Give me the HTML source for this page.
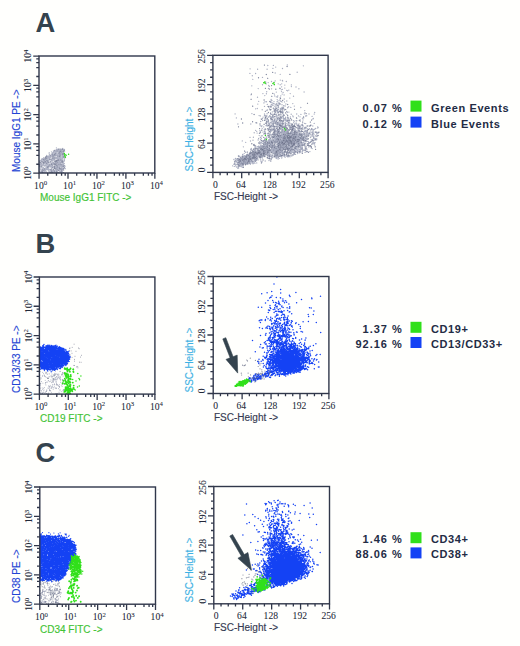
<!DOCTYPE html>
<html><head><meta charset="utf-8"><style>
html,body{margin:0;padding:0;background:#fffffd;}
body{width:520px;height:646px;overflow:hidden;}
svg{display:block;}
.tk{font-family:"Liberation Serif",serif;font-size:9.6px;fill:#222838;stroke:#222838;stroke-width:0.06px;}
.sup{font-size:6.8px;}
.ax{font-family:"Liberation Sans",sans-serif;font-size:10px;stroke-width:0.15px;}
.big{font-family:"Liberation Sans",sans-serif;font-weight:bold;font-size:28.5px;fill:#34434e;}
.lg{font-family:"Liberation Sans",sans-serif;font-weight:bold;font-size:11px;fill:#232c45;letter-spacing:0.6px;}
.pc{letter-spacing:1.0px;}
</style></head><body>
<svg width="520" height="646" viewBox="0 0 520 646">
<g transform="scale(0.1)">
<path d="M645 1494h0m-14-2h0m-3-8h0m-1 13h0m0 0h0m-4-8h0m-2 9h0m0-2h0m-6 1h0m-1-1h0m-3 3h0m-1-7h0m-8 3h0m-1-6h0m0 2h0m-2 3h0m-3-1h0m-4-1h0m-5 2h0m-2 0h0m0 5h0m-4-10h0m0 4h0m-10 1h0m-7-16h0m-2 16h0m-70 33h0m22-9h0m9 11h0m3-1h0m7-18h0m0 18h0m1-6h0m2 3h0m1-1h0m0-12h0m0 12h0m3-3h0m3-7h0m0-10h0m5 25h0m2-16h0m0-7h0m2 12h0m5-10h0m1 6h0m1-10h0m1 8h0m1-4h0m0 14h0m2-7h0m0-8h0m1 1h0m4-4h0m1 16h0m2-18h0m0 8h0m0 2h0m3-5h0m5 5h0m0-12h0m2 21h0m0-3h0m3 4h0m1 3h0m3-1h0m1-18h0m1 9h0m0-15h0m3 0h0m1 23h0m0-20h0m3 8h0m3 6h0m1 0h0m3-12h0m2 1h0m0 7h0m0 16h0m0-15h0m0-1h0m3-13h0m1 0h0m2 20h0m2-11h0m0 4h0m0 3h0m1 3h0m1 7h0m5-11h0m4 1h0m1 13h0m3-29h0m0 25h0m1-13h0m0-8h0m0 0h0m1 16h0m0-15h0m1 8h0m0-12h0m1 27h0m0-16h0m0 17h0m1 0h0m2-29h0m1 21h0m0-21h0m0 29h0m6-25h0m3 8h0m0 45h0m-4-14h0m-2 5h0m-4-18h0m-2 8h0m-3 8h0m0-15h0m-1 28h0m-1-16h0m0 15h0m-2-4h0m0-16h0m0 5h0m0-5h0m-1 16h0m0-14h0m-2 12h0m-4-12h0m-4 4h0m-1-11h0m-3-2h0m0 10h0m-1 2h0m-1 11h0m-5-15h0m-3-8h0m-1 9h0m0 11h0m-1-21h0m0 19h0m-1-8h0m-1-5h0m0 9h0m0-11h0m-1 4h0m-1-4h0m0 22h0m-1-5h0m-2-19h0m-1 25h0m0-10h0m-2-11h0m-2 22h0m0-2h0m0-23h0m-1-3h0m-1 0h0m0 17h0m0-14h0m-3-3h0m-2 0h0m-1 4h0m-1 13h0m0-17h0m-2 9h0m-1 12h0m-4 5h0m-2-2h0m-2-6h0m-3-12h0m-1 16h0m-1-8h0m-1 8h0m0 3h0m0-2h0m0-2h0m0-10h0m-1 12h0m0-5h0m0-6h0m0-10h0m-1 8h0m-1 8h0m-1 3h0m-1-21h0m0 5h0m-3 10h0m-1-15h0m-2 21h0m-2 6h0m-1-8h0m-1-9h0m-1 16h0m-1-11h0m-1 11h0m0-1h0m0-15h0m0 2h0m-4 7h0m0 2h0m-3 8h0m0-4h0m-2-14h0m-1 2h0m-3 10h0m-1-6h0m0-4h0m-1 11h0m-2-11h0m-2-10h0m-1 21h0m0-14h0m-1 18h0m-2-5h0m-1-2h0m-2 7h0m-1-6h0m-2-11h0m-3 5h0m0-5h0m0 1h0m-8 15h0m-3 2h0m-6-12h0m-1 12h0m-3-21h0m-9 21h0m-15-5h0m-46 35h0m7-4h0m2 3h0m7-6h0m0-6h0m12 13h0m2-11h0m0 2h0m4 1h0m0-11h0m3 12h0m1-6h0m1-10h0m3 18h0m1-21h0m1 21h0m0-23h0m2 2h0m0 0h0m1 8h0m5-6h0m0 19h0m0 1h0m2 2h0m0-14h0m1 1h0m3-14h0m0 3h0m0 2h0m1 11h0m1 0h0m1-5h0m4 11h0m2-7h0m0-7h0m1 8h0m0-3h0m1 1h0m1 14h0m1-6h0m1-14h0m1 11h0m0-15h0m3 11h0m2-13h0m0 23h0m3-18h0m2 7h0m1-13h0m1 14h0m0-7h0m3-7h0m8 19h0m1-17h0m2 23h0m3-8h0m3-18h0m2 5h0m2 15h0m0 4h0m2-17h0m0 17h0m1-4h0m1-2h0m3 10h0m3-15h0m1 9h0m0-16h0m0 23h0m4-16h0m3 6h0m1 8h0m0 2h0m5-17h0m3 8h0m0 0h0m1-12h0m1 2h0m1 9h0m2-4h0m2-2h0m2 13h0m4-10h0m2 5h0m1-19h0m1 7h0m1-8h0m1 12h0m0 1h0m1 11h0m2-1h0m0 3h0m0-27h0m1 11h0m3 16h0m0-21h0m3 4h0m1-7h0m1 23h0m3-9h0m0-14h0m3 23h0m0-10h0m0-12h0m1 16h0m2-18h0m0 3h0m1 0h0m1-5h0m0 19h0m1-14h0m3-5h0m1 0h0m0 21h0m0-5h0m1-10h0m0 9h0m3 10h0m3 2h0m2-16h0m6-6h0m1 5h0m0-8h0m1 4h0m1 21h0m1-14h0m0-13h0m1 18h0m0 2h0m0 4h0m1-16h0m2-3h0m3 5h0m5 8h0m1-15h0m4 11h0m0 1h0m8 7h0m8-14h0m-11 32h0m-1 4h0m-1-12h0m-1 24h0m-1-21h0m-5 16h0m-3-1h0m0 9h0m-6-4h0m-1-6h0m-3-12h0m0-4h0m-1 23h0m0-26h0m-4 13h0m0-6h0m0 13h0m-4-2h0m-1-8h0m0-7h0m-2-3h0m0 22h0m-2-16h0m-1 13h0m-2 1h0m-2-11h0m-1 7h0m-3 3h0m-1-6h0m-2 4h0m-1 2h0m0 9h0m-2-24h0m-2 6h0m-3-1h0m-1 1h0m-1 15h0m-1 2h0m-1-15h0m-1-8h0m-3 17h0m-1 4h0m-3-13h0m-5 2h0m-3 8h0m-1-5h0m0-16h0m-4 21h0m-2-5h0m0-1h0m0 13h0m-2-1h0m-1-14h0m0 3h0m0 5h0m-2 2h0m-1 0h0m-3 1h0m-4-7h0m-2 9h0m0-24h0m-2-2h0m0 5h0m-1 4h0m-4-8h0m-2 1h0m0-1h0m-3 5h0m-4 7h0m-1-9h0m0 8h0m-1-6h0m-5 3h0m-2-2h0m-2 10h0m0-6h0m-6 3h0m-1-8h0m-3 0h0m-1-1h0m-1 22h0m-1-7h0m-2 6h0m-2-3h0m-2-23h0m-4 3h0m-7 10h0m0-5h0m-6 12h0m0 4h0m-1 3h0m0-19h0m0 1h0m-1 5h0m-1-6h0m-5 14h0m-2 5h0m-1-16h0m-1 14h0m0-7h0m-5-6h0m-3-4h0m-2 18h0m-1-24h0m-4 8h0m-1 15h0m-1 0h0m-2-3h0m-2-16h0m-2 6h0m-1 8h0m-2 1h0m-2 3h0m-1-24h0m-3 11h0m-4 10h0m-1-4h0m-1-12h0m-2 7h0m-1-13h0m0 9h0m-5 1h0m-1 19h0m-3-3h0m-1-19h0m-1 1h0m-1 5h0m-1 15h0m-2-15h0m-1-13h0m-1 7h0m-1 12h0m0-11h0m-8 9h0m-9 2h0m0 8h0m0-1h0m0-1h0m0 3h0m0 18h0m0-6h0m0 13h0m0-2h0m0 5h0m0 0h0m0-24h0m0-2h0m0 21h0m0 6h0m1-13h0m0 10h0m4-15h0m2-4h0m1-5h0m2 23h0m2-20h0m2 10h0m3 2h0m3 6h0m5 6h0m8-25h0m2 14h0m0 9h0m1-13h0m0-2h0m0-3h0m1-2h0m1 10h0m4 14h0m0-29h0m0 0h0m2 19h0m0-8h0m3 0h0m2 4h0m0-6h0m4-4h0m1-5h0m3 19h0m4-11h0m0 12h0m4-1h0m1-3h0m1-8h0m1-5h0m1 11h0m1 0h0m0-10h0m0 0h0m1 1h0m1 21h0m1-21h0m4-2h0m0 18h0m1-10h0m1 8h0m0 2h0m1 2h0m5-18h0m3 7h0m1-8h0m0 23h0m0-19h0m0-2h0m1 3h0m3-6h0m3-3h0m4 29h0m0-8h0m5-14h0m1 16h0m7-3h0m1 4h0m2-24h0m1 17h0m1 9h0m3-3h0m5-13h0m1 7h0m2 8h0m0-25h0m1 2h0m1 10h0m0 1h0m1-2h0m1 18h0m0-8h0m4 6h0m0-15h0m1-3h0m0-3h0m2 16h0m0-12h0m1-10h0m1 23h0m1-8h0m1-2h0m7 13h0m0 1h0m1-8h0m2-19h0m1 29h0m1-22h0m1-5h0m3 25h0m1-2h0m0-24h0m1 5h0m1 5h0m0 0h0m0 9h0m1 0h0m5-20h0m1 24h0m2-7h0m0 3h0m1-6h0m1-1h0m0 1h0m0 11h0m2-20h0m1-3h0m0 22h0m1 0h0m1-10h0m0 14h0m2-20h0m2 6h0m1 11h0m0-7h0m0-2h0m0-12h0m2 17h0m0-6h0m2-12h0m2 13h0m1 11h0m0-21h0m1 21h0m1-1h0m0-19h0m1 1h0m5 12h0m0 4h0m2-12h0m1-7h0m0-4h0m1 20h0m0-12h0m4 10h0m1 1h0m0-11h0m0 9h0m2-13h0m2 22h0m0-5h0m1 4h0m3-23h0m1 24h0m0 0h0m7-13h0m0 14h0m3-20h0m2 16h0m0-23h0m2 6h0m0-6h0m3 3h0m4 6h0m0 14h0m10-7h0m6 30h0m-1-9h0m-4-2h0m-2 15h0m-1 4h0m-2-19h0m-4 5h0m-1-2h0m-2 3h0m-2 5h0m-2-8h0m-4-5h0m0-2h0m-1 15h0m-2 12h0m0-22h0m-1 13h0m0-2h0m-1-1h0m0-17h0m0 7h0m-4-4h0m-1 17h0m-1-11h0m-2-4h0m-1 10h0m0-2h0m-7-12h0m-2 9h0m-1-4h0m-1 2h0m-2-4h0m-1 11h0m-1 6h0m0-8h0m-2-4h0m-1 18h0m-2-7h0m-2-9h0m-6-9h0m-2 26h0m0-10h0m-8-16h0m0 18h0m0-11h0m-2 11h0m-2-11h0m0-5h0m-1 1h0m0 0h0m-3 22h0m-1-1h0m-2 2h0m-1-22h0m-2 3h0m0 9h0m-2-10h0m0 10h0m-1-1h0m-3 0h0m0 3h0m-3 1h0m-1-20h0m-3 10h0m-1 16h0m-1-14h0m-2 4h0m-6 2h0m-2-1h0m-3 7h0m0 3h0m-3-9h0m-1-17h0m-4 24h0m-1-12h0m-4 9h0m-2-7h0m0-10h0m-7 4h0m-2 11h0m-1-17h0m-3 11h0m-4-12h0m-1 5h0m-1-2h0m-4 12h0m-1-12h0m-2 3h0m-4 14h0m0-10h0m-1-7h0m-1 19h0m0-6h0m-1-11h0m-1 16h0m0-15h0m-4 16h0m0-21h0m-1 4h0m-2 10h0m-5 6h0m-1-5h0m-3-6h0m-4-13h0m0 2h0m-2 9h0m-1 15h0m-1 2h0m-2-19h0m-2-5h0m-7 4h0m-1-2h0m-4 5h0m-5-4h0m-2 20h0m-13-2h0m-1-17h0m0 4h0m-1-5h0m0 15h0m0-19h0m-1-3h0m-7 13h0m-1 1h0m-2 12h0m0-16h0m-2-1h0m-11 4h0m0 1h0m0 9h0m0-18h0m0 21h0m0-7h0m0 8h0m0-2h0m0-14h0m0-10h0m0-1h0m0 4h0m0 15h0m0-4h0m0-10h0m0 11h0m0 2h0m0 0h0m0-14h0m0-3h0m0 13h0m0 8h0m0-12h0m0 0h0m0 20h0m0 7h0m0 4h0m0-11h0m0 11h0m0 1h0m0-4h0m0-1h0m0 14h0m0-1h0m0-4h0m0-8h0m0-7h0m1 28h0m2-9h0m7-8h0m2 0h0m6 13h0m6-8h0m0 0h0m1-10h0m3 15h0m2-9h0m4 6h0m2-19h0m5 7h0m1 22h0m0-5h0m3-6h0m2 6h0m1-21h0m0 7h0m4 4h0m3 7h0m1-11h0m3-4h0m1 13h0m4 10h0m2-21h0m0-2h0m2-5h0m1 8h0m1 5h0m1-6h0m8-6h0m0-1h0m1 16h0m2-7h0m1-7h0m0 6h0m3 3h0m1-11h0m1 18h0m4 10h0m2-19h0m4 5h0m8-3h0m4 6h0m4 7h0m2 0h0m0 0h0m2-12h0m2 13h0m0-15h0m1 15h0m0-19h0m1 3h0m2 1h0m2 14h0m3 4h0m4-9h0m3-3h0m3 5h0m1-6h0m4 11h0m0-6h0m1 3h0m0-21h0m2 25h0m1-25h0m4 2h0m0-2h0m5 7h0m1 10h0m6-18h0m1 23h0m4-15h0m1 1h0m0 5h0m0 11h0m1-12h0m1-9h0m1 2h0m2 10h0m0 5h0m1-20h0m3 6h0m4 11h0m0-7h0m2-9h0m3 20h0m2-22h0m1 19h0m0-3h0m1 1h0m4 7h0m1-1h0m3-9h0m0 12h0m0-23h0m2 8h0m0 2h0m2-4h0m1 0h0m3-1h0m1-1h0m3-9h0m1 8h0m0 11h0m0-11h0m2 12h0m0 0h0m0-8h0m3-4h0m0-3h0m1 0h0m0 4h0m5 7h0m1 10h0m1-22h0m4 0h0m3 10h0m7-7h0m1 13h0m4-17h0m5-1h0m7 5h0m-18 38h0m-5 0h0m-1 0h0m-3 0h0m0 0h0m0 0h0m-2-8h0m-3 8h0m-4 0h0m0 0h0m-1 0h0m0 0h0m0-3h0m-1 2h0m0-12h0m-1 4h0m-1 9h0m-1 0h0m0 0h0m-1 0h0m-2 0h0m0-2h0m-1-6h0m0 8h0m-1-5h0m-1 0h0m-1 5h0m-1 0h0m0-14h0m-1 14h0m-3-7h0m0 7h0m-1 0h0m-1 0h0m0 0h0m0-12h0m-1-3h0m-2 15h0m-1 0h0m0-14h0m-1 14h0m-2 0h0m-5 0h0m-1 0h0m0 0h0m0 0h0m-1 0h0m0 0h0m-2 0h0m0 0h0m-4 0h0m-1-8h0m-2 8h0m0 0h0m-2-10h0m-1 10h0m-1 0h0m-2 0h0m0 0h0m-1-11h0m-1-3h0m-1 6h0m-1 4h0m-1 4h0m-1 0h0m-2 0h0m-2 0h0m-2 0h0m0-10h0m-1 10h0m-3 0h0m-4-11h0m-1 5h0m-3 6h0m0 0h0m-1 0h0m0-9h0m0 9h0m-1 0h0m0 0h0m-1-4h0m-3 4h0m-1 0h0m-5-7h0m0 7h0m0-10h0m-2 10h0m0-5h0m-1 5h0m-2 0h0m0 0h0m-1-6h0m0 3h0m0 3h0m-1-4h0m-1 4h0m-2-3h0m0 3h0m0-10h0m-2 10h0m0-1h0m-3 1h0m-1-10h0m0-1h0m-1-3h0m-2 14h0m-2 0h0m0-13h0m0 1h0m-1 12h0m-3 0h0m-3 0h0m0 0h0m0-14h0m-1 14h0m-2 0h0m-1 0h0m-1 0h0m-1 0h0m-3-13h0m-3 13h0m-1 0h0m0 0h0m-1 0h0m-1 0h0m-1-14h0m0 8h0m-16 6h0m-4 0h0m-3-3h0m-1 3h0m-3 0h0m0 0h0m0 0h0m-1-8h0m-5 8h0m0 0h0m-4 0h0m-3 0h0m-1 0h0m0 0h0m0-13h0m-3 13h0m-1 0h0m-2-7h0m-1 2h0m0-5h0m-3 9h0m-6 1h0m-1 0h0m0-5h0m-1 5h0m0 0h0m-4 0h0m-1-9h0m0-2h0m0 11h0m0 0h0m-4 0h0m0 0h0m-1 0h0m0 0h0m-3 0h0m-1 0h0m0 0h0m-2 0h0m0-8h0m-2-6h0m0 6h0m-3 2h0m-2 6h0m0 0h0m-5 0h0m0 0h0m-2 0h0m-1 0h0m-1-12h0m-2 2h0m0 6h0m0 4h0m0 0h0m0-10h0m0 10h0m0 0h0m0 0h0m0 0h0m0 0h0m0-3h0" stroke="#a0a5ba" stroke-width="12.5" stroke-linecap="round" fill="none" opacity="0.85"/>
<path d="M627 1497h0m-4-8h0m-36 5h0m-44 10h0m28 6h0m23 13h0m6-6h0m6-4h0m3-13h0m3 20h0m20-7h0m1-1h0m10-8h0m3 53h0m-4-14h0m-8-5h0m-7 0h0m0 5h0m-26-3h0m0 11h0m-11-15h0m-33-1h0m-6 16h0m-3-2h0m-4-7h0m-7 17h0m-10-16h0m-23 14h0m-53 23h0m4 1h0m0-11h0m8 14h0m4-21h0m1 8h0m55 7h0m3-18h0m4 24h0m10-11h0m9 16h0m30-29h0m15 4h0m5-4h0m37 3h0m4 12h0m16-7h0m-30 41h0m-4 7h0m-4-6h0m-14-11h0m-16 1h0m-3 2h0m-8 0h0m-5 2h0m-8 8h0m-2-5h0m0-1h0m-2 12h0m-4-4h0m-9 3h0m-37-20h0m-2 21h0m-11-24h0m-23 24h0m-1-16h0m-6 1h0m-12 13h0m-4-19h0m-3 14h0m-14-15h0m-12 20h0m-4 2h0m-22 28h0m0-26h0m1 24h0m6-19h0m7 8h0m22-1h0m0-2h0m1-5h0m16 0h0m16 9h0m20-10h0m11 25h0m17-12h0m1 9h0m26-13h0m7 13h0m1-7h0m9 6h0m2-14h0m1 9h0m13-18h0m16 24h0m19-4h0m4-19h0m1 24h0m14-20h0m15 48h0m-2-19h0m-7 6h0m-2 5h0m-38 10h0m-20-7h0m-4-11h0m-1-4h0m-23 22h0m-1-14h0m-2 4h0m-15-15h0m-4 24h0m-37-13h0m-8 12h0m-3-7h0m-55-15h0m-8 10h0m-3-3h0m-13-5h0m0 6h0m0 7h0m0-8h0m28 42h0m6-3h0m8 5h0m6-14h0m62 8h0m10-7h0m20 5h0m5 8h0m3-21h0m4 0h0m5 7h0m7-8h0m11 16h0m13 6h0m12-19h0m4 6h0m8-11h0m1 8h0m11 8h0m1 10h0m15-19h0m1 13h0m-2 25h0m-20-13h0m-3 13h0m-28 0h0m-9 0h0m-6 0h0m-3-8h0m-22-1h0m-17 6h0m-2 3h0m-9-14h0m-2 14h0m-2-13h0m-4 13h0m-8 0h0m-70 0h0m-4 0h0m-1-9h0m-5 9h0m-6-8h0m-18-2h0m0 10h0m0 0h0" stroke="#686e86" stroke-width="10.0" stroke-linecap="round" fill="none" opacity="0.60"/>
<path d="M686 1542h0m-24 10h0m-12-6h0m-6-12h0m2 26h0m8 12h0" stroke="#30e01a" stroke-width="15.0" stroke-linecap="round" fill="none"/>
<path d="M3034 658h0m-161-9h0m-139 5h0m-56 1h0m-34-4h0m-143 37h0m228-4h0m28-13h0m68 14h0m46-20h0m-200 27h0m-95 0h0m-77 42h0m57 1h0m107 10h0m64-21h0m25 6h0m50 13h0m97 1h0m73-22h0m-347 52h0m-40 3h0m-62-20h0m5 36h0m149-10h0m75 25h0m51-7h0m21 3h0m2 5h0m37 6h0m-46 23h0m-35 0h0m-40-16h0m-27-7h0m-33 11h0m-19 12h0m-6-17h0m-139 37h0m107-11h0m62 7h0m6 10h0m23-8h0m25-13h0m1 5h0m60-1h0m14 21h0m32-17h0m66 15h0m0-17h0m75 38h0m-29-17h0m-112 11h0m-24 12h0m-11 5h0m-13-13h0m-1-4h0m-41 11h0m-42-4h0m-23 3h0m-8-7h0m-31 0h0m-72 2h0m85 31h0m96 4h0m52-5h0m16 9h0m37-21h0m8 4h0m12-7h0m153 19h0m-139 16h0m-61 13h0m-19-8h0m-14 17h0m-30 0h0m-31 1h0m-3-18h0m-16-7h0m-64 3h0m-16 19h0m-19-20h0m-115 5h0m-4 7h0m65 24h0m143-9h0m45 5h0m12 2h0m26 11h0m2-8h0m2 12h0m93-4h0m37-19h0m-67 48h0m-23 9h0m-3-29h0m-15 14h0m-7 15h0m-9-5h0m-8-5h0m-5-9h0m-17 8h0m-9-12h0m-1 21h0m-31-1h0m-21-12h0m-8-9h0m-3 17h0m-10 3h0m-33 2h0m-15 0h0m-9-17h0m-54 13h0m-76-20h0m67 48h0m61-12h0m34 15h0m32-20h0m8 19h0m6-18h0m4 24h0m7-14h0m8 0h0m12 6h0m11 7h0m5-11h0m11 12h0m6-17h0m6-4h0m4 17h0m4-12h0m8 8h0m15 6h0m39-7h0m18 5h0m51-9h0m147-3h0m-67 42h0m-65-14h0m-35 13h0m-21-6h0m-3 0h0m-8 9h0m-24-17h0m-14-2h0m-2 21h0m-4 0h0m-10-7h0m-36 0h0m-1-19h0m-2 11h0m-3 14h0m-2 1h0m0-23h0m-16 5h0m-1 16h0m-7 1h0m-5-16h0m-19-7h0m-19 7h0m-1 9h0m-6-4h0m-2-5h0m-14 5h0m0 5h0m-7-8h0m-36 0h0m-118-2h0m29 26h0m17-3h0m49 12h0m46 7h0m1 1h0m5-6h0m21-10h0m6 8h0m4 1h0m6-3h0m22-13h0m8 17h0m4 5h0m4-17h0m1 15h0m4-18h0m2 14h0m2-13h0m2 6h0m3-4h0m1-2h0m5 22h0m2-4h0m4-10h0m2 4h0m3 12h0m4-15h0m20 2h0m0-7h0m0-5h0m10-2h0m2 8h0m0-2h0m5 8h0m1 13h0m6-24h0m13 6h0m1 8h0m15-4h0m88-2h0m102 13h0m100 19h0m-86 11h0m-11-10h0m-6 12h0m-155-17h0m-15 1h0m-8-8h0m-9 15h0m-25-9h0m-3 11h0m-2-2h0m-6-1h0m-2-8h0m-2 6h0m-6-8h0m-3-2h0m-2 9h0m-1-15h0m-1 12h0m-1-8h0m-6-2h0m-10 7h0m-4 8h0m-6 0h0m-3-10h0m0-5h0m-17 9h0m-2-10h0m-3 11h0m-8 12h0m-2-18h0m-19 3h0m-18 13h0m-21-7h0m-13 12h0m-18-24h0m-134 23h0m-168 3h0m190 6h0m50 11h0m13 3h0m41-4h0m0-15h0m3 19h0m5-5h0m3 12h0m4 1h0m8-8h0m22 5h0m6-7h0m7 5h0m2 2h0m3-21h0m4 0h0m7 26h0m2-28h0m0 1h0m4 21h0m1-4h0m4 10h0m3-20h0m6 17h0m7-21h0m1 22h0m5-24h0m8 8h0m0-11h0m0 27h0m3 1h0m3-20h0m0 4h0m2 0h0m4 7h0m15-10h0m2 2h0m2-7h0m11 18h0m2-20h0m2 0h0m13 7h0m3 17h0m9-6h0m2 6h0m3-15h0m1-4h0m7 7h0m25-11h0m8 11h0m0 14h0m35-26h0m15 16h0m5 9h0m35-27h0m18 19h0m15 9h0m9-24h0m47 16h0m11-3h0m23-17h0m31 24h0m21-23h0m-9 43h0m-4 6h0m-92-11h0m-1-9h0m-6 29h0m-6-17h0m-56 1h0m-3-4h0m-49 20h0m-9-13h0m-3-16h0m-13 21h0m-6-11h0m-6 0h0m-5-3h0m-3 22h0m-15-28h0m0 14h0m-2-5h0m-4 18h0m-1-15h0m-6 3h0m-3 8h0m-3-7h0m-3-15h0m-4 5h0m-1 4h0m-16-8h0m0 11h0m-1-9h0m-1-1h0m-4 16h0m-3-8h0m-2-5h0m-6 9h0m0 3h0m-1 3h0m-3 3h0m-1-14h0m0 18h0m-1-18h0m-8-10h0m0 2h0m-2 5h0m0 12h0m-3-7h0m-2 0h0m-1 15h0m-4-13h0m-2-7h0m-7 21h0m-8-11h0m-9 2h0m-11-13h0m-6 22h0m-3-6h0m-2-19h0m-1 21h0m-2-25h0m-1 13h0m0-7h0m-1 22h0m-1-4h0m-3-2h0m0-18h0m-1 19h0m-4 5h0m-2-16h0m-18-10h0m-10 21h0m-5-6h0m-3-7h0m-4 11h0m-12-16h0m-1 7h0m-3 0h0m-19-11h0m-6 14h0m-9 8h0m-4-3h0m-198 0h0m-50-11h0m162 38h0m35 10h0m46-12h0m19-10h0m20-2h0m5-3h0m14 13h0m1 16h0m4-4h0m2-16h0m7 7h0m6-14h0m1 17h0m18 6h0m2-2h0m12-7h0m2 10h0m3-9h0m5-8h0m0-6h0m8 13h0m4-3h0m1 1h0m0-11h0m1 6h0m2-9h0m0 7h0m0 21h0m3-19h0m1 9h0m2-4h0m0 12h0m7-7h0m5-14h0m3 14h0m0-7h0m6-8h0m2 21h0m1 2h0m3 0h0m2 2h0m2-3h0m2-6h0m3 6h0m2-2h0m0 2h0m5 2h0m2-20h0m2-4h0m2 2h0m2-6h0m4 21h0m0-8h0m0 3h0m2-12h0m4 7h0m4-6h0m0 6h0m3 4h0m2 13h0m2 1h0m8-7h0m0-7h0m1-9h0m0-3h0m1 11h0m17-12h0m2 20h0m5-22h0m3 0h0m2 8h0m8 8h0m1-4h0m0-10h0m4 14h0m5-13h0m2 15h0m0-11h0m4-6h0m2 25h0m9-7h0m1-16h0m37 3h0m3 20h0m5-14h0m19-5h0m0 22h0m7-22h0m25-4h0m9 10h0m1-13h0m24 21h0m76 0h0m13-20h0m26 33h0m-33 18h0m-7 3h0m-22 4h0m-23-23h0m-12-3h0m-20 9h0m-2 10h0m0-8h0m-10 6h0m-23 5h0m0-17h0m-6 13h0m-5 2h0m-10-3h0m-1-11h0m-17 0h0m-5 20h0m-2-9h0m0-10h0m-4 16h0m-9 1h0m-7-14h0m-4 0h0m-2-7h0m-1 20h0m-2-13h0m-14 9h0m-1-17h0m-2 22h0m-4-2h0m-7-13h0m-1-12h0m-2 25h0m0 2h0m-10-7h0m-4-14h0m-10 21h0m-3-25h0m-1 17h0m0-14h0m-7 18h0m-1-15h0m-15 2h0m-1-5h0m-4 14h0m-2 3h0m0 7h0m0-2h0m-1-18h0m0 10h0m-9-16h0m-1 22h0m-2 3h0m-1-3h0m-1-7h0m-2-8h0m-1 16h0m-1 0h0m-6-24h0m0 23h0m-3-4h0m0-4h0m-1 7h0m-1-1h0m-1-21h0m-1 18h0m-5-3h0m-3-1h0m-1-10h0m-6 17h0m0-20h0m-1 10h0m-6-8h0m0 14h0m-6-9h0m-5 8h0m-2-17h0m-1 6h0m0-4h0m0 5h0m-4-8h0m-10 1h0m-7-1h0m-1 11h0m-3 14h0m0 3h0m-5-15h0m0 6h0m-2-2h0m-2-13h0m-9 17h0m-2 1h0m-1 5h0m0-27h0m-14 12h0m-2-9h0m-4 6h0m-1 13h0m-2 4h0m-4-20h0m0 18h0m-11-3h0m-1 6h0m-5-2h0m0 3h0m-2-19h0m-3 16h0m-4 1h0m-1-24h0m-17 11h0m-22 14h0m-17 0h0m-2-17h0m-32-10h0m-60 10h0m-81-10h0m-48 10h0m6 28h0m211 18h0m19-20h0m7 17h0m15-14h0m41-8h0m0 25h0m12-5h0m2 4h0m4-7h0m3-15h0m4 10h0m1-12h0m1 7h0m2 0h0m2-3h0m10 13h0m4-14h0m11-1h0m4 10h0m2-10h0m0 2h0m1 24h0m2-17h0m2 2h0m0-9h0m1 24h0m2-25h0m3 1h0m7 3h0m5 18h0m4-23h0m2 5h0m2 8h0m1 5h0m3 8h0m1-17h0m7-7h0m10 4h0m1 6h0m2 8h0m0-7h0m2 13h0m2 0h0m2-22h0m1-6h0m3-1h0m1 19h0m6-12h0m1 0h0m2 1h0m2-2h0m1 17h0m1 4h0m3-9h0m4-2h0m0-13h0m2 4h0m1-4h0m3 0h0m5 13h0m5-8h0m5 2h0m0-2h0m2 8h0m1-9h0m0 12h0m1 7h0m1-8h0m2-1h0m2-10h0m1 5h0m1 6h0m1 4h0m8-9h0m3 9h0m0 7h0m2-4h0m1 0h0m0 0h0m16-25h0m3 10h0m0-2h0m2 21h0m1-12h0m6-3h0m2 14h0m3-15h0m1 12h0m0 1h0m0-17h0m1 7h0m10 11h0m1-15h0m3-6h0m1-4h0m5 19h0m0-4h0m2 8h0m2-24h0m1 1h0m1 19h0m3-15h0m1-4h0m4-2h0m3 22h0m1-18h0m7 4h0m1 2h0m3 1h0m10 5h0m2 1h0m7-17h0m1 27h0m5-23h0m4 24h0m3-16h0m0 12h0m2 5h0m0-10h0m2 5h0m4-18h0m3-6h0m6 25h0m1-13h0m10 14h0m6-14h0m3 17h0m6-29h0m10 29h0m0-14h0m8 10h0m1-2h0m1-7h0m0 0h0m0-3h0m5 7h0m2-7h0m12-13h0m0 27h0m22 0h0m1 2h0m4-27h0m19 25h0m10-27h0m23 28h0m6-4h0m20-14h0m1 10h0m3-5h0m-40 19h0m-8 6h0m-2 12h0m-5 7h0m-5-21h0m0-4h0m-8 1h0m-9 6h0m-20-6h0m-6 6h0m-2 1h0m-2 5h0m0-1h0m-7 5h0m-2 2h0m-2-4h0m-2-6h0m-4 1h0m-1 15h0m-4-10h0m-2 1h0m-6 6h0m-2-5h0m-14-20h0m-4 23h0m-7 0h0m-3-4h0m-1 1h0m-1 3h0m-1-23h0m-9 24h0m-1 1h0m-3-26h0m-2 17h0m-3 12h0m-4-14h0m-2 1h0m-1 2h0m-3 11h0m-2-24h0m-8 14h0m-7 0h0m-7 9h0m-3-11h0m-2 7h0m-1-22h0m-2 17h0m-4 1h0m0-10h0m-3 19h0m-6-26h0m-5-2h0m-1 0h0m0 10h0m-1 6h0m-6-13h0m0 25h0m0-25h0m0-4h0m-1 21h0m-2 7h0m-2-14h0m-1 5h0m-1-11h0m-1 8h0m-1-10h0m-5 17h0m-7-20h0m-9 4h0m-4 9h0m0-5h0m-2-5h0m-2 4h0m-4 0h0m-1 17h0m0-20h0m-2 20h0m-3-24h0m0 7h0m-1 7h0m-1 8h0m-6 0h0m-1 2h0m-2-8h0m0-19h0m-2 9h0m-5 12h0m-1 1h0m-2-17h0m-2 3h0m-7 18h0m-2-24h0m0 15h0m-4-8h0m-3-1h0m-1 0h0m-1 21h0m-4-8h0m-1 2h0m-2 0h0m-1-5h0m-2 9h0m-3-21h0m0 2h0m-1 19h0m-3-13h0m-1 7h0m0 3h0m-2 1h0m-2 0h0m0-7h0m-5-16h0m-10 27h0m-3-8h0m-4-21h0m-1 21h0m-1-9h0m-2 7h0m-2 6h0m-3-22h0m-2 5h0m-4-5h0m0 6h0m-1 0h0m0 7h0m-1-2h0m-1 5h0m0-13h0m0-5h0m-4 27h0m-1-9h0m-4 10h0m0-10h0m-7 0h0m-4-12h0m-1 18h0m-3-8h0m-2 10h0m0-9h0m-1 0h0m-5-7h0m0 16h0m0-18h0m-9 0h0m0-9h0m-10 4h0m-1-2h0m-1 13h0m-4 2h0m-1 4h0m-1-9h0m-5-11h0m-2 14h0m-5-5h0m-2 17h0m-8-2h0m-3-20h0m-2 12h0m-1-2h0m-6-6h0m-24-7h0m-5-2h0m-2 25h0m-2-14h0m-5 16h0m-1-19h0m-24 3h0m-1 3h0m-18 3h0m-32 6h0m-11-10h0m-14 24h0m29 4h0m23 2h0m6-2h0m1-5h0m5-5h0m23 0h0m8 18h0m10-5h0m5 8h0m0-14h0m2 2h0m1 8h0m20-3h0m11-2h0m2-2h0m0 18h0m12-10h0m1-1h0m3 10h0m0-25h0m19 20h0m8-4h0m1-4h0m2-13h0m0 27h0m4-26h0m4 12h0m0-1h0m0 13h0m1-27h0m1 7h0m2 20h0m3-1h0m3-23h0m0 7h0m3 7h0m2 9h0m8-26h0m1 23h0m3-2h0m1-3h0m1-3h0m1 4h0m5 1h0m0-17h0m4 11h0m3-8h0m2 3h0m0-8h0m1 8h0m3 18h0m1-19h0m1 6h0m2 8h0m2-11h0m2 5h0m3-15h0m3 3h0m3 2h0m2 3h0m0 14h0m0-19h0m7 8h0m0-6h0m1 10h0m2 11h0m0-23h0m0 13h0m1-11h0m6 20h0m1-17h0m3 2h0m1 15h0m2 2h0m1-15h0m2-10h0m0 22h0m3-24h0m0 22h0m0 6h0m0-17h0m1-12h0m1 11h0m1 3h0m2 12h0m3-20h0m1 10h0m1-10h0m2 19h0m4-19h0m2-5h0m0 22h0m3-11h0m3-6h0m1-6h0m4 12h0m1 4h0m0-5h0m1 12h0m0-11h0m0-1h0m2-2h0m1 14h0m0 5h0m1-18h0m4 10h0m1-12h0m4 19h0m2 0h0m1-11h0m0 12h0m1-9h0m0 10h0m0-17h0m1 1h0m2-2h0m2 7h0m1-2h0m5 13h0m1-5h0m0-12h0m0 10h0m0-8h0m7-4h0m2 11h0m1-10h0m0 1h0m0-4h0m0 3h0m1 14h0m0-14h0m2-10h0m1 12h0m2 3h0m2-1h0m5 2h0m1 11h0m0-25h0m3 4h0m1 1h0m3 14h0m0-9h0m2-7h0m0 22h0m3-1h0m5-2h0m1 3h0m1-26h0m1 7h0m0 5h0m1 3h0m0 7h0m1-18h0m2 12h0m0 8h0m1-5h0m1-19h0m2 14h0m0-3h0m2 0h0m2-12h0m2 19h0m4-1h0m2 10h0m2-22h0m2 19h0m1-5h0m2 8h0m1-23h0m2 23h0m2-4h0m0-18h0m1 19h0m1-13h0m1 5h0m1-17h0m6 28h0m4-10h0m2-1h0m2-1h0m2 7h0m1-7h0m0 0h0m2 11h0m2-1h0m0-2h0m2-12h0m2 1h0m4 3h0m0-4h0m3-5h0m1 20h0m4-7h0m7 1h0m6-7h0m1 9h0m3 5h0m1-27h0m4 27h0m1-19h0m3 13h0m5-9h0m1 15h0m1-16h0m0 6h0m15 4h0m2-1h0m2-16h0m1 3h0m4-7h0m1 0h0m2-2h0m3 22h0m3-10h0m3 11h0m3-7h0m7-7h0m2 4h0m1 3h0m3-16h0m0 21h0m1 7h0m11-27h0m9 21h0m2-17h0m5 12h0m3-14h0m3 14h0m2-4h0m3 10h0m12-22h0m8 1h0m5 19h0m1-2h0m3-17h0m2 8h0m1 2h0m9-3h0m8-7h0m-8 33h0m-7 0h0m-4 10h0m-11-6h0m-21 1h0m0 12h0m-11-12h0m-6-8h0m-4 9h0m-11 14h0m-3-5h0m-15-14h0m-6 7h0m0-3h0m-3-7h0m-3 15h0m0 0h0m-8 0h0m-2-5h0m-4-5h0m-3 21h0m-4-16h0m-3 4h0m-2-10h0m-2-1h0m0 14h0m-7-2h0m-1 9h0m-3-4h0m-3-7h0m-3 8h0m-5 4h0m-3-25h0m0 19h0m0 7h0m-1-5h0m0-21h0m-3 12h0m-4 0h0m-1-10h0m-1 8h0m0 1h0m-1 4h0m0-10h0m-4-3h0m-1-4h0m-2 24h0m-2-22h0m0-3h0m-1 3h0m0-2h0m-2 24h0m-3-24h0m0 23h0m-2-6h0m-2 11h0m-1-6h0m0-6h0m-1 1h0m0-16h0m-4 25h0m0-11h0m-6-10h0m0 22h0m-2-11h0m-2-10h0m0 12h0m-2-6h0m-2 8h0m-3 3h0m-1-23h0m-4 18h0m0-13h0m0 12h0m-1 9h0m-2-19h0m-1 0h0m0 5h0m-1-3h0m-1 16h0m-4-8h0m0-1h0m-3-6h0m0 5h0m-1 6h0m0-17h0m0 19h0m-1-4h0m-1-7h0m-1 13h0m-2-17h0m0 0h0m-4 0h0m0-1h0m-1 15h0m0 4h0m-1-19h0m-2 8h0m-1 5h0m-1-14h0m0 15h0m-1-3h0m0 2h0m0-16h0m-1-1h0m-3-3h0m0 3h0m-4 16h0m-2-6h0m-3-10h0m-2 13h0m-1-11h0m-1 21h0m0 0h0m0-9h0m-4-14h0m0 13h0m0 7h0m-1-13h0m-1 11h0m-1-9h0m-3 10h0m-1 2h0m0-8h0m-3 0h0m-1-10h0m0 18h0m-1 0h0m-1-10h0m-1 13h0m0-23h0m-2 11h0m0 12h0m-1 0h0m-2-16h0m0 1h0m-1 10h0m0-21h0m-2 21h0m0-16h0m-2 21h0m-2-23h0m0 23h0m0-27h0m-1 7h0m-2-3h0m0 22h0m-1-5h0m-2-4h0m-1 8h0m0-1h0m-1-16h0m-1-1h0m-1-7h0m0 4h0m0 3h0m-3 12h0m0 8h0m-1-7h0m-2-4h0m0-15h0m-1 9h0m0 17h0m0-25h0m-1 5h0m-3 15h0m-1-23h0m-5 25h0m0-4h0m-1-2h0m0-8h0m-2-2h0m-1 8h0m-1-4h0m-1 8h0m-1-8h0m-1 4h0m0 4h0m-1-5h0m-2-15h0m0 28h0m-1-27h0m0 22h0m-2-24h0m-2 28h0m-1-15h0m-1 3h0m0-13h0m-2 10h0m-1-4h0m-1 19h0m-3-14h0m-1 13h0m0-12h0m0 14h0m-2-24h0m0 24h0m-2-7h0m-2-13h0m-1 17h0m0 2h0m-2 1h0m0-26h0m0 11h0m-5 7h0m-1 5h0m-3-19h0m-2 9h0m0 7h0m-1-6h0m-2 10h0m-3-18h0m0-5h0m-1 7h0m0-4h0m-1 13h0m-1 9h0m0-7h0m0-9h0m0 7h0m-3 4h0m0-9h0m-1-5h0m-1-3h0m0 14h0m-2 1h0m-3-1h0m-1-21h0m-1 3h0m-1 2h0m-5-4h0m-1 11h0m-2 12h0m-1-12h0m-3 1h0m0 15h0m-1-22h0m-1 22h0m0-24h0m-1 5h0m0 14h0m0-21h0m-2 23h0m-3-25h0m-1 13h0m-5 6h0m0-4h0m-8-14h0m-3 22h0m0-14h0m-2 16h0m-1-16h0m-1 17h0m0-6h0m-3-18h0m-1 16h0m-1-15h0m-1 5h0m0 1h0m-1 5h0m-1 14h0m0-28h0m0 17h0m-1-1h0m-6-3h0m0 10h0m0-1h0m-4 3h0m-1 2h0m-1-1h0m0-4h0m-7-2h0m-1-8h0m0 6h0m-1 11h0m-1-7h0m-3-22h0m-2 20h0m-5-20h0m-1 21h0m-12 0h0m0-20h0m-6 13h0m-2 2h0m-1 8h0m-2-19h0m-9-4h0m-3 7h0m-12 12h0m-25 4h0m-16-17h0m-9 2h0m-9 16h0m-12-19h0m-58 16h0m-34 2h0m-77 35h0m107-7h0m51-2h0m5-15h0m19 12h0m9-15h0m2 22h0m16-1h0m1 5h0m14-14h0m1 9h0m1-14h0m7 19h0m3-24h0m4 16h0m0-5h0m0-9h0m3 20h0m4-25h0m15 19h0m9-5h0m5-3h0m2-5h0m2 12h0m3-14h0m7 14h0m7 7h0m2-6h0m2 0h0m3-17h0m1-2h0m1 3h0m2 16h0m0-19h0m6 21h0m10-18h0m1 8h0m3 11h0m2-19h0m0 11h0m2-2h0m4 7h0m3-4h0m0-11h0m1 17h0m4 2h0m1-24h0m1 17h0m1 7h0m1 3h0m1-18h0m0-8h0m0 19h0m4-12h0m3-5h0m3 21h0m3-12h0m1 17h0m0-14h0m1-4h0m1 7h0m2 2h0m1-5h0m1-8h0m0 19h0m1-1h0m1-13h0m1-9h0m1 19h0m0 4h0m1-13h0m2 15h0m3-28h0m1 26h0m0-13h0m2 4h0m0 2h0m1-13h0m2 12h0m0 8h0m2-13h0m0 13h0m5-4h0m2-3h0m2 4h0m3 6h0m0-22h0m3 6h0m1-5h0m1 21h0m0-29h0m3 21h0m1-15h0m1-2h0m1-3h0m0 28h0m0-23h0m0-2h0m0 18h0m1-14h0m0-1h0m0-7h0m1 27h0m1-17h0m1 17h0m0 2h0m1-18h0m2 2h0m0 13h0m0-12h0m2-8h0m2 0h0m1 21h0m1-8h0m3 8h0m0 2h0m0-7h0m1-18h0m1 3h0m2 5h0m0 0h0m2-12h0m1 27h0m2 2h0m1-12h0m0-10h0m2 21h0m3-5h0m1-13h0m1 12h0m1-4h0m1-14h0m1 18h0m0-22h0m1 26h0m1-17h0m0-2h0m1 19h0m4-9h0m0-12h0m1 9h0m0 10h0m3 5h0m1-1h0m1-15h0m1-8h0m1 22h0m0-25h0m1 6h0m0 13h0m2-4h0m1 6h0m0-10h0m0-7h0m1 9h0m0-14h0m1 28h0m3-20h0m2 7h0m0 2h0m1 8h0m1-3h0m0-11h0m2 10h0m1-11h0m0 6h0m0 4h0m1-21h0m0 13h0m0-8h0m1-2h0m1 8h0m2 13h0m1-23h0m0 22h0m0-14h0m2 4h0m2 15h0m0-22h0m1 21h0m1-9h0m0 0h0m1-11h0m1-2h0m2-2h0m4 1h0m3 2h0m0 12h0m1-2h0m0-7h0m1 11h0m0 0h0m2 3h0m0 2h0m0-14h0m0-10h0m1 8h0m0 14h0m2-9h0m0-1h0m1 14h0m0-18h0m0-5h0m0 25h0m1-20h0m1 16h0m3-5h0m0-17h0m1 25h0m0-1h0m0-26h0m1 6h0m1-3h0m0 9h0m1-8h0m0 8h0m3-4h0m0 2h0m1-6h0m1 24h0m1-13h0m0 5h0m1-9h0m1 14h0m1-15h0m1-11h0m1 11h0m2 14h0m0 0h0m1-6h0m1-5h0m3 15h0m0-2h0m0-20h0m2 11h0m0 6h0m2-7h0m0 9h0m1-16h0m3 4h0m2 6h0m0-6h0m1-8h0m3 1h0m1-1h0m0 13h0m1-9h0m1 7h0m3-11h0m1 16h0m0-6h0m2 11h0m1-19h0m1 10h0m1-2h0m0-9h0m0 22h0m0-1h0m0-7h0m1 8h0m0-25h0m1 14h0m1-11h0m1 11h0m8 0h0m0-7h0m1 9h0m6-19h0m2 3h0m1 23h0m0-24h0m1 14h0m2 3h0m0-19h0m3 13h0m1-13h0m0 3h0m3 11h0m2 10h0m0-16h0m4 16h0m4-14h0m1 0h0m3-7h0m0 9h0m1 11h0m2-24h0m0 15h0m3-5h0m0 11h0m1-18h0m0 23h0m1-23h0m1 11h0m1 8h0m9-5h0m2 12h0m0-9h0m1-18h0m4 1h0m0 24h0m5 2h0m1-5h0m3-17h0m0 13h0m0-12h0m9 2h0m10-2h0m1 0h0m27 8h0m10 3h0m4-4h0m0 9h0m9-21h0m0 25h0m0-25h0m1-1h0m4 1h0m2 4h0m1 14h0m10-14h0m2 10h0m3-12h0m8 12h0m2-7h0m-17 36h0m-6 9h0m-5 0h0m-1 4h0m-1-12h0m-10 2h0m-4 4h0m-5-15h0m-1-7h0m-11 3h0m-4 9h0m-8 1h0m-2 8h0m-7-8h0m-2-8h0m-5 22h0m-1 0h0m-2 1h0m-4-25h0m-1 25h0m-12-22h0m-9 18h0m0 2h0m-10-24h0m-1 13h0m-9 10h0m-2-10h0m-3 3h0m-8 1h0m-1-20h0m-1 2h0m-2 2h0m0 19h0m0-9h0m-2 6h0m0-2h0m-2 2h0m0-11h0m-5 6h0m-1-12h0m-2 16h0m-2-19h0m-2 18h0m0-16h0m0 26h0m-8-3h0m0-13h0m-2-12h0m-2 12h0m-1-8h0m-1 19h0m-3 4h0m-2-18h0m-1 20h0m0-2h0m-1-8h0m0-13h0m-5 1h0m0 4h0m-1-10h0m-1 6h0m-2 5h0m-1 13h0m-5-3h0m-3-11h0m-1 9h0m-2 8h0m-1-4h0m-5-23h0m0 12h0m-2-3h0m0-1h0m0 18h0m-1-24h0m-2-2h0m0 20h0m-3-21h0m0 2h0m-1 14h0m0 12h0m0-23h0m-1 11h0m-1-4h0m-1 8h0m-1-10h0m-1-3h0m-1 17h0m0 0h0m-2-14h0m-2 14h0m0-9h0m-1-14h0m0 26h0m-1-26h0m0 5h0m-1 17h0m0 6h0m0-2h0m-3-22h0m-2 6h0m-1-3h0m-2 1h0m-1 18h0m-1-7h0m-1-1h0m0-6h0m-1 9h0m0-19h0m-1 0h0m-4 23h0m0-16h0m-1 0h0m-1 13h0m0-11h0m0-7h0m-3 24h0m0-18h0m0 18h0m-1-26h0m-1 23h0m0-26h0m-1 1h0m0 28h0m0-10h0m-1-1h0m0-13h0m-3 21h0m-1 1h0m-1-9h0m-1-6h0m0 16h0m0-27h0m0 15h0m-1 10h0m0-10h0m-1-3h0m-1-13h0m0 9h0m0-2h0m-3 0h0m-1 15h0m-3 5h0m0-4h0m-1-9h0m0 15h0m0-13h0m-2 2h0m-2-8h0m-1-7h0m0 11h0m-1-6h0m0 6h0m-2-6h0m0 19h0m-1-19h0m-2 2h0m-1-9h0m-1-1h0m0 27h0m-1-18h0m0-8h0m0 4h0m-2 11h0m0 10h0m0-16h0m-1 15h0m0-4h0m0-2h0m-1-19h0m-1 4h0m-1 2h0m0-3h0m-1 1h0m0 20h0m0-19h0m-1 8h0m-1 8h0m-1-9h0m-2 4h0m-1-12h0m0-2h0m-1 8h0m0 2h0m-3-10h0m-1 12h0m-2-9h0m-1 13h0m-1-8h0m0 12h0m-1-21h0m0 24h0m-1-8h0m-1-13h0m0 20h0m-1-5h0m0 2h0m0-18h0m0 14h0m0-10h0m-2-1h0m0 10h0m0-10h0m-1 4h0m0 8h0m-3-6h0m0-12h0m0 6h0m-2 3h0m0-1h0m0 19h0m-2-12h0m-1-10h0m0 22h0m-1-15h0m0 10h0m0-2h0m-1 2h0m0-17h0m0 6h0m0-2h0m-1 18h0m-1-27h0m-1 29h0m-1-13h0m0-1h0m-2 0h0m0-9h0m0-2h0m-1 9h0m0 0h0m0 6h0m-2 4h0m0-10h0m-1-1h0m-2-12h0m-1 10h0m-1 18h0m-1-8h0m-1 1h0m-2 3h0m0-22h0m-6 26h0m0-16h0m0 8h0m0-10h0m-2-3h0m-3 8h0m-1 8h0m-1-12h0m0 7h0m0 4h0m-1-1h0m0-8h0m-3-9h0m0-2h0m-1 15h0m-2 10h0m-3-1h0m0-3h0m-2-16h0m-2-5h0m0 0h0m-2 19h0m0 6h0m-1-13h0m-3-11h0m-1 6h0m-4-2h0m0 6h0m-1 14h0m-2-14h0m-2-1h0m0 3h0m-5-9h0m-1 3h0m-1 4h0m-2-5h0m-1-8h0m-1 18h0m-1-17h0m-4 18h0m-3-2h0m-1-7h0m0-9h0m-1 13h0m0 15h0m-6-18h0m-2-5h0m-6-1h0m-3-1h0m-3 11h0m-1 12h0m-1-16h0m-1 9h0m-1 7h0m-1-23h0m-1 3h0m-1 11h0m-1-17h0m0 14h0m-1-3h0m0-5h0m-5 11h0m-1-11h0m0 4h0m-1-6h0m0-1h0m-2 7h0m0 14h0m-1-21h0m0-2h0m0 1h0m-2 26h0m-2-28h0m-1 19h0m-5-15h0m-2 6h0m0 16h0m-1-6h0m-1-8h0m-1 3h0m-1 5h0m0-21h0m-2 25h0m-3 3h0m0-7h0m-1-5h0m-1-11h0m-1 15h0m-7-18h0m-2 16h0m0-12h0m-2 14h0m-2-9h0m-1 7h0m0-4h0m-1 12h0m-8-2h0m-1-20h0m0-1h0m-2 17h0m-1 5h0m0 4h0m-5-25h0m0 9h0m-3 11h0m-4 0h0m-5-5h0m0-7h0m-3 5h0m-1-17h0m-5 25h0m-1-22h0m-4 21h0m-6-22h0m-2 4h0m-2 14h0m-5-4h0m-4 0h0m-5 4h0m-5 6h0m-1-19h0m-7 18h0m-1-5h0m-1-1h0m-71 8h0m-13-27h0m-48 13h0m-23 45h0m103-19h0m1 1h0m3-5h0m7 9h0m2 12h0m3-7h0m2 2h0m1-3h0m15 11h0m9-2h0m1-3h0m4-2h0m8 7h0m5-1h0m5-8h0m5-10h0m1 17h0m9-14h0m2 14h0m1-7h0m1 6h0m0 1h0m3-8h0m4 9h0m2-9h0m1-2h0m2-2h0m1-13h0m1 14h0m0 10h0m2-22h0m5 2h0m2 15h0m3-2h0m3-16h0m3 25h0m5-13h0m1 12h0m3-21h0m1 14h0m3 9h0m0-7h0m2-22h0m0 12h0m1 10h0m2-9h0m0 13h0m1-7h0m1 3h0m0 7h0m0-10h0m2 2h0m1 6h0m0-20h0m7 1h0m6 9h0m1 3h0m0 8h0m2-4h0m3-7h0m0-2h0m1-3h0m0 7h0m1 2h0m3-19h0m2 20h0m3 6h0m1-13h0m0-13h0m2 22h0m2-5h0m1-3h0m2 3h0m2-16h0m1 19h0m0 4h0m3-11h0m1-7h0m1-4h0m0 4h0m1 14h0m2 0h0m1-16h0m0-1h0m1 14h0m1-13h0m2 17h0m2-6h0m0 6h0m1-4h0m1 4h0m3 0h0m2 6h0m0-8h0m1-7h0m2-4h0m1-10h0m1 7h0m3-5h0m1 0h0m0 20h0m2 1h0m1 1h0m0 5h0m1-17h0m5 14h0m4 3h0m4-5h0m2 4h0m1-23h0m1 2h0m1 5h0m1 5h0m2 1h0m0 7h0m1-4h0m1-10h0m2 15h0m1-25h0m1 24h0m0-2h0m0-19h0m0-3h0m1 17h0m0 0h0m1-5h0m2-7h0m0 15h0m1-5h0m0 0h0m0 2h0m1-4h0m0 12h0m0-12h0m0-1h0m4-11h0m0 16h0m0-7h0m3-1h0m2-2h0m3-1h0m1 14h0m1-2h0m1 8h0m0-20h0m1-7h0m0 4h0m2 17h0m2-14h0m0 22h0m0-11h0m4 8h0m1-3h0m0 5h0m0-28h0m1 20h0m3-1h0m5 2h0m1-11h0m4-6h0m0-3h0m0 20h0m1-21h0m0 28h0m0-14h0m3-4h0m0 4h0m2 11h0m1-5h0m0-18h0m0 4h0m1 17h0m3-20h0m0 6h0m2 19h0m3-11h0m1 11h0m0-15h0m2-13h0m2 1h0m5 10h0m0-2h0m1 19h0m0-20h0m2 13h0m2 4h0m0-15h0m2 13h0m0-18h0m1 23h0m0-27h0m1 5h0m0-4h0m0 19h0m1 0h0m2-6h0m0 14h0m0-20h0m0 16h0m2-14h0m1-3h0m1 5h0m0-9h0m3 14h0m1-17h0m1 26h0m2-2h0m0 4h0m7-23h0m3-3h0m1 11h0m0-2h0m1 12h0m0-18h0m1-6h0m1 3h0m1 17h0m0-19h0m2 25h0m1 0h0m3-12h0m0 5h0m0-2h0m0 6h0m2-6h0m2-8h0m1-8h0m1 7h0m1 13h0m6 3h0m2-23h0m0 0h0m1 21h0m0-6h0m3 7h0m1-12h0m3-9h0m2 17h0m2 6h0m0-7h0m1 5h0m1-20h0m0 4h0m1 20h0m1-8h0m0 2h0m1-5h0m1 7h0m3-15h0m1 9h0m2 2h0m2-4h0m3-8h0m0 2h0m0 0h0m1 13h0m1-6h0m1-14h0m0 4h0m4 2h0m1 2h0m1 5h0m2-15h0m5 20h0m1 8h0m5 0h0m2-27h0m1 24h0m8-10h0m1-12h0m2 22h0m1-5h0m1 5h0m4-2h0m1-5h0m1-9h0m1-1h0m1 15h0m4-23h0m0 0h0m1 20h0m3 9h0m0-27h0m1 13h0m2-11h0m7 14h0m6-3h0m1-11h0m0 18h0m2 6h0m1-19h0m5-4h0m3 1h0m1 8h0m3-11h0m3-1h0m0 10h0m1 0h0m1-2h0m3-6h0m2 4h0m4 4h0m6-10h0m4 4h0m1 13h0m12 6h0m11-24h0m2 13h0m9-14h0m1 16h0m7 4h0m0-3h0m11 3h0m5-2h0m2 8h0m4 3h0m6-27h0m28 9h0m5 17h0m4 26h0m-34-8h0m-8-15h0m-2 8h0m-24-8h0m-19 21h0m-8-5h0m0-11h0m-9 4h0m0 18h0m-13 1h0m-15-29h0m0 28h0m0-4h0m-1-9h0m0-8h0m-2 20h0m0-14h0m-2 13h0m0-13h0m-3-2h0m-1 13h0m-6-5h0m-2-3h0m0 7h0m-2-18h0m-5-4h0m-2 23h0m-3-3h0m-8-21h0m-2 19h0m-4 0h0m0-19h0m-5 18h0m-3-15h0m-3 15h0m-5-4h0m0 12h0m-2 1h0m-1-25h0m0 23h0m-1-19h0m-2-1h0m-3 10h0m-3-8h0m0-7h0m-2 18h0m-3-7h0m-2 1h0m-1 17h0m-2-11h0m0 8h0m-3-18h0m-4 19h0m-4-2h0m-3-3h0m0 6h0m-4-25h0m0 19h0m-1-18h0m0 3h0m-1-2h0m-1 1h0m-1 20h0m-3-5h0m0 1h0m-1-9h0m0-3h0m0-7h0m-1 15h0m-2 11h0m0-13h0m-2 9h0m0-10h0m-1 4h0m0-17h0m0 24h0m0 1h0m-3 1h0m0-17h0m-1 4h0m-1 0h0m-1-14h0m-3 16h0m0 6h0m-1-8h0m-1-5h0m-1-3h0m0 18h0m0-4h0m-1 4h0m-1-16h0m-1 5h0m0 14h0m0-12h0m-1-7h0m-3 4h0m-4 7h0m-1-14h0m0 8h0m0-13h0m0 26h0m-2-5h0m-2-15h0m-2 21h0m-1-17h0m-1 5h0m0 10h0m0-20h0m-1 8h0m-1 4h0m-1 7h0m0-3h0m-1-13h0m0 19h0m-2-9h0m-2-7h0m-1 7h0m-1-19h0m-2 1h0m0 11h0m-1 0h0m-2-11h0m-3 11h0m0 11h0m-2-22h0m-1 4h0m-2 21h0m-1-6h0m-2 8h0m0-7h0m-1 4h0m-2 1h0m-1-19h0m-1 6h0m-2-7h0m-2 18h0m-5-14h0m-1-3h0m0 22h0m-2-23h0m-1 21h0m0-4h0m0-6h0m0 4h0m-1-1h0m-2-15h0m-1 23h0m-1-18h0m-2-7h0m0 0h0m-4 15h0m0-5h0m0-2h0m-1 2h0m0 14h0m0-17h0m0 6h0m-1-14h0m-1 7h0m-5 7h0m0 4h0m-1-12h0m0 6h0m-1-5h0m0-4h0m0 19h0m-1-3h0m-1 2h0m-1-1h0m-1-16h0m-1 16h0m0-19h0m0 8h0m-1 18h0m-1-5h0m-3-17h0m-1 11h0m-1-6h0m0-12h0m0 1h0m-1 27h0m-1-28h0m-3 22h0m0-12h0m0 15h0m-1-14h0m0-9h0m-1 22h0m-1 2h0m0-4h0m-1 3h0m-3-5h0m0-20h0m0 7h0m-1 0h0m-2 16h0m0 2h0m0-19h0m-1 5h0m0 16h0m-1-25h0m-1 19h0m-4-12h0m-2-6h0m0 15h0m-1-6h0m-1 16h0m-3-28h0m0 5h0m-1 17h0m0-21h0m-1 15h0m-6 0h0m0 6h0m-1-22h0m-1 19h0m-1 2h0m0-5h0m-2-8h0m0 20h0m-1-13h0m-1 7h0m0-7h0m-1-14h0m-3 8h0m-2 4h0m-1 13h0m-1-3h0m0-18h0m-5 2h0m-2-3h0m0 20h0m-2-14h0m0 9h0m-2-15h0m-2 9h0m-3-10h0m0 0h0m0 20h0m-7-11h0m-3-10h0m-1 21h0m0-20h0m-2-3h0m-3 21h0m-1-5h0m0 9h0m-1-16h0m-2-9h0m-1 29h0m-1-28h0m0 28h0m-2-23h0m-2-6h0m-2 26h0m-4 3h0m0-26h0m0 21h0m-1-3h0m0 0h0m-2 3h0m-4-9h0m-1-1h0m-2 5h0m-4-1h0m-4-9h0m0 17h0m-1-18h0m0 9h0m0 8h0m-3-12h0m-1 7h0m-6-14h0m0 9h0m-1 13h0m-1-24h0m0 22h0m-3-15h0m-1 1h0m0 17h0m-2-14h0m-1-12h0m0 20h0m0 3h0m-2-9h0m0-11h0m-1 6h0m-2 4h0m0-14h0m0-2h0m0 3h0m-2 6h0m-1-4h0m-1 2h0m-1 0h0m0 2h0m-1 20h0m-2-17h0m-1 0h0m0 9h0m-1 2h0m-1-20h0m-2 5h0m-1 2h0m-1 6h0m-1 1h0m0 9h0m-2-23h0m0 22h0m-1-25h0m-1 8h0m0 15h0m-4-12h0m-2 15h0m-2 1h0m0-8h0m-1-8h0m0 15h0m0 3h0m0-27h0m-1 25h0m0-10h0m-2 8h0m-1-10h0m-1 13h0m-4-18h0m0-6h0m0 3h0m0 17h0m-1 0h0m0-1h0m-1-15h0m-1 12h0m-1 9h0m-2-14h0m0-3h0m-1 15h0m-1 1h0m-3-2h0m-1-13h0m-3 9h0m-2-1h0m-3-1h0m-1-18h0m0 6h0m-1 7h0m-11-8h0m-2 21h0m-6-12h0m-1 12h0m-6-11h0m-1 12h0m-1-8h0m0-2h0m-9-3h0m-3-15h0m-4 22h0m0-6h0m-5-13h0m-7 15h0m-4 10h0m-4-7h0m-20 5h0m-2-13h0m-1 11h0m-5 0h0m-61 16h0m10 11h0m17-1h0m28 3h0m3 5h0m3-17h0m2 12h0m3 2h0m3 3h0m3-27h0m2 21h0m1 5h0m0-4h0m0 4h0m3-3h0m0-20h0m1 8h0m0 13h0m1-1h0m2-5h0m0 4h0m2 1h0m1-8h0m2 6h0m1-1h0m2-6h0m1 13h0m2-3h0m2-17h0m5 20h0m1-13h0m1 10h0m4-19h0m3 13h0m1 5h0m0-20h0m0 0h0m1 24h0m4-4h0m0 0h0m0 2h0m1-13h0m1 15h0m1-6h0m1-3h0m1 2h0m4 3h0m3 2h0m2-3h0m0-3h0m1 5h0m2 3h0m1-27h0m0 8h0m0-8h0m0 23h0m0-1h0m1-6h0m0 3h0m0-1h0m1-14h0m0 4h0m0 17h0m1-20h0m5 18h0m0 3h0m0-3h0m0-23h0m1 27h0m0-27h0m1 24h0m1-21h0m2 23h0m1-14h0m0 12h0m1-13h0m1 0h0m0 2h0m0-2h0m1-4h0m0-5h0m0 11h0m2 6h0m1-4h0m1 3h0m5 7h0m3-22h0m2 11h0m2 11h0m1-25h0m1 3h0m1 14h0m1-19h0m1 22h0m0-6h0m1 12h0m0-23h0m0 13h0m2 6h0m1-4h0m0-17h0m1 24h0m1-9h0m0 11h0m1-15h0m5-9h0m1-4h0m1-1h0m1 3h0m1-1h0m0 23h0m0-24h0m1 13h0m0 6h0m1-20h0m1 26h0m1-9h0m0-1h0m1-4h0m1-8h0m1 20h0m1 0h0m1 2h0m0-12h0m0 13h0m4-21h0m2 9h0m1 1h0m1 1h0m1 9h0m1-20h0m1 3h0m2 3h0m0 12h0m3-22h0m1 2h0m1 16h0m0 8h0m6-23h0m0 6h0m1 4h0m1-6h0m1 10h0m2-3h0m1 8h0m1-24h0m1 20h0m1-19h0m0 0h0m1 0h0m0 25h0m3-11h0m0-2h0m1 5h0m2-4h0m1 8h0m0-12h0m0-3h0m2 3h0m1-8h0m1 19h0m0 8h0m1-29h0m1 23h0m1-20h0m0 2h0m0 5h0m2-2h0m2 5h0m0 3h0m1 5h0m1-19h0m1 11h0m2-5h0m0 12h0m2-19h0m2 5h0m0-2h0m2 4h0m2-6h0m6 22h0m1-9h0m6 13h0m0-25h0m1 11h0m2-11h0m3 26h0m0-16h0m2-11h0m1 8h0m1 6h0m3-4h0m1-5h0m4-6h0m1 16h0m0 11h0m9-1h0m0-18h0m0-6h0m3 4h0m1 8h0m0-15h0m1 26h0m1-7h0m0-18h0m5 0h0m1-1h0m0 18h0m0 10h0m1-14h0m1-2h0m1 9h0m1 7h0m0-25h0m1 3h0m0 18h0m1-22h0m1 19h0m0-14h0m1 5h0m0 8h0m1 2h0m1-16h0m1 23h0m4-18h0m1 10h0m2-8h0m1-11h0m1 4h0m0 21h0m1-5h0m8-7h0m0-8h0m0 3h0m2 14h0m2-1h0m1-14h0m4 14h0m1-17h0m2 19h0m1-8h0m2 10h0m1-27h0m1 0h0m1 7h0m4 22h0m0-20h0m0 15h0m0 4h0m3-3h0m2-19h0m0 10h0m0-8h0m7 15h0m1-20h0m2 22h0m0-11h0m0-11h0m12 18h0m0 7h0m4-4h0m0-7h0m1 2h0m3-2h0m0 8h0m1-10h0m1 5h0m1 7h0m2-18h0m0 4h0m1 11h0m2 0h0m4-12h0m3 11h0m5 5h0m5-8h0m3 4h0m2-5h0m0 2h0m1 4h0m2-25h0m0 10h0m4-8h0m1 0h0m4 24h0m3-5h0m4-20h0m0 19h0m1 2h0m1-6h0m1-13h0m0 15h0m2 9h0m2-1h0m1-20h0m3-1h0m3 7h0m3 4h0m3-4h0m1 11h0m11-13h0m0 13h0m0 0h0m12-2h0m3-13h0m6 1h0m2 0h0m0 16h0m1-22h0m2 11h0m1 12h0m7-3h0m5-7h0m4-16h0m4 9h0m1 16h0m4-22h0m3 16h0m6-3h0m3-16h0m4 16h0m0 1h0m1 10h0m4-2h0m2-18h0m1-1h0m2 5h0m2 8h0m15 1h0m3-11h0m2-5h0m0 1h0m4 0h0m20 0h0m0 19h0m11-13h0m7 4h0m0 3h0m7-3h0m9 8h0m14-7h0m-76 18h0m-46 1h0m-22 9h0m-12-4h0m-3-9h0m-5 11h0m-1 9h0m-4-5h0m-9 5h0m-6-15h0m-11 0h0m-2 1h0m0 16h0m-11 6h0m-6-23h0m0 15h0m-1-20h0m-4 0h0m0 28h0m-1-22h0m-8-4h0m-1 19h0m-3-14h0m0 11h0m-1-5h0m-5 4h0m-5 1h0m-11 0h0m0-2h0m-3 10h0m-3-17h0m0-3h0m-2 8h0m-4 5h0m-4-5h0m-3 10h0m-1-23h0m-1 2h0m-1 8h0m-2 4h0m-1-11h0m-2 19h0m-2 1h0m-1 3h0m-4 1h0m0-2h0m-4-8h0m-5 2h0m-1-13h0m-5 9h0m-2 2h0m-3-13h0m-7 3h0m-3 16h0m0-15h0m-3 12h0m0-12h0m0-1h0m-5 9h0m-5-6h0m-1-2h0m-2 17h0m-1 0h0m-1-3h0m-1-12h0m-3-3h0m0-7h0m-2 26h0m-5-8h0m0-18h0m-1 10h0m0 12h0m-2-12h0m-4 4h0m-4-15h0m-1 0h0m-7 7h0m-11 18h0m-1-10h0m-16 3h0m-5-4h0m-1-6h0m-1-9h0m-5 25h0m0-16h0m-1 5h0m-3-5h0m-2-6h0m-1 13h0m-6 7h0m-4-12h0m-2-9h0m0-1h0m-1 11h0m-1 11h0m-1-17h0m-5 5h0m-5 1h0m-8-9h0m-2 13h0m0 8h0m-3-17h0m-1 13h0m0-17h0m-1 1h0m-5-3h0m0 20h0m-1-9h0m-2-9h0m0-2h0m-1 10h0m0-5h0m-1 11h0m0 3h0m-1-11h0m0-6h0m0 13h0m-1-10h0m-1-3h0m0 11h0m-2-10h0m0 7h0m-1 13h0m0 2h0m-4-9h0m0 11h0m-1-11h0m0 6h0m-3-20h0m-2 17h0m-2 5h0m-1-9h0m0 11h0m-2-25h0m-1 15h0m-1-12h0m-1-4h0m0 28h0m0-13h0m-1 11h0m0-11h0m-1 1h0m0-14h0m0 13h0m-2 1h0m0-2h0m0-13h0m-6 24h0m-1-17h0m0 7h0m-1-16h0m0 12h0m-1-12h0m-1 19h0m-3 3h0m-3-16h0m-1 7h0m-1-8h0m0-4h0m-1 0h0m-1 15h0m-1-15h0m-1 1h0m0 11h0m-2 1h0m-1-9h0m-1 20h0m0 3h0m0-4h0m-1-3h0m-1-4h0m0-8h0m-1 19h0m-1-19h0m-3-4h0m-2 5h0m0-5h0m-1 15h0m0-8h0m-6-7h0m-1 20h0m0-20h0m0 21h0m-1-14h0m-5 0h0m-1-10h0m-2-2h0m0 22h0m-1-21h0m-2 27h0m-2-23h0m-1 18h0m0 3h0m0 1h0m0-18h0m-2 20h0m-1-18h0m0 4h0m-2-9h0m-2 3h0m-2 6h0m0-4h0m-1 6h0m0-14h0m-1 5h0m-1-5h0m0 24h0m-2-25h0m0 24h0m-1-24h0m0 10h0m-2 4h0m0-1h0m-1-10h0m0 11h0m-1 13h0m-3 0h0m-2-29h0m0 19h0m-1 1h0m-1 1h0m0-8h0m-2-12h0m0 17h0m0-1h0m-1-12h0m-1 15h0m-2 6h0m0-4h0m-2-5h0m-2 6h0m0-5h0m-2 2h0m-2-11h0m-2-5h0m0 14h0m-1 11h0m-1-10h0m0-6h0m-4-9h0m-5 1h0m-1 14h0m-1 0h0m-1-12h0m0 20h0m0-25h0m-8 25h0m0-5h0m-4 0h0m-2 5h0m-1-14h0m0 10h0m-2-6h0m-2-5h0m-3 7h0m-4 10h0m-1-13h0m-2 12h0m0-7h0m-4 3h0m-15 2h0m-4-23h0m-11 15h0m-3 10h0m-2-13h0m-72 38h0m23 3h0m7-26h0m3 24h0m3-18h0m6-5h0m4 20h0m3-10h0m1 10h0m1 4h0m3-8h0m3 8h0m1 4h0m0 0h0m9-26h0m0 10h0m1 7h0m1 7h0m2-4h0m2-15h0m0 5h0m1 9h0m2-4h0m0 3h0m3 5h0m0-1h0m3-15h0m1 13h0m0-19h0m3 14h0m1-5h0m2 15h0m0-7h0m0 3h0m2 0h0m2-19h0m0 10h0m0 3h0m3 6h0m3-12h0m0 7h0m1 7h0m3-3h0m0-15h0m1-5h0m0 17h0m5-13h0m0 18h0m1-22h0m0-2h0m3 13h0m0-6h0m3 13h0m1 6h0m2-1h0m0-1h0m1-18h0m1 17h0m1 5h0m1-19h0m1-3h0m2 17h0m1-23h0m0 1h0m2 5h0m0-7h0m1 19h0m0-7h0m1 16h0m2-23h0m0 16h0m0-5h0m1 12h0m1-20h0m1 15h0m2-19h0m1 12h0m1-7h0m1 11h0m0-11h0m0-3h0m1 10h0m0-16h0m1 8h0m0 2h0m0-9h0m1 28h0m2-16h0m0 9h0m0 4h0m0-3h0m1 1h0m2-4h0m0 5h0m2 2h0m1-24h0m0 8h0m1 13h0m2-12h0m2-3h0m1 18h0m1-2h0m1 0h0m0-25h0m1 23h0m1-16h0m1 10h0m2-17h0m1 9h0m0 8h0m0 0h0m1-1h0m2-1h0m0 10h0m1 1h0m0-19h0m1 11h0m0 3h0m0-12h0m3 14h0m2 6h0m1-18h0m1 11h0m1 5h0m1-20h0m0 1h0m1 3h0m2 4h0m2-4h0m1 15h0m0-13h0m3-11h0m0 2h0m1-2h0m1 25h0m0-23h0m1 18h0m2 2h0m0-11h0m1 10h0m1-1h0m1-19h0m0 13h0m0 4h0m1-19h0m4 13h0m1 6h0m1 4h0m3-2h0m1-15h0m2 21h0m2-9h0m0-15h0m3 19h0m4-10h0m2-3h0m1 8h0m2-3h0m10-14h0m3 3h0m1 3h0m1-6h0m6 14h0m1-12h0m1 8h0m1-9h0m1 25h0m1-16h0m1 2h0m3-13h0m6 4h0m1 4h0m1 7h0m9 6h0m0-2h0m2-17h0m3 4h0m14-1h0m1 1h0m6 0h0m1-5h0m21 11h0m0 6h0m8 3h0m1 3h0m1-24h0m8 26h0m1-19h0m1 7h0m0 10h0m2-20h0m5 3h0m1 22h0m2-24h0m0 1h0m2-3h0m10-1h0m3 12h0m0 9h0m2-18h0m7 8h0m11-13h0m3 7h0m2-2h0m0 1h0m1-3h0m2 4h0m2-4h0m4 1h0m6 8h0m2 9h0m0-18h0m7 11h0m1-7h0m0 3h0m0-5h0m1 21h0m8-26h0m2 8h0m2 4h0m2-4h0m1 3h0m8 13h0m1-22h0m10 4h0m1-3h0m7-2h0m1 2h0m5 18h0m2-10h0m0-10h0m21 2h0m9-3h0m2 12h0m17-9h0m3-3h0m5 7h0m3-1h0m4 1h0m17 0h0m18-7h0m-137 31h0m-68 0h0m-5 19h0m-18-5h0m-38 5h0m-22-10h0m-7 18h0m-12-3h0m-3-15h0m-28-10h0m0 11h0m-3-5h0m-13 9h0m0-14h0m-6 8h0m-4 13h0m-1-15h0m-2-5h0m-3 1h0m-1-1h0m-3 14h0m-1-11h0m0 8h0m-6 7h0m-2 9h0m-11-29h0m0 27h0m-1-6h0m-1 3h0m-1-15h0m-1-9h0m-4 8h0m-1 9h0m-2-5h0m-3-7h0m-1 22h0m-3-21h0m-6-6h0m0 8h0m0-8h0m0 19h0m-2-8h0m-1 17h0m-5-19h0m-1 4h0m-2-1h0m0 2h0m0 7h0m-1-15h0m-1 8h0m-3 14h0m0-7h0m0 6h0m-4-24h0m-3 0h0m-1 12h0m0 11h0m-7-3h0m-1-17h0m-1 4h0m0-1h0m-2 12h0m0-18h0m0 14h0m-1-13h0m-1 2h0m-1 1h0m-1 8h0m-2-9h0m0 0h0m-2-3h0m-3-2h0m0 2h0m0-1h0m0-1h0m0 21h0m-1-10h0m0-9h0m-1 9h0m-2 5h0m0-5h0m-1 3h0m-1-8h0m-1 5h0m-3 6h0m-1-18h0m-1 28h0m0-2h0m-1-21h0m-3-2h0m-2 12h0m0-10h0m-1 21h0m-1-5h0m-2-11h0m0 7h0m-6-4h0m-1-1h0m-1 14h0m-1-18h0m-2 17h0m-2-18h0m-4 11h0m-1-5h0m-3-7h0m0 21h0m-3 2h0m-1-6h0m-1-11h0m0-7h0m-1 13h0m0-3h0m-1-2h0m-2-11h0m-1 13h0m-2-7h0m0 13h0m0 6h0m-1-19h0m0 1h0m-3 19h0m-2-18h0m-1 7h0m0-13h0m-1 21h0m-2-5h0m-4-14h0m0-5h0m-2 24h0m0-13h0m-1 1h0m-3-11h0m-1 4h0m-2 3h0m-1 2h0m0 2h0m-1-7h0m-10 18h0m-1-24h0m-3 1h0m-1 21h0m-1-9h0m-10 16h0m-3-8h0m-6-16h0m2 47h0m5-8h0m4-2h0m4 14h0m12 0h0m3-20h0m1-4h0m1 7h0m2-1h0m4-5h0m1 16h0m1-1h0m1 7h0m2-4h0m0-16h0m1-1h0m1-2h0m2 24h0m1 1h0m4-21h0m1 14h0m4 8h0m1-17h0m1-11h0m1 22h0m2-3h0m0 5h0m0-19h0m0 0h0m3 2h0m1 1h0m1-1h0m2-5h0m3 24h0m2 1h0m1-19h0m0 11h0m1-14h0m0 6h0m1 12h0m1-15h0m3-1h0m3 12h0m0-9h0m1 19h0m3-28h0m2 14h0m2-9h0m1-5h0m3 26h0m2-17h0m2 11h0m3-7h0m0-8h0m4 4h0m3-1h0m0-5h0m2 2h0m2 14h0m0-18h0m1 25h0m1-12h0m5-14h0m2-1h0m0 23h0m3-4h0m3-7h0m4-6h0m1-6h0m2 9h0m1 5h0m1 6h0m6-19h0m0 16h0m6-17h0m5 11h0m9 3h0m0 8h0m4-12h0m1 3h0m13-11h0m1-2h0m1 9h0m7 8h0m1-17h0m2 14h0m9-14h0m7 12h0m18-3h0m47 0h0m-181 45h0m-3-18h0m0 5h0m-3 11h0m-14-5h0m-1-9h0m-11 0h0m-3 6h0m0-1h0m-3-3h0m-4-4h0m-1-3h0m0 5h0m-1-4h0m-3 25h0m0 0h0m-1-29h0m-2 12h0m0-1h0m0-10h0m-2-1h0m-1 20h0m0 6h0m-15-6h0m-9-12h0m-13 6h0m-17-6h0m53 26h0" stroke="#a0a5ba" stroke-width="13.5" stroke-linecap="round" fill="none" opacity="0.90"/>
<path d="M2644 651h0m227 14h0m-208 80h0m64-21h0m172 20h0m-314 33h0m92 6h0m-20 38h0m59 35h0m84 29h0m-42 7h0m-65-1h0m-39-7h0m74 50h0m-214 7h0m204 22h0m87 22h0m22 19h0m-129 11h0m-57-15h0m-130-7h0m250 55h0m36-15h0m80 12h0m198-12h0m-237 25h0m-6 21h0m-54-23h0m-67 6h0m-1 9h0m-22-4h0m-7-3h0m-154-2h0m174 35h0m4 1h0m28-16h0m8 17h0m9 3h0m6-4h0m7-11h0m6 20h0m52-11h0m1 13h0m6-24h0m14 14h0m15-4h0m88-2h0m116 43h0m-204-7h0m-28 2h0m-8-3h0m-2-8h0m-11-4h0m-3-6h0m-1 12h0m-7-10h0m-14 15h0m-26-6h0m-15-5h0m-37 16h0m-21-7h0m-31-12h0m-112 32h0m127 14h0m58 0h0m7-10h0m13-4h0m1 22h0m40-18h0m2 2h0m13 11h0m34-11h0m41 3h0m159 16h0m-71 9h0m-49 20h0m-9-13h0m-28-6h0m-66-7h0m-11 4h0m-6 9h0m-19-3h0m-56 12h0m-3-12h0m-6 10h0m-6-11h0m-33 5h0m-19-12h0m-1 7h0m-37 11h0m-202-3h0m112 27h0m35 10h0m85-24h0m5-3h0m14 13h0m1 16h0m19-27h0m1 17h0m58-19h0m21 19h0m9 8h0m21-19h0m4-2h0m2-6h0m14 5h0m15 10h0m1-9h0m0-3h0m48 0h0m2 4h0m6 19h0m10-23h0m96 0h0m34 18h0m76 0h0m13-20h0m-7 51h0m-7 3h0m-79-3h0m-39-1h0m-5 2h0m-33 6h0m-22-16h0m-4 0h0m-3 13h0m-19 1h0m-38 0h0m-4-8h0m-24-14h0m-7 4h0m-12 19h0m-6-2h0m-6-1h0m-3-4h0m0-4h0m-1 7h0m-19-11h0m-24-13h0m-17 0h0m-1 11h0m-3 17h0m-21-1h0m-21-5h0m-6 2h0m-27-22h0m-17 11h0m-41-3h0m-173-10h0m-42 38h0m211 18h0m82 0h0m18-8h0m3-15h0m8 5h0m33-3h0m6 24h0m2-25h0m15 22h0m6-18h0m25 7h0m2 8h0m0-7h0m2 13h0m2 0h0m3-28h0m13 7h0m11 8h0m2-9h0m9 9h0m10-6h0m3-3h0m0 12h0m17-6h0m6 12h0m34-16h0m1 7h0m11-4h0m3-6h0m1-4h0m5 19h0m4-20h0m2 20h0m3-15h0m1-4h0m8 2h0m7 4h0m16 9h0m20-5h0m0 12h0m2-5h0m6-13h0m20 20h0m42-13h0m12-13h0m27 2h0m19 25h0m-34 8h0m-10 12h0m-46-16h0m-4 23h0m-10-4h0m-1 1h0m-2-20h0m-18 28h0m-4-14h0m-30 13h0m-12-8h0m-3 9h0m-13-12h0m-6-13h0m0 0h0m0-4h0m-5 14h0m-2-6h0m-7 15h0m-7-20h0m-13 13h0m-2-10h0m-9 21h0m-14-27h0m-19 26h0m-19-8h0m-5-12h0m-32 15h0m-5 4h0m-3-22h0m-6 0h0m-3 16h0m-24-2h0m-2 10h0m0-9h0m-15-9h0m0-9h0m-23 1h0m-7 9h0m-2 17h0m-8-2h0m-3-20h0m-9 4h0m-29-9h0m-34 11h0m-24 32h0m12-12h0m41 13h0m8 4h0m33-7h0m35 12h0m11 6h0m4-26h0m4 11h0m0 13h0m1-27h0m6 26h0m20-5h0m3-2h0m5-16h0m9-2h0m6 13h0m17-10h0m27 21h0m3-2h0m18 0h0m13-11h0m8 8h0m1-12h0m8 4h0m1 1h0m5 3h0m13-6h0m3 1h0m0 1h0m14 16h0m7-6h0m2 6h0m9 0h0m1-26h0m1 12h0m4 12h0m1-5h0m1-19h0m6-1h0m2 19h0m8-13h0m2 19h0m12-25h0m14 16h0m7 8h0m12 3h0m4-7h0m33-2h0m20-10h0m29 7h0m24 6h0m30-21h0m8 1h0m21 7h0m8-7h0m-8 33h0m-22 4h0m-21 13h0m-56-12h0m-3-7h0m-13 10h0m-4-5h0m-3 21h0m-18-11h0m-10 6h0m-9-21h0m-3 12h0m-7 3h0m0-10h0m-10-7h0m-2 24h0m-3-24h0m-10 15h0m-26-3h0m-2 13h0m-4-8h0m-3-2h0m-1 6h0m0 2h0m-13-8h0m-1 5h0m-18-15h0m-1 21h0m-4-10h0m-6 6h0m-1 2h0m0-8h0m-3 0h0m-6 11h0m-3-16h0m0 1h0m-3 10h0m-2 5h0m-2 0h0m0-27h0m-3 4h0m-4 21h0m-3-18h0m-3 12h0m-1 1h0m-2-4h0m-1-6h0m0 17h0m-1-20h0m-12 1h0m-8 20h0m-1-27h0m0 22h0m-6-8h0m-2-3h0m-2 15h0m-6 1h0m-21-2h0m-3-23h0m-7 6h0m-1-3h0m-5 14h0m-9-9h0m-3 0h0m-4-6h0m-1-2h0m-6-4h0m-6 15h0m-8-14h0m-16 15h0m-6 7h0m0-1h0m-6 4h0m-8-8h0m-25-17h0m-8 15h0m-1 8h0m-2-19h0m-49 19h0m-22 30h0m17 4h0m15-5h0m1-14h0m52-2h0m30 13h0m6 2h0m32-5h0m3-8h0m4-1h0m6 16h0m3-12h0m1 3h0m1-4h0m18 6h0m17 12h0m10-25h0m1 18h0m2 5h0m5-1h0m0-12h0m4-8h0m5 23h0m2-22h0m4-7h0m4 17h0m7 5h0m3 0h0m1 4h0m6-21h0m8-3h0m1 19h0m3-8h0m2 16h0m3-20h0m3 17h0m4-15h0m0 10h0m1-21h0m5 23h0m4 5h0m1-1h0m13-11h0m3 9h0m0-24h0m4 3h0m6 24h0m0-27h0m2 3h0m0 9h0m1-8h0m9 6h0m2 0h0m2 14h0m5 2h0m2-9h0m13 1h0m2-2h0m4-1h0m5 0h0m4 2h0m8 0h0m1 2h0m9-17h0m3-2h0m9 8h0m8 2h0m4 2h0m3-13h0m3 21h0m1 5h0m1-23h0m13 26h0m0-9h0m5 7h0m18-17h0m10-2h0m42 16h0m9 4h0m20-11h0m-37 14h0m-15 12h0m-24 15h0m-29-3h0m-37-11h0m-2 6h0m-24-20h0m-3 4h0m-1 19h0m-7-17h0m-5 1h0m-4 5h0m-20-3h0m0 18h0m-3-6h0m-3-19h0m-4 18h0m-3 4h0m-7 5h0m-5-18h0m-3-2h0m-1 18h0m-2-14h0m-1 9h0m-1-19h0m-4 7h0m-2 13h0m-3-12h0m-3-10h0m-1 4h0m-4 22h0m-3-11h0m-9 11h0m-1-11h0m-4-6h0m-1-7h0m-6 7h0m-3-1h0m0-8h0m-7 3h0m-7 8h0m-3-10h0m-1 12h0m-5 11h0m-2-1h0m-4-6h0m-3-18h0m-2 27h0m-6 0h0m-3-11h0m-3-3h0m0 6h0m-2-6h0m-1-1h0m-5 8h0m-3 4h0m0-22h0m-13 9h0m0 7h0m-4-16h0m-1 15h0m-5 9h0m0-3h0m-6 4h0m-9-20h0m-14 1h0m-2 10h0m-9-17h0m-7 10h0m-14 4h0m-1 12h0m-2-7h0m-6-8h0m-5 6h0m-1-11h0m0 4h0m-18 2h0m-4 12h0m-6-5h0m-9-2h0m-2 2h0m-3-2h0m-10-14h0m-3 25h0m-5-16h0m-12-1h0m-53 7h0m-71 8h0m19 12h0m1 1h0m10 4h0m72 13h0m15-25h0m1 24h0m9-5h0m6-18h0m16 19h0m6-3h0m1 10h0m3-22h0m14 13h0m5-3h0m2 4h0m9-19h0m13 13h0m5 7h0m7-5h0m10-7h0m1-10h0m7 23h0m23 2h0m5-24h0m6 15h0m1 10h0m0-12h0m4 4h0m3-8h0m8-3h0m1-3h0m4 14h0m5 5h0m10-13h0m8 0h0m3-8h0m4 7h0m6 19h0m4-27h0m6 7h0m4 17h0m3-24h0m8 12h0m3 5h0m1-17h0m10 5h0m4 8h0m2-14h0m8 14h0m19 9h0m4-21h0m4 23h0m1-2h0m3-2h0m1-5h0m5 1h0m7-10h0m0 2h0m0 0h0m3-7h0m0 4h0m8-6h0m11 28h0m3-3h0m17-2h0m4 0h0m4-23h0m0 0h0m4 29h0m1-14h0m28-1h0m8-4h0m15-8h0m5 17h0m25-5h0m9-14h0m1 16h0m7 1h0m11 3h0m5-2h0m6 11h0m6-27h0m33 26h0m4 26h0m-42-23h0m-53 16h0m-9-7h0m0 18h0m-31-15h0m-34-13h0m-31 15h0m-3-15h0m-5 11h0m-8-3h0m-8 17h0m-3 3h0m-11-7h0m-7-19h0m0 25h0m-6-26h0m-9 15h0m-4-3h0m-4 7h0m-7 8h0m-1-17h0m-2 3h0m-3 14h0m-2-9h0m-2-7h0m-1 7h0m-3-18h0m-3 0h0m-3 22h0m-5 3h0m-3-5h0m-4-14h0m-5 17h0m-9-3h0m-1-1h0m-4-10h0m-2-7h0m-18 3h0m-1-3h0m-6 15h0m-9 4h0m-1 3h0m-3-18h0m-3-1h0m-22 10h0m-13-3h0m-7-6h0m-2-3h0m-20-1h0m-7 6h0m-4-8h0m-10 28h0m-7-14h0m-3 4h0m-19-13h0m-2 20h0m-9-9h0m-3-17h0m-8 12h0m-7 4h0m-9-5h0m-6 16h0m-2-2h0m-2 3h0m-4-4h0m-1-1h0m-1-15h0m-4 7h0m-9 7h0m-2-1h0m-4-13h0m-20 8h0m-18 0h0m-7 1h0m-12 2h0m-8 3h0m-89 19h0m27 10h0m36 3h0m12 4h0m0 0h0m4-15h0m11 3h0m3 10h0m2-17h0m7 17h0m7-6h0m1 5h0m5 0h0m12 2h0m6-25h0m1 16h0m1-8h0m6 15h0m0 0h0m0-23h0m2 24h0m7-22h0m2 17h0m1-4h0m1 3h0m16-20h0m15 0h0m1 3h0m2 17h0m3-3h0m1-5h0m8-6h0m4 11h0m1 9h0m8-22h0m13 20h0m2-4h0m1-19h0m5 17h0m3 4h0m3-20h0m4 3h0m6-3h0m7 4h0m10 18h0m7 4h0m18-27h0m22 17h0m0 10h0m2-16h0m5 9h0m1-9h0m0 8h0m1 2h0m10-20h0m1 4h0m9 4h0m12 15h0m4-25h0m6 9h0m15-6h0m16 21h0m5-9h0m4-6h0m7 3h0m8 16h0m5-8h0m5 1h0m3-11h0m5-8h0m4 24h0m7-6h0m5 7h0m3-21h0m36 15h0m9-12h0m5 5h0m22 11h0m20-8h0m56-12h0m18 10h0m16 8h0m-62 11h0m-80 6h0m-3-9h0m-19 20h0m-19-14h0m-11 22h0m-6-8h0m-5 8h0m-10-7h0m-3-14h0m-1 6h0m-21 5h0m0-2h0m-6-10h0m-13 18h0m-1-23h0m-9 23h0m-5 4h0m-4-10h0m-16-13h0m-13 16h0m0-13h0m-5 9h0m-6-8h0m-3 17h0m-12-25h0m-1 10h0m0 12h0m-11-23h0m-18 25h0m-29-1h0m-19-23h0m-2 21h0m-6-12h0m-15 5h0m-5-12h0m-5-3h0m0 20h0m-3-18h0m-1 3h0m-1 14h0m-3-17h0m0 11h0m-2-10h0m-1 20h0m-16-7h0m-1-12h0m-1 24h0m-1-13h0m-1 0h0m-2-1h0m-8-15h0m-1 0h0m-7 6h0m-9-1h0m-10 5h0m0-5h0m-1 7h0m-6-7h0m-7 7h0m-9 15h0m0-18h0m-2 20h0m-1-14h0m-4-6h0m-3 8h0m-2-14h0m0 24h0m-6-11h0m-1 13h0m-6-9h0m-1-7h0m-16-9h0m-6 0h0m-6 15h0m-2-12h0m-8 20h0m-4-5h0m-10-3h0m-4 10h0m-91 27h0m7-26h0m24 17h0m4 12h0m9-26h0m1 17h0m5-12h0m16 16h0m2 0h0m12-1h0m1-20h0m0 17h0m5-13h0m4 7h0m6 11h0m15 3h0m2-5h0m4-14h0m3 1h0m3 3h0m3 12h0m3-22h0m6 24h0m11-12h0m2 6h0m3 2h0m4-1h0m2-15h0m3 8h0m3 11h0m0-13h0m3-9h0m5 9h0m1 10h0m2-7h0m5-2h0m8 14h0m2-24h0m3 19h0m23-16h0m1-6h0m6 14h0m2-4h0m3 0h0m4-11h0m22 6h0m14-1h0m29 7h0m0 6h0m18 8h0m2-2h0m2-20h0m6 25h0m45-22h0m2-4h0m36 8h0m9-9h0m-80 29h0m-5 19h0m-78-10h0m-72-1h0m-4 13h0m-32 2h0m-9-12h0m-7-6h0m-6 2h0m0-8h0m-3 28h0m-8-16h0m0 2h0m-1-8h0m-4 15h0m0 6h0m-17-18h0m-5-2h0m-8-6h0m-1 2h0m-6 9h0m-5 16h0m-1-23h0m-3-2h0m-4 18h0m-2-11h0m-6 3h0m-3-5h0m-16 15h0m-2-5h0m-6-10h0m0 13h0m-1-13h0m-3 20h0m-3-24h0m-9 8h0m-25 1h0m-10 16h0m-7 23h0m39 3h0m2-4h0m0-16h0m9 1h0m10 13h0m14-8h0m8 8h0m1 10h0m5-14h0m6 12h0m2-17h0m16 10h0m0-18h0m1 25h0m14-15h0m5-12h0m2 9h0m2 11h0m12-20h0m5 11h0m120-2h0m-181 45h0m-32-16h0m-10-2h0m-8 5h0" stroke="#686e86" stroke-width="10.0" stroke-linecap="round" fill="none" opacity="0.70"/>
<path d="M2739 828h0m-10 8h0m-77 0h0m-5-17h0m-10 9h0m107 16h0m100 440h0m11 16h0m-201 54h0m10 40h0" stroke="#30e01a" stroke-width="15.0" stroke-linecap="round" fill="none"/>
<path d="M605 3714h0m-7 2h0m-44-3h0m-30-2h0m-121 5h0m24 8h0m7 13h0m25-15h0m0 10h0m2-1h0m6-7h0m5 21h0m7-6h0m15 0h0m25 1h0m22 8h0m7-15h0m2 6h0m2 7h0m1-5h0m12-1h0m10 5h0m4-4h0m9 1h0m30 1h0m6 4h0m3-21h0m2 11h0m9-7h0m-7 32h0m-14-11h0m-12 20h0m-5 4h0m-1-10h0m-10-15h0m-1 27h0m-2-5h0m-6-17h0m0 8h0m-16 2h0m0 6h0m-10-21h0m-1 25h0m-8-22h0m-5 11h0m-1-8h0m-6-5h0m-6 15h0m-2-3h0m-5 14h0m-8-11h0m-1-11h0m-19 10h0m-3 8h0m-27 1h0m-8-8h0m-8-2h0m-3-11h0m-16 5h0m-1 4h0m-17 12h0m-9-22h0m0 38h0m11-3h0m41 17h0m22-23h0m4 4h0m5 22h0m3-23h0m23 15h0m12 10h0m9-18h0m2-4h0m2-2h0m3 13h0m1 2h0m1-7h0m1 9h0m10-13h0m0 5h0m1-12h0m3 15h0m8-4h0m7 5h0m3-7h0m1-10h0m5 0h0m20 7h0m0-5h0m3 6h0m5 10h0m17-1h0m3 3h0m6-1h0m7 37h0m-7-14h0m-2 3h0m-6 11h0m-20-14h0m-40 13h0m-2-18h0m-1 5h0m-2-13h0m-13 29h0m-13-21h0m-1 4h0m-3-11h0m-10 15h0m-17-12h0m-5 3h0m-27 5h0m0-1h0m-13 5h0m-4 12h0m-24-6h0m-13-17h0m-8 18h0m-5 2h0m2 15h0m54 0h0m28 8h0m5 7h0m10-11h0m8 10h0m15 2h0m1-17h0m3-1h0m14 0h0m0 20h0m4-23h0m16 6h0m5-7h0m6 3h0m7 7h0m10 11h0m5-18h0m17 5h0m8 13h0m2-25h0m4 6h0m7 52h0m-39-27h0m-10 15h0m-20-2h0m-1-3h0m-11 0h0m-17-4h0m-4 16h0m-12-18h0m-3 6h0m-5-10h0m-1 13h0m-14 5h0m-1-16h0m-14 10h0m-1-3h0m-37-4h0m-9 7h0m-11 10h0m-2-14h0m-16 3h0m0 8h0m-6-20h0m0 56h0m11-20h0m6 14h0m17 5h0m3-16h0m3-9h0m11 28h0m7-11h0m8-4h0m2-11h0m0-1h0m27-1h0m4 6h0m1 0h0m0 1h0m7 1h0m6 16h0m77-2h0m10-22h0m13 17h0m17-13h0m2 15h0m1-16h0m-41 29h0m-15 3h0m-9 0h0m-15 0h0m-66-2h0m-3-1h0m-16 3h0m-20 0h0m-23-3h0m-2 0h0m-1 3h0m-2 0h0m-20-3h0m0-1h0" stroke="#a0a5ba" stroke-width="10.0" stroke-linecap="round" fill="none" opacity="0.85"/>
<path d="M461 3731h0m80 17h0m77-5h0m9-17h0m2 11h0m-84 16h0m-33 13h0m-69-13h0m-43 37h0m74-9h0m4 4h0m5 22h0m3-23h0m44 7h0m9 2h0m67 6h0m17-1h0m9 2h0m-103 11h0m-10 15h0m-62 0h0m-54 9h0m2 15h0m87 15h0m76-21h0m13 10h0m10 11h0m43 33h0m-39-27h0m-42 10h0m-153-11h0m11 36h0m40 22h0m15-15h0m29-13h0m105 0h0m-32 35h0m-100 0h0m-43-3h0m-25 0h0" stroke="#686e86" stroke-width="9.0" stroke-linecap="round" fill="none" opacity="0.50"/>
<path d="M741 3442h0m-19 32h0m-28 10h0m0 20h0m6-23h0m11 28h0m74-29h0m7 7h0m-32 26h0m-40 20h0m-18 17h0m48 13h0m64-10h0m-10 18h0m-59 23h0m-24-20h0m24 38h0m50 10h0m16 1h0m-69 32h0m-2-1h0m-65-11h0m89 26h0m13-3h0m2 12h0" stroke="#686e86" stroke-width="10.0" stroke-linecap="round" fill="none" opacity="0.70"/>
<path d="M440 3445h0m167 33h0m-7 1h0m-2-9h0m-5-3h0m-5 6h0m-1 2h0m-2 4h0m-11-18h0m-3 11h0m-1-8h0m-1 6h0m-1-1h0m-4 9h0m-1-5h0m-2-1h0m-1-5h0m0-15h0m-1 21h0m-2 1h0m-1-7h0m-1 8h0m-5-17h0m-1 20h0m-1 0h0m-2-1h0m0-18h0m-2 17h0m-1-2h0m-1-7h0m-1 0h0m0 7h0m0 1h0m-2-7h0m-1 8h0m0-10h0m-1-6h0m-3 4h0m-2 3h0m-2 9h0m-1-3h0m-4 1h0m0 1h0m-1-2h0m-2-8h0m-1-8h0m-2 17h0m0-9h0m-3 7h0m-1-18h0m0 4h0m-1 7h0m-1 4h0m0-6h0m-1 6h0m-1 7h0m-1-3h0m-2-1h0m-1-7h0m-1 6h0m-2 0h0m-1-6h0m-4 3h0m-1-15h0m-1 22h0m-2-12h0m0 15h0m-1-19h0m-1 7h0m0 13h0m-3-6h0m0 2h0m-1-5h0m-4-5h0m-1-6h0m0 2h0m-2-9h0m0 22h0m-3-14h0m-1-7h0m-2 17h0m0-3h0m-1 7h0m0 3h0m-1-12h0m-1 7h0m-1-14h0m0 17h0m-2 3h0m0 1h0m-2-6h0m-1 3h0m-4-2h0m-2-17h0m0 6h0m-10 9h0m-1 2h0m-5 0h0m-2-3h0m-2 3h0m-2-4h0m-1 7h0m-1 0h0m0-10h0m-2-14h0m-1 24h0m-1-20h0m-6 14h0m-1-12h0m-8 19h0m-5-4h0m-7-4h0m-6 8h0m0 14h0m0-12h0m0 15h0m0 0h0m0-2h0m0 3h0m0-13h0m0 2h0m0 20h0m0-19h0m0 19h0m0-11h0m0 12h0m0 1h0m0-1h0m0-1h0m0-11h0m0-6h0m0 5h0m1-9h0m1 20h0m2-22h0m1 4h0m1 16h0m1-3h0m2 2h0m1-6h0m2-4h0m2 3h0m1-8h0m1 22h0m0-24h0m0 7h0m1 7h0m0-1h0m1 1h0m1 9h0m0-3h0m0-15h0m1 18h0m1-22h0m2 14h0m0-17h0m2 20h0m2-20h0m1 23h0m0-25h0m0 14h0m1 12h0m1-17h0m0 1h0m1 6h0m0-12h0m2 2h0m0 16h0m1-13h0m0-3h0m0 19h0m1-7h0m0-5h0m2 5h0m0 2h0m0 2h0m2-2h0m1 1h0m1-4h0m1-2h0m0 11h0m1 3h0m0-17h0m5 4h0m0 13h0m2-14h0m1 12h0m1-12h0m0 13h0m1-5h0m2 0h0m0-9h0m0 6h0m1-1h0m1-17h0m0 5h0m2 13h0m1 5h0m1-2h0m1-9h0m1 6h0m1-9h0m0-1h0m1 12h0m1-2h0m1-3h0m0-8h0m0-1h0m2 0h0m0-4h0m1 8h0m0 0h0m2-11h0m1 10h0m2 13h0m5-4h0m1-14h0m2 15h0m3-17h0m0 15h0m0-17h0m1-2h0m1 11h0m2-7h0m0 14h0m0 1h0m1-17h0m1 10h0m0-8h0m0 19h0m1-7h0m0-5h0m3-8h0m0 23h0m1 1h0m0-17h0m0 10h0m1-10h0m0 6h0m2-10h0m0 3h0m0 18h0m0-15h0m0 10h0m1 7h0m1-2h0m0-3h0m0 2h0m1-22h0m1 1h0m1-4h0m0 11h0m0-7h0m0 22h0m2-17h0m0 0h0m1 7h0m1 5h0m0-8h0m2-6h0m1 5h0m0 13h0m1-3h0m1-5h0m0-16h0m0 14h0m3-5h0m0-1h0m0-6h0m0 23h0m1 2h0m1-2h0m1-16h0m0 0h0m2 9h0m1-9h0m0-9h0m1 10h0m0-5h0m0-2h0m1 1h0m0 15h0m2-16h0m1 22h0m0-24h0m0 14h0m1 7h0m0-21h0m0 4h0m0 10h0m1-9h0m2 3h0m0 1h0m1-11h0m0 25h0m1 1h0m1-7h0m0 2h0m1 1h0m0-18h0m0 22h0m0-1h0m2-7h0m0 3h0m1-12h0m1 4h0m1-3h0m1 11h0m3-11h0m1 18h0m0-19h0m1 16h0m1-6h0m0 0h0m0 3h0m0 5h0m3-6h0m0-2h0m1 7h0m1-12h0m3 4h0m0 9h0m0-11h0m1-5h0m0 2h0m2-8h0m0 15h0m1-6h0m0-9h0m0 13h0m1 5h0m0-6h0m2 10h0m1-25h0m0 10h0m1 15h0m1-4h0m1-21h0m3 25h0m2-4h0m2 2h0m2-19h0m2-2h0m0 21h0m0-10h0m3 5h0m0-15h0m1 18h0m0-11h0m0-10h0m1 4h0m2 7h0m0-7h0m1 11h0m1-16h0m0 8h0m0-5h0m0 21h0m1-12h0m0-9h0m0 8h0m1 13h0m0-22h0m1 25h0m1-12h0m1-9h0m1 12h0m2 3h0m0-14h0m1-2h0m0 15h0m1 0h0m0-21h0m1 2h0m0 21h0m1 5h0m0-26h0m0-2h0m2 7h0m0 3h0m1 18h0m0-8h0m1-14h0m4 0h0m0 9h0m1-13h0m0 24h0m1-1h0m1-18h0m1 0h0m0 10h0m2 7h0m2-17h0m1-8h0m0 17h0m1-13h0m1 4h0m0 17h0m0 3h0m2-16h0m0 14h0m2-7h0m1 2h0m1 6h0m2-11h0m1 1h0m2-16h0m0 11h0m1 5h0m1 11h0m2-3h0m1-20h0m0 4h0m3 8h0m0-3h0m5 2h0m2-5h0m5 17h0m9-13h0m31 17h0m-5 20h0m-3-11h0m0 10h0m-2 0h0m-4-2h0m0-12h0m-2 19h0m-1-8h0m-4-6h0m-2-3h0m0 9h0m-2-13h0m-1-2h0m-1-3h0m-2 13h0m0 14h0m-3-7h0m-7 8h0m0 0h0m0-12h0m-1 8h0m0-12h0m0 13h0m-1-25h0m0 10h0m-1 12h0m-1-14h0m-1 0h0m-1-6h0m0 0h0m-1 25h0m0 2h0m-1-6h0m0 5h0m-1-6h0m0-18h0m-2 17h0m0 6h0m-1 0h0m-1-25h0m0 3h0m0 19h0m0 0h0m-1-8h0m0-13h0m-2 5h0m0 2h0m-1-6h0m0 5h0m-2 6h0m0 7h0m-1-21h0m0 16h0m-1 7h0m-3-3h0m-2-5h0m-2-16h0m0 14h0m-1-7h0m0 21h0m0-20h0m0 12h0m-2-5h0m-3-15h0m0 25h0m0-15h0m-1 18h0m-1-3h0m0-17h0m-1-4h0m-2 21h0m-1 0h0m-2-17h0m-2 2h0m-2 17h0m0-2h0m0-12h0m-1 8h0m0-4h0m-2 7h0m-1-11h0m0 11h0m-1-6h0m0-1h0m-1 6h0m-1-5h0m0-2h0m0-11h0m-1 24h0m-1-6h0m0-21h0m-2 24h0m0-10h0m-1 1h0m-1 9h0m-1-20h0m-1 1h0m0 9h0m0-12h0m-1 4h0m-1-7h0m-1 20h0m0-18h0m-1-2h0m-2 25h0m0-18h0m-1 9h0m-2 4h0m0-5h0m0 12h0m-1-21h0m0-7h0m-1 28h0m-1-21h0m-2 14h0m-4 5h0m-2-11h0m0-1h0m-1 6h0m0 3h0m0-17h0m-1 19h0m0-6h0m0-18h0m0 16h0m0-11h0m-1 1h0m0-6h0m0 11h0m0-11h0m-2 12h0m-2-3h0m0-9h0m-2 17h0m0-6h0m-1 0h0m0 10h0m0-12h0m-1-10h0m-1 3h0m-1 16h0m-1 2h0m-2-11h0m0 4h0m-1 13h0m0-24h0m-1 25h0m-1-11h0m-1-15h0m0 15h0m-1 9h0m-1-21h0m-1 18h0m0-11h0m-1 0h0m-1-2h0m-1 9h0m0-11h0m0 6h0m-2-8h0m-1 17h0m-2-8h0m0 8h0m0 6h0m-1-21h0m0 8h0m0 6h0m-1-17h0m-2 19h0m0 5h0m-2-17h0m-1-12h0m0 15h0m-1 2h0m0 1h0m0-10h0m-1-8h0m0 9h0m-2 16h0m-1-9h0m-2-11h0m-1 16h0m-1 8h0m0-18h0m-1 12h0m0-17h0m0 17h0m0-10h0m-1 0h0m-2 14h0m0-20h0m-3 17h0m0-6h0m-2-7h0m0 14h0m0-2h0m0-19h0m-2 10h0m0-1h0m0-4h0m-1-2h0m0 3h0m0 11h0m-1-18h0m-1 1h0m0 23h0m-2-13h0m0-7h0m0 18h0m0 3h0m-1-25h0m-1 17h0m-1 1h0m-1-15h0m-2 13h0m-2-12h0m0 3h0m-2 13h0m-1-17h0m-1 0h0m-1 3h0m0-2h0m-4 11h0m0-10h0m-2 13h0m0-11h0m-3 1h0m-1 10h0m0-13h0m-1 18h0m-2-7h0m-2-6h0m-1-13h0m-1 10h0m-2 4h0m0-12h0m-1 16h0m-1-12h0m-1 5h0m-1 10h0m0-8h0m0-12h0m0 5h0m0 18h0m0-7h0m-1-5h0m0-10h0m-1 2h0m-3 23h0m-3-20h0m0-5h0m-2 1h0m0 19h0m-1 7h0m0-27h0m0 19h0m-1-4h0m-1-15h0m-1 17h0m-2-9h0m0 8h0m0-12h0m0 9h0m0-6h0m0 7h0m-1 2h0m0 8h0m-1-16h0m-1 12h0m-1-15h0m0-6h0m-1 13h0m-1-3h0m0-10h0m-1 2h0m-3 2h0m-1-4h0m-4 9h0m0 5h0m-1-8h0m-1 1h0m-2-5h0m0-1h0m-1 18h0m0 8h0m-2-6h0m-1 6h0m0-27h0m0 7h0m0-6h0m-2 6h0m-1-1h0m0 17h0m-4-12h0m-1 13h0m-1-12h0m-1 11h0m-1-12h0m0 12h0m0-12h0m-1 10h0m-1 3h0m-1-9h0m-1-16h0m0 22h0m0 5h0m-1-1h0m0-6h0m0-9h0m-3 16h0m0-6h0m-1-20h0m0 17h0m0 4h0m0-1h0m-2-11h0m-2 10h0m-1-14h0m0-2h0m-1 15h0m0-19h0m0 2h0m-2-2h0m0 5h0m-1 11h0m-1-14h0m0 17h0m0-17h0m-1 1h0m0 26h0m0-2h0m0-27h0m0 0h0m0 16h0m0 6h0m0 5h0m0-27h0m0 23h0m0 6h0m0-3h0m0 1h0m0-25h0m0 20h0m0-22h0m0 8h0m0 7h0m0-6h0m0-6h0m0 2h0m0-2h0m0 22h0m0-8h0m0 7h0m0-10h0m0 35h0m0-8h0m0 6h0m0 6h0m0-23h0m0 12h0m0-11h0m0 0h0m0 12h0m0 6h0m0-2h0m0 0h0m0-6h0m0 8h0m0-4h0m0-1h0m0-14h0m0 26h0m0-13h0m0 6h0m0 8h0m0 0h0m0-20h0m0 22h0m0-12h0m0 10h0m1-17h0m0 16h0m1-14h0m0-3h0m1 6h0m0 1h0m0-10h0m2-6h0m0 3h0m0-1h0m3 11h0m0 10h0m1 4h0m0 0h0m1 0h0m0-26h0m0-1h0m0 12h0m1 3h0m0-6h0m0 12h0m1-6h0m0 5h0m0-7h0m0 5h0m1-16h0m0-2h0m1 25h0m0-14h0m0 3h0m3-11h0m1 16h0m0-10h0m0 20h0m0 0h0m0-23h0m1-5h0m0 24h0m1-16h0m1 16h0m0-10h0m2 3h0m1-17h0m0 20h0m2-8h0m2 4h0m0-15h0m1 0h0m0 2h0m0 4h0m2 17h0m1-21h0m0 18h0m1 2h0m0-21h0m1 6h0m2 11h0m1-12h0m2 14h0m0-17h0m1 5h0m2-9h0m2 11h0m1 1h0m2 4h0m0-13h0m1 2h0m0 5h0m0 4h0m0-9h0m4-1h0m1 10h0m1 3h0m1 3h0m0-4h0m0-7h0m1 3h0m0 11h0m0-9h0m2 1h0m1-10h0m1-3h0m0 0h0m1-2h0m1 2h0m1 1h0m1 8h0m0 1h0m0-5h0m1 0h0m0 17h0m3-4h0m0-2h0m0 4h0m0-9h0m1-7h0m1-4h0m0-1h0m1 27h0m1-5h0m0-24h0m1 27h0m1-18h0m1 19h0m1-2h0m0-1h0m2 4h0m0-11h0m0 10h0m2-4h0m1-22h0m3 6h0m0-4h0m1 17h0m1-6h0m2 14h0m0-29h0m1 28h0m1-1h0m0-4h0m1-10h0m0-7h0m0 15h0m4-7h0m0-7h0m1 0h0m0 21h0m0-22h0m1 13h0m1 2h0m0-14h0m1-1h0m1 10h0m2-11h0m0 11h0m0 9h0m3-19h0m0-4h0m0 0h0m0-2h0m1 1h0m1 7h0m0 20h0m1-3h0m1-9h0m1 8h0m1-3h0m0-19h0m1 22h0m1-6h0m1-11h0m3 15h0m2-2h0m0-16h0m1 21h0m0-23h0m4 13h0m1 11h0m1-15h0m1 13h0m2-13h0m1 15h0m0-13h0m0 0h0m1-5h0m0 4h0m0 5h0m0-3h0m1-5h0m3 0h0m0 18h0m0-12h0m2 7h0m0-5h0m2 9h0m2-24h0m1 17h0m1-10h0m0 17h0m1-3h0m0 6h0m0-19h0m2 7h0m0-16h0m2 7h0m1 5h0m0-3h0m1-7h0m0 26h0m2-28h0m2 24h0m0 1h0m2-4h0m3-20h0m3 5h0m0-1h0m0 23h0m1-13h0m0 12h0m2-10h0m1 10h0m0-26h0m2 24h0m0-3h0m2-23h0m3 14h0m1-6h0m1 2h0m1-5h0m2 21h0m0-19h0m0 1h0m1 19h0m1-21h0m0 6h0m2 17h0m1-29h0m1 16h0m0-5h0m0-11h0m0 0h0m1 13h0m1 3h0m1-4h0m0 17h0m0-12h0m0-16h0m1 10h0m1-11h0m1 9h0m0 8h0m0 3h0m4-5h0m3 5h0m2 0h0m1-6h0m0-6h0m0 17h0m1-18h0m3 22h0m2-4h0m1-9h0m0-4h0m1-6h0m3 11h0m0-4h0m2 5h0m0-15h0m0 8h0m0-2h0m1 20h0m1-18h0m1 16h0m0-5h0m1-17h0m0 12h0m2-7h0m1 18h0m2-25h0m1 1h0m1 18h0m1-12h0m4 15h0m0-6h0m0-4h0m2-8h0m1 21h0m1-14h0m0-5h0m1 20h0m0-27h0m1 5h0m0 18h0m0-15h0m1 2h0m1 8h0m3-2h0m0 0h0m2-13h0m1 7h0m1-10h0m1 7h0m0 15h0m0-17h0m0 20h0m3-25h0m1 2h0m1 11h0m1-2h0m1-7h0m1-4h0m1 1h0m0 0h0m0 20h0m1 6h0m0-13h0m0 4h0m0-11h0m4 16h0m0 2h0m1-18h0m2-1h0m1 14h0m1 2h0m0-22h0m0 10h0m2-7h0m1 11h0m0-16h0m2 6h0m4 19h0m0 2h0m0-17h0m0-3h0m3 4h0m0 11h0m0-21h0m1 27h0m1-2h0m1-13h0m3 5h0m3 11h0m1-12h0m0 4h0m0 5h0m1-12h0m1 5h0m1-8h0m1-9h0m0 17h0m2 7h0m4 0h0m7 4h0m-6 20h0m-2 2h0m-1-14h0m-1 3h0m-4 3h0m-3-3h0m-1 6h0m0 10h0m-4-23h0m0 0h0m-1 20h0m-1-18h0m-2 21h0m0-14h0m-2 11h0m0 1h0m-1-8h0m-1-8h0m0-3h0m-1 12h0m-1-9h0m-5 13h0m-1-10h0m0 3h0m-1 1h0m0 9h0m0-4h0m-1-8h0m0 5h0m0-9h0m0 6h0m0-12h0m-2 4h0m0 4h0m-1-7h0m0 11h0m-3-6h0m0 18h0m0-18h0m0-1h0m-1 11h0m-1-2h0m-4-9h0m0-4h0m0 1h0m-1 12h0m-1-14h0m-1 24h0m0-2h0m0-25h0m0 22h0m-1 0h0m-1 2h0m-1-4h0m0 9h0m-1 0h0m0-19h0m-1 13h0m-1-3h0m0-8h0m-1 5h0m-1 10h0m0-3h0m0 1h0m0-25h0m0 21h0m-1-14h0m-1 8h0m-1 13h0m-2-22h0m0 0h0m0 6h0m-1 8h0m-3-6h0m0-10h0m-2 1h0m0 5h0m-2 14h0m0-2h0m-3 7h0m-1-12h0m-1-15h0m-5 4h0m-2 8h0m0 11h0m0 0h0m-1-21h0m0 17h0m-1-10h0m0 3h0m0 15h0m0-8h0m-1-20h0m0 5h0m0 23h0m0-17h0m-1 5h0m-1 7h0m-3-5h0m0-15h0m-2 25h0m0-15h0m0 7h0m-1 6h0m0-15h0m0-1h0m-1-3h0m0 0h0m-2 20h0m-1-7h0m-4 6h0m-2-7h0m0-7h0m0-4h0m-1 2h0m0 11h0m0-1h0m0 6h0m0-1h0m-1-6h0m0-3h0m-1 9h0m-1 2h0m-2-5h0m0-3h0m-1 9h0m0-16h0m0-5h0m-2-8h0m-2 27h0m-2-6h0m-1 6h0m0-14h0m-1-13h0m-1 14h0m-1-3h0m-2 3h0m-3-3h0m0-6h0m0 4h0m-1-8h0m-1 5h0m0 16h0m0 0h0m-1 3h0m0-2h0m0-1h0m0-10h0m-2 8h0m-1-4h0m0 0h0m-1-15h0m0 11h0m0 17h0m-1-1h0m0-6h0m-2-12h0m0 14h0m-2-18h0m0-2h0m0 3h0m-1 6h0m-2-2h0m-1-7h0m0 0h0m-1 19h0m-1-19h0m0-2h0m-2 8h0m0 10h0m-1 5h0m-1 3h0m-2-5h0m0-13h0m-1-8h0m-1 2h0m-1 12h0m0-8h0m0-6h0m-1 2h0m0 24h0m-1-4h0m0 5h0m-1-12h0m-1-9h0m-1 15h0m-1-3h0m0-13h0m-1 14h0m-1-2h0m-2-15h0m0 8h0m-1 12h0m0-10h0m-1-1h0m0 0h0m-3 11h0m-1-6h0m-1-15h0m0 2h0m-3 20h0m-1-22h0m0 11h0m-1 8h0m-1 6h0m-1-13h0m-4 3h0m-1 9h0m-1 0h0m-4-27h0m0 9h0m-1-4h0m-1 8h0m-1 6h0m-1-3h0m-3-5h0m0 2h0m-1 5h0m0-15h0m-2 10h0m0 2h0m-3 12h0m0-7h0m-1-1h0m-1-1h0m0 9h0m0-27h0m-1 25h0m-1-22h0m0 10h0m-2 7h0m-1 4h0m-1-5h0m0 8h0m-2-10h0m0-17h0m0 22h0m0-5h0m-3 6h0m-1-17h0m0 17h0m-1 3h0m-1-16h0m-1-1h0m0 0h0m-1 0h0m0 19h0m-1 0h0m-2-22h0m0 0h0m-1 2h0m0 13h0m0-15h0m-4 19h0m-1-6h0m-1-16h0m-2 9h0m-1 4h0m-1 5h0m-3-21h0m-3 28h0m0-27h0m-1 28h0m-1-1h0m-1-25h0m-1 15h0m0 7h0m0-12h0m-1 5h0m0-5h0m0 15h0m0-17h0m-3-4h0m0 7h0m-1-13h0m-1 12h0m0-6h0m0 0h0m-1 0h0m-2-1h0m-1 19h0m-1-8h0m0-7h0m0 9h0m-1-2h0m0 6h0m0-20h0m-1-3h0m0 24h0m-1-21h0m0 7h0m-1-5h0m0 24h0m-1-8h0m-1-18h0m-1 19h0m0 3h0m-1 1h0m0-24h0m-1 22h0m-2-15h0m0-3h0m-1-4h0m-1 2h0m0 14h0m-1 9h0m-1-24h0m0 23h0m-1-15h0m-1 16h0m0-12h0m-2 12h0m-2-6h0m0-17h0m-2 15h0m-1-18h0m0 0h0m-1 2h0m-1 1h0m0 11h0m-1 11h0m0-9h0m-1 11h0m-1-19h0m0 17h0m-1 2h0m0-5h0m-1-17h0m0 6h0m0-10h0m-1 15h0m-1-10h0m-1 14h0m-1-20h0m-1 7h0m-1 2h0m-1 5h0m-1 10h0m-1-9h0m0 1h0m0 12h0m-1-19h0m-2 3h0m0-1h0m-1 13h0m0-12h0m0 1h0m0 6h0m-1 9h0m0-28h0m0 6h0m0 12h0m0-7h0m0-12h0m0 9h0m0-9h0m0 16h0m0-2h0m0-11h0m0 2h0m0 19h0m0-11h0m0 8h0m0-16h0m0 21h0m0-3h0m0-22h0m0 2h0m0 20h0m0-14h0m0-1h0m0 10h0m0-2h0m0-9h0m0 11h0m0-15h0m0 21h0m0 0h0m0-19h0m0 22h0m0-10h0m0-5h0m0-7h0m0 8h0m0 2h0m0 25h0m0-1h0m0-1h0m0 16h0m0-14h0m0 9h0m0-4h0m0-1h0m0 0h0m0 14h0m0-2h0m0-8h0m0 11h0m0-11h0m0 6h0m0-5h0m0-11h0m0 16h0m0-4h0m0-10h0m0 17h0m1-2h0m0-20h0m0 17h0m0-2h0m2-8h0m2 15h0m1-2h0m0-19h0m2 23h0m1-5h0m1 4h0m1-28h0m2 18h0m2 8h0m1-1h0m1 0h0m0-1h0m3 0h0m3-3h0m1 1h0m1 6h0m0 1h0m0-27h0m2 27h0m1-10h0m2-2h0m2-16h0m1 9h0m1 17h0m2-7h0m0-2h0m1 8h0m0-2h0m1 3h0m1-9h0m0 5h0m0-10h0m2-8h0m1 23h0m0-17h0m1-6h0m1 4h0m1 5h0m1-14h0m1 3h0m4 20h0m4-21h0m1 23h0m0-17h0m0 5h0m0 3h0m0 8h0m0-9h0m1 1h0m1-8h0m0-2h0m1 19h0m1-22h0m0 17h0m1 4h0m0-24h0m2 18h0m0-14h0m0 5h0m0 16h0m0-3h0m1 7h0m0-5h0m1-2h0m3-7h0m1 7h0m0 3h0m1-9h0m1 4h0m0 0h0m1-16h0m0-2h0m1 5h0m0 1h0m1 8h0m0-13h0m1 20h0m0-18h0m2 18h0m2-11h0m2-11h0m0 17h0m1-13h0m1-4h0m0 21h0m4-6h0m0-10h0m0-5h0m1 2h0m3 4h0m0 11h0m1-14h0m0 14h0m1 8h0m0-17h0m0 13h0m1-11h0m0 18h0m1-26h0m0 25h0m0-16h0m1-4h0m1 20h0m0-6h0m1-20h0m0 25h0m1-10h0m0-6h0m2 12h0m1-6h0m0-2h0m3-5h0m0 10h0m0 2h0m1-10h0m1 10h0m1-4h0m1-10h0m1 8h0m1 1h0m0 2h0m0-1h0m1-17h0m0 18h0m1-19h0m0 9h0m1 14h0m0-12h0m0 9h0m1-8h0m1-1h0m1 9h0m1-17h0m0 4h0m1-1h0m0-2h0m1 8h0m3-10h0m0 8h0m1 1h0m0 1h0m1 12h0m1-7h0m0 6h0m1-13h0m0 9h0m1-6h0m0-6h0m2 10h0m1-6h0m1-9h0m0 26h0m1-25h0m1 0h0m1 1h0m2 18h0m0 7h0m0-14h0m1-2h0m1-1h0m0 15h0m1-4h0m0-11h0m3 13h0m0 1h0m0-8h0m0-7h0m1 12h0m1-17h0m1 14h0m2-10h0m0-9h0m1 20h0m0-11h0m1 4h0m4 9h0m2 5h0m1-10h0m1-9h0m2 13h0m0-1h0m0-17h0m1 25h0m1 0h0m2-14h0m2 3h0m2-17h0m0 0h0m1 0h0m1 1h0m1 8h0m1 12h0m1-14h0m1 8h0m0-5h0m0 1h0m1 12h0m1-7h0m2 8h0m1 4h0m2-17h0m3-11h0m0 28h0m1-28h0m1 22h0m1-19h0m1-1h0m0 17h0m1-17h0m0 3h0m0 8h0m0-7h0m1 19h0m0-13h0m1 0h0m0 5h0m3-11h0m0 11h0m0-2h0m1-8h0m0 6h0m0-7h0m1-7h0m0 9h0m0 7h0m1-14h0m0 14h0m0 11h0m0 0h0m1-19h0m0 3h0m1 3h0m1 7h0m2 8h0m1-18h0m1-9h0m2 9h0m0-4h0m2 11h0m2-16h0m1 18h0m0-2h0m1 5h0m1-7h0m1-7h0m1 3h0m1 13h0m0-8h0m1 3h0m0-5h0m0-5h0m1 9h0m1 3h0m0-14h0m0 16h0m1 2h0m0-26h0m1 11h0m2 18h0m0-6h0m0 4h0m1-16h0m0-8h0m2 19h0m0-16h0m1 6h0m1 13h0m0-16h0m3 9h0m1-9h0m1 8h0m1 3h0m0-6h0m2-10h0m0 7h0m1-10h0m0 15h0m2-5h0m1 14h0m0-3h0m1 3h0m0-21h0m4 20h0m0-15h0m1 15h0m0 0h0m1-15h0m0 17h0m0-12h0m2 2h0m0-14h0m0 17h0m1-7h0m0 5h0m1 0h0m0-4h0m1-4h0m1 12h0m0-15h0m0 6h0m1 16h0m2-23h0m1 7h0m1-12h0m1 27h0m1-25h0m1 2h0m1 21h0m1-18h0m0 2h0m1-6h0m0 12h0m1 13h0m1-8h0m0-13h0m1 15h0m2-7h0m0-6h0m1 0h0m0 2h0m0 6h0m0-16h0m1 11h0m3-3h0m0 6h0m3-1h0m0-8h0m3 12h0m5-10h0m6 6h0m-16 20h0m-10 8h0m-6 13h0m-2-18h0m-1 11h0m0 2h0m0-12h0m-1 2h0m0-4h0m-1-1h0m-3-3h0m0 10h0m-2-5h0m-4-1h0m-5 15h0m0-9h0m-1-2h0m0-8h0m-1 26h0m0-23h0m-4 22h0m0-20h0m-1-6h0m-2-1h0m-1 2h0m0 5h0m0 14h0m-1-12h0m-2 16h0m0-1h0m0-13h0m-2-7h0m-1 6h0m0 10h0m-2-5h0m-3-12h0m-1 16h0m-1-9h0m-3 14h0m-1 5h0m0-25h0m-1 6h0m-5 13h0m-2-23h0m-2 7h0m-1 16h0m-1 5h0m-1-8h0m0-3h0m0 2h0m0-19h0m-1 3h0m-1 2h0m0 5h0m0 8h0m-1-17h0m-1 13h0m0 11h0m0-16h0m-3 18h0m0-16h0m-2-7h0m0 9h0m-1-10h0m0 8h0m-1-9h0m-1 6h0m-1 16h0m0-18h0m-1 0h0m0 0h0m-1 19h0m-1-1h0m-1-16h0m-1 4h0m0 8h0m0 5h0m-3-3h0m0-5h0m-1 0h0m0-2h0m-2-10h0m0 4h0m-2 16h0m-1-4h0m0 3h0m-3-11h0m-1-4h0m-2 1h0m0 3h0m-1-9h0m-1 17h0m0 1h0m0-7h0m0-5h0m-3 15h0m-1-5h0m0 3h0m-1-1h0m0-16h0m-1 12h0m0 4h0m-2 2h0m-2-22h0m-1 3h0m-3 2h0m0 16h0m-1-19h0m0 23h0m-1-13h0m-1-6h0m-1 1h0m0 17h0m-1-17h0m0-5h0m-2 22h0m0-14h0m0 3h0m0-8h0m-1 3h0m-1 9h0m0-18h0m-2 18h0m0 7h0m-1-25h0m0 28h0m-2-21h0m-2 15h0m-1-14h0m-1 17h0m0-10h0m-1-1h0m-1-12h0m-1 26h0m-1-3h0m-1-17h0m-1 2h0m0 0h0m-1-4h0m-1 7h0m-2 11h0m-2-2h0m0 2h0m0-4h0m0 3h0m-1-14h0m0-3h0m0 5h0m-2 6h0m-2-5h0m0 12h0m0 4h0m0-25h0m-3 5h0m-1 15h0m0-2h0m-1 2h0m-2-17h0m0 6h0m-1 13h0m-1-15h0m0 2h0m0-13h0m-1 1h0m0 21h0m0-14h0m-1 4h0m-1-1h0m-1 12h0m-1-17h0m0-1h0m-1 1h0m0-5h0m0 13h0m-1 11h0m0-21h0m-1 16h0m-1-19h0m-1 15h0m-1 13h0m-1-26h0m0 3h0m-1 6h0m-1-6h0m-3 4h0m0 16h0m-1-20h0m-4 3h0m-1 20h0m0-23h0m0 9h0m-1 7h0m-1 5h0m-1 2h0m0-13h0m0 0h0m-1 10h0m-1 2h0m0-26h0m-2 17h0m-2-5h0m0 6h0m-1-9h0m0-5h0m-4 6h0m0-1h0m-1 6h0m0-17h0m-1 3h0m0 2h0m0 22h0m-1-8h0m0 9h0m-3-8h0m-1 6h0m0-15h0m-1-5h0m-4 3h0m-1 10h0m0 4h0m-1-17h0m-1 19h0m0-17h0m-1 18h0m0 3h0m-1-13h0m-2 7h0m0-11h0m-1 7h0m-1-19h0m0 0h0m-1 2h0m-1 14h0m-1-1h0m0-4h0m-1-10h0m-3 5h0m-1-5h0m0 21h0m0-9h0m0-10h0m0 15h0m-1-17h0m-1 4h0m-1-1h0m-1 8h0m-1-8h0m0 24h0m-2-21h0m-2 14h0m-2-18h0m0 3h0m-1 5h0m0-3h0m0 8h0m-1 0h0m0 3h0m-2 10h0m0-13h0m-2 7h0m0-19h0m-1 5h0m0 16h0m-1-2h0m-2 4h0m0-10h0m-1-2h0m0 9h0m-1-20h0m-1 9h0m-1-2h0m0 4h0m-1-2h0m-1-1h0m-1-1h0m-2 8h0m0-13h0m0 8h0m-1 12h0m0-1h0m-2-11h0m-1-2h0m-1 12h0m-2-10h0m-1 11h0m0-14h0m-2 4h0m0 9h0m0 0h0m-1-21h0m0 7h0m0 19h0m0-7h0m0-18h0m0-2h0m0 23h0m0-19h0m0 17h0m0-14h0m0-3h0m0 6h0m0 9h0m0-4h0m0 5h0m0-15h0m0-2h0m0 7h0m0 3h0m0-1h0m0 12h0m0-16h0m0-10h0m0 13h0m0-13h0m0 12h0m0 6h0m0-1h0m0 14h0m0 8h0m2-2h0m1-4h0m0 5h0m1-5h0m4-2h0m2-1h0m0 11h0m1-8h0m0 16h0m2-16h0m3 8h0m1 10h0m1 3h0m2-16h0m3 6h0m0-6h0m1-1h0m1 11h0m0 10h0m1-23h0m0-1h0m3 2h0m2 5h0m1 6h0m1-6h0m1-2h0m1 8h0m0 0h0m1 5h0m1-4h0m1 9h0m1-27h0m3 7h0m1-3h0m3-4h0m0 11h0m1 8h0m1-5h0m1 9h0m1-13h0m0 3h0m2 15h0m1-11h0m1 12h0m0-28h0m0 4h0m1-3h0m2 18h0m0-16h0m1 17h0m1-21h0m0 7h0m0 22h0m1-23h0m1 18h0m2-16h0m0 7h0m0 7h0m0-10h0m1 7h0m0-12h0m1 0h0m2 19h0m0-16h0m1-3h0m0 11h0m0-16h0m0 6h0m0-1h0m1-1h0m2 10h0m0-7h0m0 8h0m0 0h0m0 12h0m2-11h0m0-7h0m1 5h0m2 2h0m2-1h0m1-5h0m0 5h0m0-15h0m1 4h0m1 21h0m0-22h0m0-1h0m0 22h0m1-10h0m0-8h0m2 3h0m0-10h0m0 26h0m1-12h0m0-1h0m0 7h0m0 4h0m1-15h0m1-8h0m2 18h0m0 2h0m2-13h0m1 20h0m1-15h0m1 15h0m9-16h0m0-11h0m0-2h0m0 9h0m1-9h0m1 1h0m1 6h0m1-3h0m1 7h0m1 5h0m0 9h0m0 4h0m1-23h0m1-5h0m1 20h0m0-19h0m0 19h0m1-9h0m0-5h0m1 15h0m1-4h0m1-14h0m1 9h0m0-7h0m2 11h0m0-4h0m3-6h0m0 6h0m3 16h0m0-19h0m0 13h0m2-12h0m2 15h0m1-4h0m1-5h0m0-8h0m0 11h0m2 3h0m1-9h0m0 0h0m0 3h0m1 6h0m1-20h0m0-1h0m0 0h0m1 18h0m1-20h0m1 5h0m0-1h0m1 6h0m1 1h0m2 7h0m0 9h0m1 1h0m0-19h0m1 17h0m0-7h0m1 8h0m0-25h0m1 21h0m2-8h0m1 4h0m1-18h0m0 26h0m2-22h0m1-4h0m0 28h0m2-29h0m0 4h0m0-1h0m4-2h0m0 0h0m1 1h0m3 10h0m0 10h0m0-1h0m1-18h0m1 4h0m0 18h0m0 4h0m0-11h0m0-7h0m0-1h0m1-5h0m1 19h0m1 2h0m2-21h0m2 11h0m0 5h0m2-19h0m0 9h0m1-4h0m2-3h0m2 3h0m1-2h0m0 2h0m3 2h0m1-4h0m2 2h0m0-3h0m0 5h0m2 10h0m1-19h0m3 22h0m0-19h0m8 24h0m2-26h0m0 8h0m1 15h0m3-21h0m1 14h0m0-10h0m1-1h0m7-2h0m1 1h0m2-3h0m0 2h0m1-4h0m2 7h0m0 7h0m-47 22h0m-17-3h0m-5-3h0m-4 2h0m-2 12h0m-7-8h0m-4-6h0m-1 9h0m0-6h0m0-3h0m-9 9h0m-1-9h0m-3 11h0m-3-3h0m-7 19h0m-6-24h0m-2-3h0m-2 10h0m-3-10h0m0 9h0m-5-8h0m-1 5h0m-5-4h0m-4 1h0m0 1h0m-2-2h0m-2 3h0m-2 15h0m-4-17h0m0 7h0m-6-5h0m-2-2h0m-18 0h0m-2 1h0m-2-1h0m0 13h0m-4-12h0m-30-3h0m-10 1h0" stroke="#1442f4" stroke-width="14.0" stroke-linecap="round" fill="none"/>
<path d="M647 3681h0m1 8h0m23 0h0m1-8h0m32 7h0m29 7h0m0 21h0m-34 2h0m-4-21h0m-13 1h0m-6 17h0m-1-14h0m-3 3h0m-15-14h0m-9 39h0m1 10h0m11 3h0m1-7h0m1 3h0m9 4h0m7 1h0m29 6h0m28-29h0m-27 44h0m-20 1h0m-2-1h0m-3-14h0m-2 20h0m-14-11h0m-2 5h0m-4 7h0m-5-13h0m-22 51h0m14-23h0m4 19h0m2-5h0m15-19h0m10 20h0m2 3h0m4 5h0m4-25h0m0 8h0m0-4h0m13-2h0m6 7h0m20 33h0m-24 0h0m-6-5h0m0-5h0m0 9h0m-2-11h0m-1 7h0m-4 5h0m-1-13h0m0 6h0m-6 15h0m-13-12h0m-10 15h0m-1-17h0m-1 7h0m-1-12h0m-12 22h0m-20-5h0m43 37h0m1-23h0m6 7h0m17 10h0m8-15h0m1 18h0m3-16h0m32 6h0m-3 24h0m-5 12h0m-18 3h0m-4-11h0m-16 2h0m0 13h0m-3-11h0m-6-15h0m-6 21h0m-2-2h0m-4-2h0m-1-6h0m-6-6h0m-7 5h0m0-12h0m-12 48h0m5-19h0m4 16h0m9-14h0m19 20h0m0 6h0m4-18h0m0 17h0m12-23h0m6-2h0m15-1h0m5 11h0m-30 23h0m-14 0h0" stroke="#30e01a" stroke-width="19.0" stroke-linecap="round" fill="none"/>
<path d="M713 3895h0m-5-2h0m-18 5h0m-6-7h0m-7 5h0m-9-1h0m-12-2h0m-4 20h0m14-7h0m4-5h0m7 8h0m1-8h0m2 1h0m1 16h0m0 6h0m4-2h0m2-10h0m1 5h0m0 2h0m1-17h0m2 19h0m0 8h0m1-9h0m2-19h0m1-1h0m1 20h0m3-3h0m5-10h0m2 6h0m-2 22h0m-1 0h0m-7-3h0m-3 3h0m-4 0h0m-7-2h0m-8 2h0m-1-1h0m-3-2h0m0 3h0m-7 0h0" stroke="#30e01a" stroke-width="16.0" stroke-linecap="round" fill="none"/>
<path d="M706 3682h0m26 11h0m46 41h0m31 25h0m-105 6h0m23 31h0m33 13h0m30-24h0m6 12h0m-3 62h0m-18 12h0m-33 21h0m-3-11h0m13 20h0" stroke="#30e01a" stroke-width="15.0" stroke-linecap="round" fill="none"/>
<path d="M2769 2771h0m-29 70h0m66 53h0m153 32h0m-152 3h0m-90-14h0m-46 12h0m-54 11h0m103 19h0m174-4h0m6 13h0m305-4h0m-86 25h0m-2-8h0m-102 16h0m-186-4h0m-23-11h0m-2-3h0m-41-1h0m-53-4h0m-3 1h0m-11 7h0m-16 25h0m47 1h0m8 17h0m21 3h0m30-14h0m4 15h0m35-18h0m13 0h0m7 19h0m12-21h0m9 15h0m100 5h0m-77 12h0m-70 20h0m-18-12h0m-9-12h0m0-3h0m-3 9h0m-7-6h0m-17-5h0m-10 17h0m-4 7h0m-51 0h0m-45-24h0m-72 43h0m34 0h0m83 3h0m7 10h0m40-8h0m15-13h0m8 16h0m2-19h0m28 25h0m18-20h0m13 9h0m40 1h0m22 6h0m4-16h0m1 14h0m197-4h0m17 3h0m27 29h0m-240 9h0m-7 1h0m-16-15h0m-36 4h0m-15 9h0m-11-6h0m-2 1h0m-16 2h0m-6 4h0m-7-23h0m-2 17h0m-18 0h0m-10 0h0m-5-19h0m-16 1h0m-35 8h0m-4 4h0m-8-7h0m-2 26h0m58-1h0m27 16h0m41-18h0m10 3h0m9 14h0m1 5h0m13 2h0m75-9h0m165 8h0m51-1h0m-47 20h0m-205-3h0m-8 15h0m-22-2h0m-4-15h0m-2 2h0m-10 13h0m0 4h0m-20-26h0m0 23h0m-18 4h0m-17-28h0m-10 2h0m-7 4h0m-11 14h0m-1-1h0m-44 2h0m-41-1h0m-74 36h0m10-8h0m13 2h0m4-2h0m34 6h0m1-10h0m26-7h0m20 14h0m7-10h0m16-6h0m24 18h0m18-5h0m1-12h0m13-4h0m11 10h0m11-6h0m7 16h0m29-6h0m1-15h0m4 18h0m2-3h0m1 3h0m5-5h0m17 0h0m7-10h0m6 13h0m34 10h0m249 17h0m-79-9h0m-53 2h0m-70 9h0m-4 8h0m-34-23h0m-10 12h0m-1 6h0m-19-19h0m-12 9h0m0 14h0m-2-15h0m-3 13h0m-1-22h0m-2 15h0m-5 7h0m-2-12h0m-19 2h0m-1 14h0m-2-9h0m-4 10h0m-36-1h0m-2-5h0m-7 8h0m-2-4h0m-12-18h0m-4 14h0m-11-18h0m-3 25h0m-8-25h0m-3 12h0m-1-4h0m-3 14h0m-11-6h0m-15 6h0m-6 0h0m-2-25h0m-110 16h0m76 34h0m15 5h0m23-21h0m20 14h0m7-18h0m10 24h0m2 5h0m4-25h0m12 14h0m0 10h0m7-22h0m4 23h0m11-12h0m2-16h0m1 19h0m18-4h0m0 2h0m7 6h0m1 5h0m2-24h0m21 24h0m3-11h0m1-14h0m6 6h0m7 4h0m3-8h0m11 11h0m18-4h0m10-5h0m9 15h0m4-5h0m69-12h0m15 20h0m0 19h0m-73 12h0m-6-26h0m-28 24h0m-7-11h0m-10-4h0m-2 19h0m-22-11h0m-4-11h0m-1-1h0m-5-3h0m-1 24h0m-2-10h0m-12 0h0m-6 8h0m-9-14h0m-8-1h0m-5-6h0m-1 4h0m0 14h0m0-10h0m-27-11h0m-5 22h0m0-1h0m-1-14h0m-1 21h0m-14-17h0m-23-12h0m-2 23h0m0-5h0m-1-16h0m-6 13h0m-9-12h0m-7 18h0m-2 7h0m-3-6h0m-1-7h0m-4-2h0m-21 0h0m-5-13h0m-10 11h0m-35 4h0m-29-8h0m115 43h0m11-6h0m11-14h0m3 27h0m6-15h0m5-6h0m1 4h0m5-2h0m9 10h0m1 7h0m15-1h0m9-1h0m6-17h0m11 11h0m4-6h0m8-6h0m6-2h0m2 17h0m1-20h0m1 20h0m7-16h0m2 14h0m1 6h0m7-15h0m14 10h0m1-18h0m1 24h0m2-21h0m2 14h0m1 1h0m26-5h0m3 11h0m17-2h0m29 5h0m27-7h0m6 2h0m40-7h0m14 5h0m182 4h0m-266 26h0m-1-9h0m-27 15h0m-6 2h0m-11-8h0m-8 1h0m-6-9h0m-4-13h0m-7 17h0m-9 10h0m-1-16h0m-2-9h0m-3 27h0m-8-2h0m-2-11h0m-2 12h0m-7-11h0m-2-14h0m-1 25h0m-3-27h0m0 7h0m-3 17h0m-1-14h0m-9 16h0m-2 1h0m-15 0h0m-1-9h0m0 4h0m-2-4h0m0 10h0m-2-4h0m-3-2h0m-4-4h0m-5-10h0m-1 20h0m-8-4h0m-20-1h0m-1-16h0m-2 14h0m-1-10h0m-5-9h0m-2 9h0m-2-6h0m-1 5h0m-2 12h0m-21-15h0m-8 8h0m-6 10h0m-9-25h0m-35 5h0m-4 16h0m-1-3h0m-50 7h0m79 27h0m8-2h0m2-8h0m8-6h0m2 12h0m19-4h0m8 8h0m3-9h0m7-4h0m2-4h0m7 6h0m1-3h0m23-8h0m12 28h0m3-22h0m2-6h0m3 10h0m0-11h0m2 23h0m1 0h0m4-13h0m0 10h0m0-7h0m2-1h0m1 11h0m1 3h0m2-3h0m3-16h0m11 21h0m2-18h0m6-2h0m15-2h0m10 5h0m4 0h0m13 7h0m1-4h0m0 4h0m2-14h0m13 11h0m5-10h0m0 10h0m3-5h0m31 15h0m9 3h0m22-5h0m0-9h0m59 15h0m43-8h0m-7 20h0m-1 2h0m-56-3h0m-66 12h0m-4-1h0m-1-4h0m-25 6h0m-6-12h0m-2-8h0m-16 11h0m-3 9h0m-7-1h0m0-22h0m-1 21h0m0-20h0m0 23h0m-3 1h0m-1-18h0m-7 17h0m0-3h0m-1 6h0m-4 0h0m-25-1h0m-3-16h0m0 1h0m-1 2h0m-1-3h0m0-4h0m-1-2h0m0 25h0m-7-21h0m-10 7h0m-13-10h0m-6-2h0m-2 25h0m-2-5h0m-1-4h0m-3-7h0m-3 15h0m-5 0h0m-2-17h0m-1 13h0m-6-12h0m-1 1h0m-7-4h0m-4-6h0m-1 17h0m-6 2h0m-11-21h0m-1 25h0m-8-15h0m-1 14h0m-12-7h0m-1 5h0m-2-12h0m-4 10h0m-1-6h0m-1 2h0m-6-13h0m-6 8h0m-12 4h0m-17 13h0m-129-14h0m81 40h0m37-16h0m11 11h0m9 2h0m29-6h0m16-12h0m0 3h0m2 19h0m6-5h0m0-5h0m5-9h0m8 22h0m3-25h0m3 11h0m8-10h0m0 1h0m3-2h0m2-1h0m5-1h0m8 10h0m2 10h0m2-13h0m4 8h0m0-15h0m1 23h0m1-18h0m4 19h0m1-9h0m2 6h0m1-17h0m1 7h0m1 1h0m2-9h0m2 11h0m5-14h0m2 0h0m1 21h0m7-4h0m1 8h0m2-7h0m1-11h0m7 7h0m0 12h0m3-16h0m1 8h0m3 8h0m1-15h0m5 10h0m4-1h0m0 5h0m1-25h0m4 23h0m1 3h0m2-9h0m5-10h0m1 1h0m5 2h0m2-9h0m1 5h0m2 1h0m0 0h0m0 7h0m6 4h0m1 8h0m0-24h0m6 8h0m5 12h0m11-14h0m0 0h0m3 6h0m2 0h0m4 6h0m7 7h0m10-1h0m1-1h0m4-3h0m1-22h0m1 14h0m6 10h0m8-4h0m6 0h0m7-4h0m1-14h0m7 13h0m6 2h0m1 11h0m36-15h0m13-9h0m11 18h0m29 0h0m1-13h0m113 7h0m-25 19h0m-32 7h0m-14 9h0m-26 2h0m-9-9h0m-5-2h0m-11-9h0m-25 19h0m-5-8h0m-15-6h0m-17 18h0m-2-23h0m-1 5h0m0-4h0m-1 3h0m-17 16h0m-3-6h0m-1-7h0m-1-5h0m0 2h0m-2 4h0m-2 1h0m-4 7h0m-2-7h0m-1-1h0m-3-7h0m-4 21h0m-1-6h0m-10-7h0m0 11h0m-1-5h0m0 1h0m-2 9h0m-4-9h0m-1-17h0m-1 23h0m-1-19h0m-1-3h0m-1 3h0m-1 13h0m-2 4h0m0 2h0m-2 3h0m-8-17h0m0 5h0m-2-2h0m-7-2h0m-10 15h0m-3-5h0m-5-3h0m-1-7h0m-2-10h0m-2 1h0m-2 24h0m-1-5h0m0-9h0m-8-9h0m-10 9h0m0 15h0m0-24h0m-1 7h0m0-7h0m-3 18h0m-3 6h0m0-7h0m0-18h0m-1 2h0m-1 10h0m0 7h0m-4 5h0m-3-16h0m-1 8h0m-1-6h0m-10 7h0m-1 6h0m-9-25h0m0-1h0m-3 4h0m-1 6h0m-2 13h0m-1-16h0m-1 21h0m-2-4h0m-6-15h0m-1 7h0m-6-2h0m-4-2h0m-4-12h0m-1 4h0m-1 2h0m-2 13h0m-1-15h0m-8 11h0m-17 8h0m0 5h0m-2-7h0m-6-9h0m-20 0h0m-5-11h0m-3 14h0m-6 13h0m-5-19h0m-4 3h0m-14 0h0m-7 16h0m-1-20h0m-37 18h0m-34-6h0m24 10h0m53 22h0m17 1h0m7-20h0m6 11h0m22-10h0m1 10h0m6-15h0m3 23h0m6-10h0m0-12h0m3 0h0m1 14h0m4-5h0m4 10h0m5-9h0m4-8h0m7 21h0m6-15h0m4 2h0m2 2h0m1 10h0m2 4h0m10-21h0m9 11h0m0-7h0m0 9h0m7-16h0m0 8h0m1-8h0m1 22h0m1-20h0m4 17h0m0-13h0m1 16h0m1 0h0m3-8h0m2 8h0m1 3h0m3-25h0m1 11h0m0 14h0m1-13h0m3-1h0m2-5h0m0-2h0m2 3h0m0 1h0m1 17h0m1-14h0m2-9h0m1 4h0m1 20h0m1-10h0m8 2h0m1-8h0m6 15h0m4-26h0m4 18h0m1-11h0m1 6h0m2 0h0m6-2h0m1-4h0m4 5h0m5 5h0m0-17h0m2 14h0m4 1h0m2-14h0m1 19h0m2-17h0m3 20h0m0-11h0m3-3h0m0 13h0m0 2h0m2-4h0m3-22h0m6 27h0m0-2h0m5-22h0m1 25h0m4-26h0m2 15h0m0 3h0m2 1h0m1 4h0m2-10h0m4 1h0m0 11h0m3 0h0m1-23h0m2 14h0m5 9h0m1-14h0m1 1h0m7 3h0m1 12h0m1-27h0m1 13h0m1-7h0m4 0h0m4 15h0m3-9h0m1-8h0m0-4h0m2-2h0m1 28h0m2-19h0m5 19h0m4 1h0m1-7h0m5-12h0m2 19h0m7-3h0m5 2h0m4-10h0m10 6h0m0 5h0m4-14h0m14 7h0m2-8h0m3-14h0m9 24h0m1-6h0m4 1h0m1 1h0m1-17h0m2 13h0m4-7h0m10-4h0m9 2h0m35 17h0m-22 6h0m0 23h0m-16 2h0m-1 1h0m-6-4h0m-4-6h0m-2-5h0m0 5h0m-21 2h0m-4 6h0m-1-22h0m-5 22h0m-3-16h0m-1 5h0m-2-9h0m-2 19h0m0 1h0m-4-6h0m0 7h0m-7-4h0m-5-13h0m-2 0h0m-9 15h0m-3 6h0m-1-3h0m-5 1h0m-1-6h0m-1-19h0m-2 25h0m-2-13h0m-2-12h0m-2 6h0m-3 9h0m-1-12h0m-2-3h0m0 12h0m0-5h0m-4 19h0m-2-11h0m-1-15h0m-3 11h0m0 10h0m-1-7h0m-1-10h0m0 5h0m-4 6h0m-1-9h0m0 14h0m-1-3h0m0-8h0m0 12h0m-1-19h0m-1-4h0m0 14h0m-1 12h0m0-9h0m-1 1h0m-3 10h0m-2-27h0m-1 14h0m-1 12h0m-1-16h0m0 16h0m0-11h0m-2 6h0m-2-8h0m0 13h0m-1-4h0m0-19h0m-3 20h0m-3 1h0m-1-2h0m0-19h0m-1 2h0m0 1h0m0 1h0m0 1h0m-2 6h0m0 13h0m-3-22h0m-5-3h0m0 7h0m-2 9h0m-2-9h0m-1-1h0m-2-3h0m0-2h0m0-2h0m-1 19h0m0 4h0m-1-20h0m-1 3h0m0 20h0m-1-2h0m0-11h0m-1-4h0m-1-9h0m-3 19h0m-1-8h0m0-1h0m-3 0h0m-2-10h0m-4 22h0m-1-21h0m-2 0h0m-1 25h0m0-2h0m-3-8h0m0-16h0m-2 12h0m-2 13h0m-2-10h0m-1-13h0m0 10h0m-1 0h0m-1-11h0m-1 5h0m-1 13h0m-1-18h0m0 1h0m-1 6h0m-1 16h0m-1 0h0m0-10h0m-2 6h0m-4-1h0m0 8h0m-3-18h0m-1-1h0m-1-7h0m-3 4h0m-1 8h0m-1-14h0m0 17h0m-2 5h0m0-4h0m0 8h0m-2-21h0m-1-1h0m0-1h0m-1 0h0m-2 22h0m-1-17h0m0 13h0m-3-2h0m0 9h0m-1-19h0m-1 9h0m-1 3h0m0-2h0m-3-4h0m-1 9h0m0 4h0m-3-9h0m0 8h0m-3-25h0m-1 24h0m0-27h0m-3 13h0m-2-12h0m-1 4h0m0 8h0m0 14h0m-1-2h0m-3-2h0m0-22h0m-2 20h0m-1 5h0m-2-3h0m-1-5h0m0 3h0m-2-13h0m0 10h0m-2-6h0m-3 9h0m-1-1h0m-1 1h0m-1-7h0m-1 10h0m-1-15h0m-1 7h0m-1-14h0m-1 18h0m-1-8h0m0 0h0m-2-12h0m-7 9h0m-2-9h0m-3 21h0m-1-4h0m-1 12h0m-1-7h0m-2-1h0m-1 2h0m-1-15h0m-1 13h0m-7-19h0m0 25h0m0-10h0m-2-7h0m-3-10h0m-1 2h0m-4 20h0m-4-5h0m-1-2h0m-1 0h0m-4-4h0m-17 12h0m-1-4h0m0-17h0m-9 21h0m-7-17h0m-4 4h0m-2-6h0m-5 6h0m-1 5h0m-26-6h0m-2 2h0m-12 17h0m-1-10h0m-24-6h0m-92-4h0m79 45h0m34 2h0m2-5h0m1-4h0m0-3h0m2 5h0m24 9h0m1-23h0m1 20h0m6-17h0m2 15h0m5-4h0m3-12h0m2 13h0m9-8h0m0-6h0m2 5h0m0 12h0m1-18h0m3 13h0m4 8h0m8-15h0m1 19h0m2-18h0m1 14h0m3-6h0m3 3h0m4-20h0m2 23h0m2-11h0m2 14h0m0-20h0m2 13h0m1-5h0m2-12h0m2 23h0m1-5h0m2-2h0m1-12h0m6 10h0m2 7h0m0-18h0m0 15h0m3 7h0m0-8h0m0 4h0m1-16h0m0 10h0m1-15h0m0 25h0m2-23h0m0 6h0m0 15h0m3-13h0m1 6h0m0 9h0m2-27h0m1-1h0m1 24h0m0-15h0m5 12h0m0 7h0m2-13h0m1 8h0m1-8h0m0 3h0m0 5h0m4 0h0m0-13h0m2 12h0m2-10h0m1 1h0m3-1h0m0 16h0m1-13h0m1 1h0m2 4h0m0-16h0m2 13h0m1-16h0m2 1h0m0 11h0m1 1h0m1 2h0m3-7h0m1 16h0m2-13h0m0-3h0m1 1h0m0 2h0m0-2h0m1-2h0m0 0h0m2 8h0m1 9h0m0-22h0m2-4h0m0 0h0m1 11h0m0 8h0m1-4h0m1 14h0m0-12h0m3 12h0m1-14h0m0-8h0m0-4h0m1 14h0m3-11h0m1-5h0m0 0h0m1 8h0m2 2h0m1 7h0m0-5h0m3-4h0m0 1h0m1-6h0m0 22h0m1-14h0m1 10h0m2-11h0m0-4h0m0 3h0m1-5h0m1 1h0m0 1h0m1 22h0m0-6h0m0-9h0m2-6h0m1 7h0m1-5h0m0-6h0m0 14h0m1-14h0m1 15h0m1-18h0m1 3h0m1 21h0m0-11h0m1-1h0m1-4h0m2 6h0m0-6h0m2 8h0m0-10h0m2 15h0m0-4h0m1-6h0m1-2h0m3 11h0m1 6h0m0-7h0m1-15h0m2-1h0m1-4h0m0 29h0m1 0h0m1-8h0m0 6h0m0-9h0m0-13h0m1 4h0m0 8h0m1-10h0m1-2h0m1 22h0m1-3h0m1 1h0m1-18h0m1 9h0m0-7h0m0-6h0m0 0h0m0 16h0m0-10h0m1-6h0m1-2h0m1 24h0m0-14h0m0 7h0m0-11h0m1 2h0m1-3h0m1 18h0m1-24h0m2 17h0m2 7h0m2 4h0m3-15h0m0 16h0m2-20h0m2 10h0m1 0h0m2 9h0m1-17h0m0-11h0m1 16h0m0-7h0m1 1h0m0 2h0m0 13h0m1-9h0m0 9h0m1-3h0m1 3h0m2 1h0m0-20h0m2 16h0m1-7h0m1 5h0m2 2h0m1-22h0m8 26h0m1 2h0m1-7h0m1-6h0m1 8h0m1-8h0m1 11h0m0-11h0m0-8h0m0 15h0m1-10h0m2 2h0m0-1h0m1-7h0m0 12h0m2 8h0m1-14h0m1 1h0m3 11h0m0-13h0m6 2h0m1 2h0m0 0h0m1 0h0m1-11h0m0 24h0m1-4h0m0 2h0m6-5h0m3 7h0m0-26h0m3 21h0m1-21h0m0-1h0m2 13h0m3 1h0m1-4h0m2 3h0m3-7h0m0 1h0m1 1h0m4 12h0m2-8h0m0 5h0m1 5h0m0 5h0m2 1h0m3-22h0m0 20h0m7 1h0m4 1h0m0-22h0m2 13h0m2 2h0m1-20h0m3 7h0m1 4h0m0 8h0m3 1h0m2-6h0m3 5h0m0-13h0m18 21h0m4-25h0m1 3h0m9 8h0m9-5h0m3 17h0m5 1h0m10-21h0m4 10h0m53-1h0m10-11h0m33-1h0m-33 50h0m-24-7h0m-5 7h0m-21-6h0m-23 11h0m-2-1h0m-2-20h0m-1 20h0m-3-7h0m-7-17h0m-1 20h0m-1-7h0m-7-11h0m-3 3h0m-3 4h0m-1-8h0m-4-2h0m-5 19h0m-1-10h0m-3-3h0m-1 11h0m-2-14h0m0 3h0m-5 1h0m0 15h0m-4-20h0m-2 2h0m-2-2h0m-2 18h0m0-19h0m-1 8h0m-2 17h0m0-5h0m-1-4h0m-2-6h0m0-5h0m-1 10h0m0-16h0m0 17h0m0 2h0m0 1h0m-1-14h0m-1 1h0m-1-7h0m-2 24h0m-3-19h0m0 18h0m0-24h0m-3 26h0m-1-11h0m-3-10h0m-1 14h0m0 2h0m0-13h0m-1-3h0m-5 18h0m-1 0h0m0-5h0m-4-4h0m0-9h0m-1 5h0m-4 0h0m0-8h0m-1 11h0m-2 14h0m0-9h0m-2-6h0m-1-11h0m-1 8h0m0 5h0m-1-2h0m0-5h0m0 3h0m-4-7h0m0 19h0m0 0h0m-3-14h0m-1 18h0m-1-9h0m-1-12h0m-2 2h0m-1 0h0m0 10h0m-3 6h0m0-13h0m-3 10h0m0 5h0m-1-20h0m-1 1h0m-2 13h0m0 3h0m-2-17h0m0 9h0m-2-15h0m0 16h0m0 12h0m-1-27h0m0 19h0m0 0h0m0 1h0m-2-6h0m-1 7h0m0 6h0m-1-26h0m-1 25h0m0-3h0m0 2h0m-1-26h0m-2 21h0m0-14h0m-1-8h0m0 1h0m0 26h0m-1-9h0m0 11h0m0-10h0m0-14h0m0 5h0m0-3h0m-1-4h0m-2 2h0m-3 22h0m0-6h0m-1 8h0m-1-1h0m0-14h0m-1-3h0m-2 12h0m-1-10h0m0-8h0m-1 2h0m0-2h0m-4 1h0m0-4h0m-3 2h0m-1 4h0m-1 15h0m-1 6h0m-2-6h0m0 6h0m0-19h0m0 4h0m0 4h0m0 3h0m-1-18h0m0 7h0m-1 13h0m-1-10h0m0-1h0m0-1h0m0 9h0m-1-9h0m0-6h0m-3 14h0m-1 6h0m-1-4h0m0 1h0m-2-9h0m-1-10h0m-3 18h0m0-5h0m-1 10h0m-1-23h0m-1 9h0m0 8h0m-1 4h0m0-19h0m0 5h0m0 3h0m-1 4h0m-1 7h0m0-24h0m-1 18h0m0-18h0m-2 24h0m0-11h0m-1 13h0m-1-15h0m-1-11h0m-1 3h0m0 25h0m0-28h0m-2 21h0m-1-5h0m0 8h0m0-11h0m-1 3h0m-1-8h0m0 8h0m-1-4h0m-1 16h0m0-18h0m-1-3h0m-1 8h0m0 13h0m0-14h0m-1-6h0m0 18h0m0-9h0m-1-6h0m-1-9h0m0 21h0m0-10h0m-2 8h0m0 2h0m-1-21h0m0 0h0m-1 20h0m0-15h0m0 19h0m-1 0h0m0-3h0m-1-13h0m-1-2h0m0 10h0m0 1h0m0-13h0m-1 23h0m0-19h0m0-10h0m-1 13h0m0-13h0m0 11h0m-1-6h0m0 19h0m-1-14h0m0 12h0m0 0h0m-1 4h0m0-3h0m-3-1h0m0-3h0m-1 1h0m0-2h0m0-9h0m0 14h0m-1 1h0m0-5h0m-1 4h0m0-7h0m0 5h0m0-17h0m0 23h0m-1 1h0m0-8h0m-1-4h0m0 2h0m0-2h0m0-5h0m-1 0h0m0-10h0m-1 27h0m-1-15h0m0-12h0m-1 28h0m0-11h0m0 5h0m-1-12h0m-3-11h0m-1 25h0m-1-16h0m0 16h0m-1-22h0m0 16h0m-1 0h0m-1 4h0m0 0h0m0 1h0m-1-16h0m-2-3h0m0 9h0m0 0h0m-1 6h0m0 1h0m0-1h0m-1-6h0m-2 6h0m-1-10h0m-1 18h0m-1-16h0m0 5h0m-3 10h0m-1-18h0m-1 1h0m-1 16h0m0 2h0m-1-14h0m-1-5h0m-3-2h0m-1 22h0m0-26h0m-2 3h0m0 3h0m-2 17h0m-1-26h0m-1 23h0m0-2h0m0-17h0m-1 13h0m0 12h0m-1-19h0m-1-2h0m-1 8h0m0 8h0m-1-19h0m-1-1h0m-1 4h0m0 6h0m0 5h0m-1-19h0m0 16h0m0 0h0m-1-14h0m-1 11h0m-1-1h0m-1 6h0m-1-4h0m-3-14h0m-3 4h0m0-3h0m-1 0h0m-1 3h0m0-3h0m-1 19h0m-3 1h0m-5-20h0m-1 25h0m0-3h0m0-17h0m-2-2h0m-1 0h0m-2 20h0m-1-13h0m0-2h0m-1 7h0m-1-14h0m-1 14h0m-1-2h0m-3-7h0m-1-2h0m0 12h0m0-10h0m-1-7h0m0 15h0m-3-1h0m-2 3h0m0-17h0m-5 4h0m-1 4h0m0 8h0m-3 7h0m-2-4h0m0-16h0m0 12h0m-1-13h0m0 3h0m-2 23h0m-1-18h0m-1-1h0m0 7h0m-1 6h0m-2-6h0m-2 5h0m-4 8h0m0-12h0m-1-7h0m-2 8h0m-3-18h0m-1 11h0m-6 10h0m-2-13h0m-1 16h0m-3-3h0m-1-12h0m0-1h0m-5-4h0m-7 20h0m0-13h0m-10 12h0m0-17h0m-3 4h0m-1 0h0m-1 14h0m-1-9h0m0 4h0m-7 4h0m-10-9h0m-4 15h0m-7-6h0m-6-17h0m-6-4h0m-7 12h0m-6-11h0m-18 23h0m-38-4h0m-13 23h0m11 6h0m24-9h0m18-6h0m40 16h0m10-10h0m2-9h0m8 14h0m1 12h0m1-5h0m10-3h0m2-12h0m2 3h0m5-7h0m6 24h0m1-29h0m5 24h0m1-6h0m2-11h0m1 18h0m4-2h0m3-19h0m2 8h0m2 15h0m1-11h0m1 4h0m2 3h0m1 6h0m1-22h0m0 11h0m1-6h0m2-9h0m1 12h0m1 10h0m2-14h0m0-4h0m1 21h0m1-16h0m2 0h0m1 1h0m0 8h0m0-18h0m1 16h0m1-6h0m0-10h0m1 2h0m2 17h0m0-18h0m0 25h0m0-29h0m2 19h0m0 9h0m1-21h0m1-1h0m4 15h0m1-21h0m0 20h0m1-3h0m1 9h0m1-9h0m2 9h0m0-18h0m1 9h0m2-9h0m0-8h0m1 3h0m4 18h0m1 1h0m0-20h0m1 16h0m0-4h0m3-10h0m0 13h0m0 3h0m1-6h0m0 10h0m1-17h0m1 3h0m2-4h0m1 21h0m1 2h0m0-1h0m1-28h0m1 28h0m1-25h0m1 2h0m1 17h0m0-14h0m0 10h0m1 0h0m3-6h0m1-8h0m0 25h0m1-4h0m0-5h0m1-7h0m2 9h0m0 7h0m1-25h0m0 4h0m4 0h0m1 12h0m0 3h0m1-13h0m1 19h0m1-13h0m1 8h0m1-13h0m3 6h0m1 10h0m0-1h0m1-18h0m1-4h0m1 0h0m1 9h0m0-5h0m2 20h0m0-19h0m1 13h0m0-9h0m1-6h0m0-7h0m1 29h0m2-18h0m0-2h0m0 19h0m1-19h0m1-6h0m0 14h0m0-5h0m1 4h0m1 3h0m0-17h0m1 11h0m0 6h0m0-5h0m1 6h0m1 3h0m0-3h0m0-18h0m1 11h0m0-2h0m1 10h0m1-5h0m0-13h0m1 5h0m0 13h0m0-2h0m0 9h0m1-6h0m0-6h0m1-16h0m1 8h0m0 18h0m2-25h0m0 5h0m0 18h0m2-14h0m0 9h0m1-5h0m2-10h0m0 23h0m2-4h0m1-6h0m1 2h0m0 0h0m0-19h0m0 23h0m2-22h0m0 10h0m2-6h0m1 13h0m0-18h0m0 26h0m1-24h0m0-1h0m1 16h0m0 11h0m0-22h0m0 18h0m0 2h0m1-6h0m0-17h0m1 1h0m0 23h0m0-19h0m1 4h0m0 16h0m2-5h0m0-17h0m2 3h0m0 11h0m0-19h0m3 25h0m0-8h0m0-5h0m1-8h0m0 22h0m0-9h0m1-16h0m0-2h0m0 28h0m0-19h0m1 17h0m0-5h0m0-6h0m1 3h0m0-17h0m1 23h0m1-7h0m0 4h0m1-5h0m0-15h0m1 9h0m0 10h0m1-1h0m1-17h0m0 13h0m1-2h0m0-13h0m2 28h0m1-21h0m1-1h0m0 21h0m1-3h0m1-9h0m0-1h0m1 6h0m2-8h0m1-11h0m0 10h0m1 3h0m0-4h0m0-6h0m0 15h0m1-10h0m0 20h0m1-25h0m0 9h0m0-12h0m1 24h0m0-10h0m0 8h0m1-10h0m0-8h0m0 14h0m3-3h0m1-7h0m1 18h0m0 2h0m1-9h0m0-10h0m1 3h0m1-8h0m0 18h0m1-1h0m0-13h0m2 0h0m1 6h0m0 9h0m0 5h0m1-26h0m2 26h0m1-21h0m0 4h0m0-9h0m1 7h0m0 2h0m0-7h0m0 0h0m1 1h0m2 13h0m1-7h0m0 3h0m0-7h0m1 10h0m0-6h0m1 8h0m0-20h0m2 18h0m0-2h0m0-13h0m0 7h0m1 6h0m2-15h0m0 3h0m0 12h0m0 13h0m2-18h0m0 15h0m2-18h0m0 16h0m0 0h0m1-2h0m0-11h0m1 7h0m1 4h0m0 4h0m3-2h0m1-11h0m1-4h0m2 18h0m1 1h0m3-15h0m0 8h0m0 6h0m0-9h0m0-4h0m1-11h0m4 2h0m0 18h0m2 6h0m0-14h0m3 5h0m0 0h0m0-18h0m3 17h0m1 3h0m2 3h0m2-6h0m0 9h0m0-1h0m2-15h0m2 9h0m1-15h0m1 5h0m0-11h0m1 10h0m1 1h0m0 7h0m1 1h0m0-13h0m1 7h0m0 5h0m1 10h0m1-26h0m3 6h0m2 15h0m3 6h0m1-17h0m3-5h0m1 1h0m1 9h0m2 7h0m0-12h0m1 7h0m1-6h0m5-3h0m2 19h0m2-27h0m2-2h0m3 29h0m0-24h0m3 4h0m2 1h0m2 19h0m1-1h0m4-9h0m0 7h0m1-23h0m5 12h0m1 3h0m2 1h0m1 9h0m0-12h0m1-5h0m6 10h0m3 2h0m3-17h0m4-5h0m0 24h0m1-23h0m0 0h0m5 11h0m1 4h0m2-10h0m3 18h0m0 0h0m2-10h0m1 0h0m4-5h0m2-2h0m1-8h0m1 3h0m0 24h0m19-9h0m0 8h0m2-20h0m1 4h0m9 0h0m15 16h0m16-15h0m29-10h0m23 20h0m-41 24h0m-18-9h0m-2 0h0m-12-3h0m-14 2h0m-2 2h0m-6-3h0m-1 3h0m-35 12h0m-4 8h0m-14-20h0m-1 0h0m-2 15h0m-2-19h0m-14 8h0m-7 5h0m-1-16h0m-1 21h0m-7-4h0m0-5h0m-1 1h0m-2-13h0m-1 8h0m-3-7h0m-4 27h0m-1-14h0m-1 8h0m0 4h0m-1-22h0m-1 22h0m0 2h0m-3-22h0m0 22h0m-1-25h0m-1 24h0m-1-21h0m0 20h0m-1-22h0m-3-2h0m-1 15h0m0 3h0m-1-18h0m-1 17h0m-4-4h0m-1-13h0m-3 18h0m0-7h0m-1-9h0m-1-4h0m-1 10h0m0 17h0m0-14h0m-2-6h0m-1-2h0m0 6h0m-1-5h0m0-3h0m0-2h0m-1 13h0m-1 5h0m0 3h0m0-21h0m-1 27h0m-1-11h0m0-15h0m-1 23h0m-1-12h0m0-11h0m-4 20h0m-3 3h0m0-1h0m0-9h0m0 1h0m0-1h0m-1-14h0m0 1h0m0 26h0m-1-11h0m0-11h0m-3-6h0m-1 23h0m-1-7h0m0 7h0m-1 2h0m0-19h0m-1 15h0m0-13h0m-1 9h0m0 10h0m-2-16h0m0-5h0m0 17h0m-1-20h0m0 17h0m-3-18h0m0 5h0m-1 4h0m-2 10h0m-1-12h0m0 9h0m0-15h0m-1 17h0m0 4h0m-1-21h0m-1 3h0m-1 20h0m-1-6h0m-1-12h0m-1 2h0m0 15h0m-3 0h0m-1-20h0m0-4h0m-1 28h0m-2-4h0m-1-15h0m-1 6h0m-1-13h0m-1 5h0m-1-8h0m0 15h0m-2 11h0m-1-8h0m0 8h0m-1 1h0m0-12h0m-1 10h0m-1-3h0m-2 4h0m-1-20h0m0 9h0m0 12h0m-2-23h0m0 3h0m-1 18h0m0-18h0m-1 15h0m0-16h0m-2 16h0m0-12h0m-2 19h0m-1-14h0m-1 6h0m-2-12h0m-1 9h0m-1-14h0m0 24h0m-1 1h0m0-22h0m-1 12h0m-1 5h0m-2-15h0m0-7h0m-1 26h0m0-11h0m-1-8h0m0-2h0m-2 18h0m0-22h0m0 14h0m0-5h0m-1 12h0m0-6h0m0-4h0m-1 9h0m-1-23h0m0 19h0m0-17h0m0-2h0m-1 3h0m-1 16h0m-2-14h0m-1 22h0m-2 0h0m-1-12h0m-1-3h0m-1 12h0m0-1h0m0-1h0m-2-5h0m-1-14h0m0-2h0m-1 1h0m0-2h0m-1 6h0m0 8h0m0-9h0m0 10h0m-1-2h0m-1-8h0m-2 9h0m-1 3h0m0 8h0m0-16h0m0 15h0m-1-12h0m-1 9h0m-1 0h0m0 7h0m-1-14h0m0-4h0m0-4h0m0 19h0m-1-21h0m0 9h0m-1-5h0m0 8h0m0-4h0m0-6h0m-1 19h0m-4 1h0m0-25h0m0 4h0m-1 19h0m-1-3h0m0-14h0m0 21h0m-1-24h0m0 11h0m-1 8h0m-1 6h0m-1-19h0m0 0h0m0 4h0m-2-3h0m0 2h0m0 6h0m0-13h0m-1 21h0m0 0h0m-1-4h0m0-3h0m0-6h0m-1 1h0m-1-3h0m-1 12h0m-2 5h0m-1-3h0m0-17h0m-1-2h0m0 18h0m0-3h0m-1 7h0m0-26h0m-2 24h0m0-4h0m0-9h0m-2 15h0m-1-8h0m-3-13h0m-1 21h0m0-26h0m-1 12h0m0 4h0m0-9h0m-1-5h0m-1 20h0m-3-10h0m0 0h0m-2 0h0m-2-12h0m-1 15h0m0-10h0m0 5h0m-3-6h0m0 0h0m-1-1h0m-1 22h0m0-25h0m-2 13h0m-5-2h0m0 0h0m-3 11h0m-1-22h0m0 17h0m-2-7h0m0-11h0m-4 20h0m-4 7h0m-2-1h0m-2-22h0m-1 21h0m-1-16h0m-2 10h0m-4-2h0m-2-19h0m-1 7h0m0 19h0m-1 0h0m-4-12h0m-1 11h0m-1-25h0m-1 15h0m-1-11h0m0 9h0m-7 16h0m-6-3h0m-1 1h0m-3-25h0m0-2h0m-2 18h0m0-18h0m-2 13h0m-2-10h0m-2 8h0m-1-6h0m0 6h0m-2 9h0m-1 7h0m-12-27h0m-4 11h0m-1-11h0m-5 3h0m-1 10h0m-1 7h0m-4 3h0m-2-4h0m-3 10h0m-3-14h0m-1 2h0m0-4h0m-11-10h0m-7 4h0m-5 4h0m-1 7h0m-22 7h0m-10-20h0m-44 0h0m46 34h0m25-5h0m2 14h0m3 4h0m9 4h0m1 3h0m12-3h0m3-10h0m2-13h0m2 19h0m13-10h0m2 11h0m4-22h0m1 21h0m2-12h0m4 13h0m4 2h0m4-8h0m0 7h0m1-12h0m4-2h0m2 4h0m1 15h0m5-7h0m1-5h0m3-11h0m3-2h0m1 8h0m4 3h0m2-9h0m5 15h0m1 3h0m2 0h0m0-20h0m1 4h0m5-2h0m2-6h0m0 1h0m3 6h0m2 18h0m0-19h0m0 23h0m2-2h0m1 1h0m0-4h0m3-19h0m5 15h0m2-8h0m0 10h0m1 3h0m1-16h0m0-5h0m0 24h0m2-24h0m1 17h0m1-17h0m0 16h0m5-11h0m0 7h0m2 12h0m2-12h0m1-7h0m1-9h0m0 29h0m2-14h0m0 2h0m1 1h0m1-18h0m1 7h0m0 22h0m2-15h0m2-10h0m1-4h0m1 19h0m0-11h0m1 6h0m1 13h0m0-18h0m0 6h0m1-11h0m0 13h0m0-9h0m0 1h0m1-9h0m0 24h0m1-22h0m0 24h0m1-10h0m1 2h0m1-5h0m0-7h0m0 16h0m1-4h0m0-3h0m0-2h0m2 15h0m1-12h0m0-10h0m1 19h0m2-17h0m3 21h0m0-27h0m2 23h0m2-24h0m0 16h0m0 7h0m1-13h0m1 5h0m0-7h0m0 11h0m0-15h0m2-3h0m1-1h0m0 21h0m1 7h0m0-13h0m1 13h0m1-8h0m1-8h0m1 2h0m1 10h0m1-16h0m5 0h0m0 20h0m2-22h0m0-2h0m0 21h0m0-18h0m1 2h0m1-9h0m0 18h0m0 8h0m0-10h0m1-12h0m2-2h0m0 4h0m1 7h0m1 3h0m1-8h0m1 0h0m0 4h0m0 7h0m0-7h0m2-1h0m0 0h0m2-12h0m1 7h0m0 0h0m1 1h0m1 18h0m0-15h0m0-7h0m1 25h0m0-21h0m0 9h0m1-14h0m0 10h0m0 6h0m3-10h0m0 4h0m1-11h0m1 10h0m3 6h0m2 9h0m0-10h0m1-9h0m1-7h0m2 0h0m1 9h0m0-6h0m3-2h0m3 2h0m0 22h0m1-7h0m0-4h0m2 7h0m0 5h0m2-18h0m1-1h0m0 12h0m3 2h0m1 1h0m0-2h0m1-21h0m1 21h0m3-17h0m1 10h0m1 13h0m2-4h0m0-18h0m0 12h0m1-3h0m1-6h0m1 12h0m1-16h0m1 21h0m0 1h0m3-3h0m1-2h0m1-20h0m0 13h0m0-2h0m1 6h0m1-5h0m0-3h0m0-8h0m1 16h0m0 10h0m1-13h0m0-4h0m1-1h0m0 1h0m3 9h0m0-4h0m1-2h0m2-11h0m0 19h0m2 6h0m0-26h0m2 8h0m1 11h0m0 6h0m1-13h0m1 14h0m2-11h0m2 2h0m0-11h0m0 13h0m2-6h0m2-6h0m0 3h0m1 9h0m2-1h0m1-2h0m1-17h0m0 21h0m1-1h0m4-1h0m2-17h0m1 18h0m0 6h0m1-4h0m5-5h0m2-13h0m0-5h0m1 0h0m3 2h0m2-2h0m3 9h0m4 9h0m1-1h0m1-13h0m0 25h0m0-1h0m1-8h0m3-6h0m1-12h0m0 22h0m1-8h0m0 8h0m0-9h0m0 12h0m4-24h0m0 26h0m1-22h0m0 18h0m2-10h0m3 13h0m0-8h0m0-3h0m2-17h0m0 26h0m3-20h0m0 9h0m2 11h0m4-15h0m1 4h0m1 1h0m3-8h0m1 20h0m0-4h0m0-13h0m3-11h0m6 15h0m1 11h0m3-25h0m3 9h0m1-6h0m0 18h0m12 4h0m4-23h0m8 20h0m4 4h0m9-20h0m12 6h0m57 14h0m41-17h0m7-1h0m-115 29h0m-19-7h0m-12 4h0m-18-4h0m-12 3h0m-5 5h0m-4 5h0m-1-3h0m-5 1h0m0-9h0m-2 13h0m-1-3h0m-3-10h0m-5-3h0m-2 22h0m-2-15h0m-1 12h0m-3-9h0m-3-3h0m0-5h0m-1 22h0m-4 4h0m0-27h0m-1-1h0m-1 14h0m-2 3h0m-1-1h0m-1 13h0m-2-26h0m-5 12h0m-1-11h0m-1 7h0m-4-6h0m0 23h0m-3-13h0m0 1h0m-1-9h0m0-3h0m0 8h0m-2-1h0m0-10h0m-5 18h0m-2-1h0m-6-11h0m0 1h0m-1-6h0m-1 9h0m-2-6h0m0 23h0m-1-21h0m-5 12h0m-3-5h0m-2-4h0m-3-9h0m0 14h0m0 14h0m-1-8h0m-1 1h0m-1-21h0m-1 26h0m-1-17h0m0 5h0m-2-11h0m-3-4h0m-3 8h0m0 6h0m0 11h0m-2-16h0m-3-1h0m-3 20h0m-1 0h0m0-27h0m-1 13h0m0 0h0m-2-5h0m-2-7h0m-1 16h0m-4-18h0m-1 19h0m0 7h0m-1-2h0m-1 1h0m0-5h0m-1-20h0m-1 4h0m-1 24h0m-3-24h0m-1 9h0m-7-8h0m0 18h0m-4-1h0m-3-14h0m-1 17h0m-1-2h0m-2-22h0m0 24h0m0 3h0m-5-10h0m0 0h0m0-9h0m-2 12h0m-2-19h0m-3 11h0m-1 9h0m-2-5h0m-2-7h0m-2-1h0m0-6h0m0-3h0m-4 6h0m-1 16h0m0-9h0m-2-10h0m-1 0h0m-1-1h0m0-2h0m-1 18h0m-1-6h0m0-2h0m-2 7h0m-2 4h0m-2-5h0m-1 3h0m-2-7h0m-1-10h0m-1 5h0m-1 11h0m-1 2h0m0 3h0m-1 2h0m0-20h0m0 9h0m-1-12h0m-5-2h0m-3 18h0m-2-2h0m-2 7h0m0-23h0m0 21h0m-5-10h0m-1 12h0m0-1h0m-1-19h0m0 18h0m-3-12h0m-1 18h0m-6-17h0m-6 1h0m-3 3h0m-1-13h0m-2 13h0m-8-11h0m-1 25h0m-1-12h0m-3-6h0m-2-6h0m-1 12h0m-9 1h0m0-5h0m-8 14h0m-1 0h0m-1-19h0m-8-7h0m-1 23h0m-1-4h0m-2-18h0m-1 25h0m-8-7h0m-6 2h0m-7-15h0m-1 15h0m-9-2h0m-3 0h0m-9-3h0m-8 9h0m-9 2h0m-110 31h0m1-7h0m22 5h0m14-3h0m35 0h0m17 4h0m4 2h0m0-5h0m2-10h0m4-4h0m2 8h0m6 11h0m7-15h0m1 4h0m10-11h0m3-3h0m0 15h0m1-3h0m6 6h0m1-1h0m2-9h0m6-2h0m3-6h0m5-4h0m5 3h0m6 26h0m2-23h0m0 20h0m7-16h0m6 12h0m2-5h0m3 0h0m2-16h0m8 11h0m20-11h0m1 7h0m5 20h0m1 0h0m2-19h0m4-3h0m1 8h0m1 5h0m10 9h0m5-1h0m3-7h0m0-20h0m3 14h0m3-5h0m9 17h0m3-6h0m5-1h0m2-1h0m2 5h0m5 0h0m4-22h0m0 1h0m1 2h0m4 10h0m2-9h0m2 4h0m4 16h0m2-25h0m2 4h0m2-4h0m0 23h0m2-16h0m5 12h0m1-4h0m5 4h0m4-1h0m4-4h0m2-7h0m2 6h0m1 0h0m0 15h0m5-23h0m3 7h0m10-12h0m5 13h0m1-9h0m3 1h0m1 1h0m1 13h0m5-19h0m3 1h0m12 10h0m5-1h0m4-3h0m2-7h0m4 9h0m16-9h0m3 4h0m26-4h0m12 2h0m-144 37h0m-11-8h0m-6-1h0m-46 13h0m-38-13h0m-5 8h0m-27-7h0m-15 5h0m-4 18h0m-9-2h0m-10-19h0m-7 12h0m0-7h0m-11 3h0m-5-4h0m-2-5h0m-3 1h0m0 16h0m-5-2h0m-19-6h0m-5-8h0m-1 5h0m-15 3h0m-2 17h0m-3-20h0m-1 19h0m-1-10h0m0 3h0m-3-9h0m-5 6h0m-5 1h0m-6 7h0m0-21h0m-5 23h0m-2-17h0m-1 19h0m-6-13h0m-9 10h0m-2-9h0m-1-16h0m-2 4h0m-18 3h0m-1-2h0m0 20h0m-1-7h0m-1-9h0m-1 12h0m-7 4h0m-1 2h0m-33-1h0m-10 15h0m7 11h0m1-18h0m15-3h0m2 16h0m8 9h0m13-12h0m1 0h0m6-1h0m1 11h0m1-21h0m5-2h0m3 1h0m1 7h0m6-3h0m2 16h0m9-20h0m6 12h0m2-7h0m9 3h0m6-7h0m5-2h0m7 8h0m7-3h0m3-6h0m-56 29h0m-37 1h0m-6 9h0m-1-8h0m-12 2h0" stroke="#1442f4" stroke-width="15.0" stroke-linecap="round" fill="none"/>
<path d="M2703 3719h0m-19-18h0m-35 9h0m-29 6h0m-2-18h0m-112 51h0m59-13h0m12 8h0m22-3h0m5-8h0m9 10h0m4-10h0m9-2h0m37 4h0m30-6h0m3 11h0m12 20h0m-52-3h0m-18-3h0m-5 16h0m-15-10h0m-19 19h0m-18-7h0m-11 4h0m-15-24h0m-19 21h0m-52-5h0m19 41h0m4-28h0m18 3h0m12-4h0m10 20h0m16-19h0m54 9h0m6-9h0m18 8h0m-89 21h0m-3 10h0m-51-9h0m-8 3h0" stroke="#686e86" stroke-width="12.0" stroke-linecap="round" fill="none" opacity="0.80"/>
<path d="M2503 3582h0m-36 18h0m8 9h0m79-5h0m27 5h0m29 24h0m-11 16h0m-146 0h0m-6 6h0m-6 2h0m-15-5h0m156 13h0m18 23h0m-187 44h0m68-1h0m103 1h0m-168 18h0m137 35h0" stroke="#686e86" stroke-width="12.0" stroke-linecap="round" fill="none" opacity="0.80"/>
<path d="M2430 3808h0m12-2h0m2 3h0m5-8h0m1 1h0m5 3h0m11-7h0m0 9h0m1-15h0m3 12h0m0-5h0m8 6h0m1-6h0m2 9h0m2-4h0m4 0h0m16 10h0m-21-4h0m-4 0h0m-1 3h0m0 3h0m-2 0h0m0 6h0m-3-10h0m-1 1h0m-2 9h0m-1-2h0m-1 7h0m-1-3h0m0 3h0m0 4h0m-1-18h0m-1 4h0m-3-4h0m-1 4h0m-2 12h0m0-9h0m-2 5h0m0-10h0m0-5h0m0 20h0m-1-4h0m-1-13h0m0 5h0m0 9h0m0-15h0m0 0h0m-1 9h0m-1-1h0m0 19h0m-1-18h0m0-1h0m0-2h0m0 2h0m-1 13h0m-1-6h0m0 3h0m-1-15h0m0 9h0m-1 3h0m0 4h0m-1 3h0m0 1h0m0-12h0m0 2h0m0 12h0m-1-18h0m0 6h0m-1-2h0m0-8h0m-1 4h0m0 9h0m-1-4h0m0-9h0m-1 17h0m-1-5h0m0-9h0m0-4h0m0 6h0m-1-2h0m0 0h0m-1 4h0m-1-5h0m0 6h0m-1-7h0m0 15h0m-1-2h0m0-5h0m0-9h0m-1 17h0m0-3h0m-1 5h0m-1-11h0m0 5h0m0 6h0m0-15h0m-1 9h0m0 6h0m-1-11h0m0 12h0m0-4h0m0 5h0m-1-13h0m0 4h0m-1-4h0m0 7h0m-1 1h0m-1 8h0m0-6h0m0-21h0m-1 10h0m0 9h0m0-14h0m-1 4h0m0 4h0m-1 14h0m-1-16h0m0 5h0m0-12h0m-1 7h0m0 6h0m-1-4h0m0 0h0m0-4h0m-1-1h0m0 12h0m-1-15h0m0 21h0m-1-3h0m-1-11h0m0 11h0m0-17h0m0 10h0m0-8h0m-1-2h0m0 7h0m-1 2h0m0 8h0m-1 3h0m-2-5h0m0-1h0m-1-6h0m-1 4h0m-3 1h0m-1-14h0m-2 15h0m-4-3h0m-3 5h0m0 0h0m-3-11h0m-1-8h0m-11 18h0m-29 26h0m3 3h0m6-5h0m5 4h0m0-18h0m8 1h0m3 9h0m1-3h0m0-1h0m10 4h0m0-4h0m1 0h0m2 4h0m2-5h0m3-8h0m1 4h0m3 10h0m0-10h0m0 11h0m1-15h0m1 16h0m2-14h0m0-1h0m3 1h0m1-1h0m3 5h0m0-4h0m0-2h0m1 6h0m0 0h0m0 2h0m1 8h0m3-15h0m5 0h0m0 9h0m0-10h0m1 5h0m2-5h0m4 3h0m2 18h0m1-17h0m1-4h0m0 8h0m2 1h0m0-2h0m1-5h0m1 1h0m18-2h0" stroke="#30e01a" stroke-width="17.0" stroke-linecap="round" fill="none"/>
<path d="M588 5802h0m-4 12h0m-7-8h0m-15 1h0m-6 6h0m-1-4h0m-25 5h0m-8-2h0m-6-1h0m-7-8h0m-47 8h0m-33-3h0m-5 3h0m-2 2h0m-18-11h0m0 23h0m0 13h0m0 7h0m3-18h0m1 4h0m11 11h0m12-3h0m0-6h0m3-5h0m3 13h0m2-18h0m12 0h0m11 7h0m11 6h0m2 12h0m1-20h0m5 9h0m12 2h0m42 6h0m5-1h0m13-4h0m24 0h0m5 3h0m3-10h0m2-2h0m5 0h0m2-4h0m2 36h0m-16-5h0m-20-7h0m0 5h0m-38 11h0m-17-7h0m-6 10h0m-4 5h0m-12 2h0m-36-18h0m-1 3h0m-5 10h0m-19-5h0m-10-16h0m-8 58h0m25-15h0m21-14h0m18 17h0m17 1h0m3 4h0m5-9h0m1 9h0m4-15h0m4-1h0m3 16h0m2 3h0m36-23h0m3 15h0m7-9h0m0-7h0m2 21h0m4 6h0m2-14h0m4-8h0m4 16h0m2-4h0m0-7h0m1 16h0m1-20h0m12 22h0m14-10h0m1-19h0m3 15h0m2-2h0m-4 31h0m-8 2h0m-1 11h0m-5-14h0m-1 12h0m-10-3h0m-20-3h0m-8-16h0m-16-2h0m-4 22h0m0-19h0m-5 21h0m-3-8h0m-13 3h0m-16-2h0m-31-17h0m-9 0h0m-5 9h0m0 19h0m0-23h0m-12-3h0m-5-3h0m-4 14h0m-2 3h0m-7-1h0m-5 12h0m-7 1h0m0-1h0m0 18h0m13 5h0m1 3h0m5-22h0m15 8h0m7 7h0m13 3h0m27-7h0m19-13h0m5 12h0m2 1h0m8-7h0m14 13h0m3-3h0m3-14h0m9 0h0m14 4h0m16 18h0m13-10h0m12 11h0m1 4h0m-17 14h0m-14 16h0m-5-23h0m-7 22h0m-3-5h0m-6-3h0m-16-18h0m-5 17h0m-10 3h0m-9-19h0m-3 7h0m-1 17h0m-54-23h0m-5 13h0m-12 6h0m-21-18h0m-2 10h0m-1-3h0m0-10h0m-5 9h0m-4 37h0m3 5h0m7 5h0m2-17h0m3 15h0m8-25h0m2 12h0m1-1h0m8 14h0m5-9h0m1 7h0m4-13h0m3 8h0m3-2h0m0 4h0m10-3h0m18 2h0m12-10h0m9-10h0m12 28h0m2-9h0m13-3h0m23 6h0m4 6h0m0-4h0m5-6h0m3 8h0m1-21h0m8 0h0m2 22h0m11-6h0m12 15h0m-8 0h0m-7-3h0m-4 3h0m-9 0h0m-39-2h0m-27 2h0m-20 0h0m-1 0h0m-3 0h0m-55 0h0m-10-6h0m-6 6h0m-6 0h0" stroke="#a0a5ba" stroke-width="10.0" stroke-linecap="round" fill="none" opacity="0.90"/>
<path d="M588 5802h0m-11 4h0m-15 1h0m-40 5h0m-93-4h0m-7 5h0m-18-11h0m0 43h0m4-14h0m23 8h0m20-16h0m22 13h0m3-8h0m101 12h0m19 23h0m-16-5h0m-20-2h0m-38 11h0m-23 3h0m-58 2h0m-19-5h0m7 27h0m21-14h0m18 17h0m25-4h0m53 4h0m13 11h0m10-6h0m2-4h0m2-11h0m26 12h0m4-4h0m-2 29h0m-15 11h0m-66-8h0m-13 3h0m-16-2h0m-40-17h0m-22-1h0m-6 17h0m-12 11h0m6 23h0m6-19h0m15 8h0m98 6h0m26-10h0m16 18h0m-10 12h0m-7 22h0m-25-26h0m-28 25h0m-71-4h0m-23 35h0m5-2h0m32-7h0m3-2h0m0 4h0m61 7h0m38-6h0m4 6h0m0-4h0m5-6h0m3 8h0m11 1h0m23 9h0m-8 0h0m-7-3h0" stroke="#686e86" stroke-width="9.0" stroke-linecap="round" fill="none" opacity="0.60"/>
<path d="M512 5872h0m-32-15h0m-56 50h0m75-9h0m0-5h0m9 13h0m10-3h0m1 2h0m5-7h0m19 7h0m52-6h0m21 30h0m-20-14h0m-1 14h0m-5-11h0m-40 20h0m-2-5h0m-2 3h0m-4-13h0m-8 1h0m-1 9h0m-10 0h0m-9-15h0m-2 21h0m-6-19h0m-5-1h0m-16 2h0m-11 3h0m-3 2h0m-43-11h0m34 44h0m38-16h0m5 1h0m22 19h0m3-20h0m2 11h0m1 8h0m1-17h0m36 20h0m0-4h0m6-21h0m28 1h0m-20 57h0m-31-14h0m-3 6h0m-30-13h0m-5-6h0m-2-1h0m-2 18h0m-12 1h0m-21 2h0m-16-3h0m-10-5h0m-10-7h0m46 29h0m40 4h0m8 10h0m18-8h0m-27 21h0m-62 4h0" stroke="#686e86" stroke-width="10.0" stroke-linecap="round" fill="none" opacity="0.60"/>
<path d="M404 5359h0m0-3h0m0 11h0m0-11h0m0 3h0m0 10h0m0-27h0m8 17h0m3 1h0m5 5h0m4-6h0m7 10h0m0-6h0m4-1h0m2 1h0m3-5h0m1 10h0m8-5h0m0-1h0m4 3h0m9-1h0m4-12h0m1 6h0m3 1h0m8-2h0m9 4h0m0-3h0m3 2h0m4 0h0m4 4h0m8-3h0m0 2h0m1 6h0m2-3h0m9-5h0m6 6h0m3 0h0m1-4h0m1 5h0m5-2h0m11-2h0m7 2h0m1-6h0m19 2h0m9 0h0m11 0h0m0-5h0m0 8h0m2-7h0m16 3h0m6 0h0m45-10h0m46 37h0m-14 6h0m-7 3h0m-13-1h0m0-4h0m-1 2h0m-4-22h0m-5 27h0m-1-3h0m-5-17h0m-5 15h0m-3 1h0m-1 3h0m-1-13h0m0-2h0m0 7h0m-2-19h0m-1 10h0m-1 9h0m0-2h0m-1 0h0m-2 7h0m-3-1h0m0-1h0m-2-13h0m-1-2h0m-1 18h0m-2-4h0m0-4h0m-1 3h0m-1-4h0m-1-17h0m-1 6h0m-2 22h0m-1-15h0m-3 16h0m-1-1h0m-2-11h0m-1-4h0m-1 2h0m-5 11h0m-2-12h0m-1 13h0m-1-23h0m0 7h0m-1 11h0m-1 6h0m-1-7h0m0-9h0m-2 9h0m0-5h0m-2 2h0m-2-2h0m-8 0h0m-1 0h0m-1 4h0m-1 0h0m0-8h0m-3 17h0m-6-3h0m-4-14h0m0 14h0m0 3h0m-1-3h0m-1 1h0m0-9h0m-1 0h0m-1 3h0m-2 4h0m-1-9h0m-1 0h0m-2-14h0m-1 22h0m-3-12h0m0-3h0m-1 1h0m-2 16h0m-1-26h0m-2 11h0m-2 6h0m-1-14h0m-4-1h0m-2 2h0m-2 24h0m-3-2h0m-1 2h0m0-19h0m-1 19h0m-2-20h0m-1 16h0m0 5h0m-2-26h0m0 11h0m-4-12h0m0 17h0m-3-18h0m-1 17h0m0-8h0m-1 13h0m-1-19h0m0 23h0m-2-7h0m0-3h0m0 4h0m0 2h0m-3-3h0m0-3h0m-1 8h0m-4-9h0m0-5h0m-1 8h0m0 7h0m-2-10h0m-1 0h0m0-7h0m-3 10h0m-2-16h0m-1 19h0m-1-14h0m-4 5h0m0 15h0m-1-7h0m-1-15h0m0 6h0m-1-8h0m-2-3h0m-2 27h0m-1-24h0m0 11h0m-1-12h0m0 3h0m0 4h0m-4 8h0m0 5h0m-1-21h0m0 4h0m-1 20h0m-1-2h0m-1-12h0m0-3h0m-1 9h0m0 0h0m-1-18h0m-4 20h0m-1-14h0m-2 8h0m-2-3h0m-2 2h0m-2 8h0m-1 6h0m-1-16h0m0 18h0m-2-1h0m-2-28h0m-1 1h0m-2 27h0m-1-7h0m0 0h0m-1-19h0m0 26h0m-2-12h0m0 11h0m-5-9h0m-3 6h0m-1-3h0m-1-1h0m0-3h0m-2 7h0m0-18h0m-2 1h0m-1 21h0m-3-16h0m-1 3h0m-1-5h0m-1 6h0m-1 3h0m-1-12h0m-1 14h0m0-19h0m-2 21h0m-1-15h0m-2 20h0m-1-24h0m-4 9h0m0 6h0m-1 0h0m-1 9h0m0-7h0m-2-2h0m0-2h0m0 9h0m-2-25h0m-1 4h0m-1 3h0m-1 19h0m0-9h0m0 7h0m-3-21h0m0 9h0m0 5h0m-3-15h0m0 10h0m0 14h0m0-25h0m0 18h0m0-4h0m0 1h0m0-2h0m0-11h0m0 23h0m0-3h0m0 0h0m0-5h0m0 2h0m0-14h0m0 9h0m0-13h0m0 22h0m0-5h0m0 4h0m0-18h0m0 22h0m0-18h0m0 5h0m0-8h0m0 18h0m0-24h0m0 45h0m0 13h0m0-11h0m0 9h0m0-18h0m0 18h0m0 1h0m0-16h0m0 8h0m0-3h0m0-5h0m0-5h0m0 12h0m0-17h0m0 21h0m0-17h0m0 14h0m0-13h0m0-2h0m0 1h0m0 10h0m0 6h0m0 1h0m0-3h0m0-6h0m0 3h0m0 11h0m0-28h0m0 17h0m0-4h0m0 0h0m0 6h0m0 1h0m0 9h0m0-27h0m0 7h0m0 6h0m1-4h0m0 13h0m2-12h0m0 9h0m0-4h0m1-12h0m1 12h0m0-10h0m2-3h0m1-2h0m0 23h0m2-22h0m1 14h0m0-14h0m0 21h0m1 4h0m1-19h0m1 4h0m0 14h0m0-2h0m1-3h0m1-17h0m0-3h0m1 16h0m4 0h0m0-18h0m1 29h0m2-17h0m0 2h0m1 12h0m0-11h0m1 14h0m1-26h0m0 14h0m2-8h0m0 10h0m1 6h0m1-11h0m1 10h0m0 2h0m3-15h0m0 8h0m2-8h0m2 17h0m3-3h0m1-21h0m1 7h0m0 14h0m2-8h0m0-16h0m1 24h0m1-12h0m2 16h0m1-18h0m2 8h0m1-2h0m1 2h0m2-4h0m2-7h0m4-8h0m1 6h0m0 2h0m1 9h0m1-4h0m1 15h0m1-18h0m1-4h0m1-5h0m0 25h0m1 2h0m0-26h0m1 16h0m0-13h0m0 7h0m2 10h0m1-3h0m0-5h0m1-7h0m2 21h0m1-28h0m2 29h0m1-23h0m0 17h0m0-3h0m6-5h0m1-7h0m2 20h0m1-26h0m0 4h0m1 5h0m1 4h0m0 2h0m0 9h0m1-22h0m2 14h0m2-13h0m1 11h0m0 12h0m1-16h0m1-3h0m4 9h0m4 6h0m0-9h0m1 8h0m1 3h0m4-4h0m1 5h0m1-6h0m0-11h0m1 16h0m3-17h0m0 4h0m2 14h0m0-11h0m1-8h0m0 4h0m2-8h0m2 9h0m0 16h0m1-28h0m1 19h0m0 2h0m0-22h0m4 12h0m0-7h0m0 8h0m0 7h0m1-10h0m3 16h0m1-13h0m1-4h0m0 5h0m3 5h0m0-18h0m1 3h0m0 2h0m7-5h0m1 17h0m2-3h0m1-2h0m0 4h0m1 7h0m2-9h0m4-15h0m2 26h0m0 0h0m1-19h0m1-2h0m1 24h0m0-27h0m1 15h0m1-16h0m1 27h0m0-2h0m1-10h0m4-15h0m2 2h0m0 21h0m0-6h0m8-8h0m1 0h0m5-6h0m0 12h0m0 6h0m0-17h0m0-1h0m3 3h0m2 18h0m0-21h0m3 13h0m9-2h0m2 12h0m0 1h0m0-15h0m2-5h0m0 11h0m3-15h0m1 18h0m1-15h0m2 21h0m3-23h0m1 4h0m1 18h0m7-8h0m2-9h0m2 17h0m1-17h0m1 11h0m1-10h0m0 1h0m1 1h0m4 1h0m0-11h0m6 8h0m1-6h0m4 24h0m1-12h0m1-11h0m1 4h0m0 16h0m1-16h0m2-4h0m0 14h0m1-19h0m0 22h0m4-4h0m0-1h0m1-13h0m5 4h0m0 8h0m0 8h0m1-10h0m0-1h0m0-10h0m2 12h0m2-6h0m2 16h0m1-22h0m3 12h0m1-6h0m3 9h0m1 0h0m2-11h0m0 10h0m1-17h0m1-1h0m1 19h0m0-1h0m6-16h0m1-2h0m0 16h0m3-9h0m0 22h0m1-9h0m8-6h0m0 14h0m6-15h0m6 3h0m5 0h0m10 8h0m17 28h0m-5 3h0m-1-2h0m-9 6h0m0-17h0m-1 15h0m-2-9h0m-2 4h0m-1-8h0m-1 12h0m-4-3h0m0-2h0m-1 1h0m-4-4h0m0-4h0m-2-9h0m0 17h0m0-9h0m-3 7h0m-2-14h0m0 10h0m-1-5h0m-3-9h0m-1 8h0m-1-2h0m0 0h0m-1 12h0m-1-1h0m-1-8h0m0 1h0m-1 6h0m-3-14h0m-2 6h0m-1 18h0m-2-19h0m-2 2h0m0-7h0m-1 18h0m0-1h0m-2 0h0m-1-1h0m-1-20h0m-1 14h0m-1 15h0m0-10h0m0-19h0m-1 27h0m-1 2h0m-3-21h0m-2-6h0m-1 16h0m0-17h0m-1-1h0m-2 1h0m-3 17h0m0-16h0m-2 23h0m-1-10h0m-1-1h0m-2 5h0m0 8h0m-2-18h0m-1-9h0m0 18h0m0-11h0m-2 0h0m-2 9h0m0 13h0m-1-29h0m-1 0h0m0 9h0m-2 12h0m-1-12h0m0 8h0m-3-14h0m0 22h0m-1-15h0m-1-2h0m-2-7h0m0 27h0m0-24h0m-1 22h0m-3-15h0m-3 8h0m-3-4h0m-1-12h0m0 26h0m0-8h0m-3 5h0m0-22h0m0 23h0m0-1h0m-2-14h0m0 13h0m-2-23h0m-5 14h0m0 2h0m0-9h0m-1 13h0m0 0h0m-1-17h0m0 1h0m-2 10h0m0-3h0m-1-2h0m-1-9h0m-1 9h0m-1 6h0m-3 4h0m-2-5h0m-1-8h0m-1 16h0m-2-13h0m0-1h0m-2-1h0m-1-6h0m0-2h0m-1 6h0m0 18h0m-2 0h0m-1 0h0m0-7h0m-2 9h0m0-25h0m-1 0h0m-2 15h0m-2 7h0m0-17h0m-3 4h0m-1 16h0m0-10h0m0 3h0m-1-6h0m-1 2h0m0-12h0m-2 5h0m0 12h0m0-17h0m-2 1h0m-3 24h0m-1-1h0m0-4h0m0-12h0m-1 8h0m0-6h0m-1-11h0m-4 1h0m-1 16h0m0-14h0m0-3h0m-1 21h0m0-12h0m0 8h0m-1-2h0m-1 4h0m-2-18h0m-1 20h0m-2-4h0m-2 8h0m-2-27h0m0 18h0m-2-19h0m0 23h0m-4-22h0m-1 3h0m-1 8h0m-1-1h0m-2 5h0m0-12h0m-2 13h0m0-16h0m-1 22h0m0-17h0m0-1h0m-3 2h0m0 0h0m0 2h0m-1 7h0m0 0h0m-2-13h0m-3 3h0m-3-5h0m-3 20h0m-2-4h0m0 6h0m-1-19h0m-1 7h0m0-8h0m0 4h0m0 15h0m-1 5h0m-1-5h0m-3-4h0m-2-18h0m-1 18h0m-2 2h0m0-5h0m-1 9h0m-1 4h0m-1-26h0m-1 13h0m-2 2h0m-1 2h0m0 1h0m-2 1h0m-1-16h0m-1 1h0m-1-1h0m0 5h0m0-6h0m0-1h0m-1 1h0m0 11h0m-1 10h0m-4-22h0m-1 5h0m-1 15h0m0-2h0m-2-14h0m0 9h0m-1-12h0m-2 9h0m0 7h0m-1-12h0m-1 14h0m-1-2h0m0 6h0m-1-12h0m0-1h0m-2 7h0m0 8h0m0-15h0m-1 6h0m-1-13h0m-1 14h0m-1-5h0m-1 10h0m0 4h0m-2-18h0m-3-4h0m-3 10h0m-2-16h0m0 21h0m-1-4h0m-3 5h0m-1-18h0m-2 0h0m-1 3h0m-1 11h0m-3 6h0m-1-5h0m-2 1h0m0-8h0m-1 13h0m-2-19h0m0 7h0m0-5h0m-3-6h0m-2 15h0m0-5h0m-4-8h0m-1 14h0m0-2h0m-4 4h0m0-1h0m-1-2h0m-1 7h0m-4 0h0m-1-5h0m-3 6h0m0 3h0m0-9h0m-1 1h0m0-17h0m0 1h0m-1-2h0m0-3h0m-4 17h0m-2 11h0m0-5h0m0-1h0m-2-22h0m-1 0h0m-1 5h0m0 6h0m-4-1h0m-2-9h0m-3 2h0m-1 0h0m0 0h0m0 1h0m-1 23h0m0-26h0m0 14h0m-3-15h0m0 12h0m0 7h0m-5 0h0m0 9h0m-1-9h0m-2-1h0m0-11h0m0 19h0m0-26h0m0 15h0m0-11h0m0 6h0m0-5h0m0 8h0m0-13h0m0 18h0m0 2h0m0-20h0m0 7h0m0 16h0m0 6h0m0-1h0m0-12h0m0-8h0m0 7h0m0-7h0m0 2h0m0-7h0m0 21h0m0-21h0m0 26h0m0-24h0m0 13h0m0-4h0m0-5h0m0-4h0m0-5h0m0 6h0m0 5h0m0-7h0m0 4h0m0-7h0m0 5h0m0 12h0m0 6h0m0-17h0m0 13h0m0 3h0m0 30h0m0-15h0m0 13h0m0-16h0m0-3h0m0 23h0m0-7h0m0-8h0m0 16h0m0-24h0m0 10h0m0 3h0m0-5h0m0 5h0m0-9h0m0 11h0m0 1h0m0-6h0m0 5h0m0 12h0m0-3h0m0-13h0m0 5h0m0-10h0m0 11h0m0 0h0m0-10h0m0 17h0m0-22h0m0 20h0m0-22h0m0 13h0m0 5h0m0 3h0m1-9h0m1 2h0m0-13h0m1 6h0m1-4h0m2 4h0m0 1h0m0 17h0m0-17h0m2 4h0m0 14h0m1-2h0m1-12h0m1-6h0m1 12h0m0 3h0m1-1h0m0-12h0m2-7h0m0 22h0m1-20h0m2 2h0m1 3h0m1 17h0m1-12h0m2-1h0m0-14h0m0 22h0m1-19h0m0 3h0m1 3h0m1 3h0m3-7h0m1 24h0m0-16h0m1 12h0m1-17h0m0 7h0m2 14h0m3-5h0m0 0h0m1-22h0m1 7h0m1-6h0m0 22h0m4 2h0m2-12h0m1-11h0m0 7h0m1 1h0m1 11h0m1-8h0m1 12h0m0-3h0m0-3h0m0-12h0m3 0h0m0 16h0m1-2h0m0-19h0m4 17h0m1-14h0m1-1h0m1 3h0m0 10h0m2-17h0m4-2h0m1 0h0m2 7h0m2 10h0m1-10h0m0 21h0m2-18h0m3-7h0m2 12h0m1 8h0m3-19h0m3 24h0m2-2h0m2-6h0m0-3h0m1 12h0m1-24h0m1 9h0m0-5h0m0-1h0m2-3h0m0 20h0m0-24h0m3 21h0m2 3h0m1-25h0m0 13h0m1 9h0m0-10h0m2 17h0m2-20h0m0-2h0m1 11h0m2 0h0m0 9h0m2-13h0m0 7h0m2-8h0m0-6h0m1 10h0m0-10h0m1 14h0m3-13h0m1 3h0m1 0h0m1 16h0m2-21h0m1 19h0m1 1h0m1-13h0m1-7h0m1 8h0m0-11h0m4 22h0m1-24h0m1 17h0m1 9h0m0-6h0m0-3h0m1 1h0m0-19h0m2 18h0m0 4h0m2-16h0m0 17h0m0 3h0m0-11h0m3-14h0m2-1h0m1 11h0m1-1h0m4 6h0m0 13h0m1-17h0m0-9h0m1 5h0m1 14h0m0-15h0m0 15h0m0-15h0m1 3h0m5-7h0m1 8h0m0-1h0m0 15h0m0-11h0m3 7h0m1-8h0m1 12h0m1-6h0m0-8h0m1-2h0m0 15h0m4-11h0m0 12h0m0-15h0m1-5h0m3 4h0m2 6h0m1-5h0m1 9h0m0 2h0m0-2h0m1-1h0m2-5h0m1 7h0m2 3h0m0 3h0m0 1h0m2-6h0m2-19h0m3-2h0m0 5h0m0 6h0m2 10h0m1-1h0m1-3h0m2 10h0m0-23h0m2 18h0m1-2h0m1-1h0m2-19h0m3 16h0m2 10h0m1-9h0m0-7h0m0 0h0m2 9h0m0-2h0m1-16h0m1 2h0m2 18h0m3 4h0m3-3h0m0-12h0m0 16h0m1-11h0m2 11h0m0-14h0m0-5h0m0 10h0m0 7h0m2-9h0m2 6h0m2 6h0m1-20h0m8 8h0m4 1h0m0-3h0m1-9h0m2 5h0m1 12h0m1 0h0m2-14h0m1-5h0m1 4h0m2 0h0m0 8h0m0-7h0m2-1h0m2 9h0m0-4h0m2 18h0m0-23h0m0 14h0m1-4h0m1-3h0m0-12h0m1 23h0m2-15h0m0 8h0m0-16h0m2 4h0m0 0h0m0-3h0m1 9h0m1-6h0m1 19h0m1-9h0m0-6h0m2 18h0m0-25h0m2 3h0m2-1h0m0 5h0m1 16h0m1-17h0m2-4h0m1-3h0m0 1h0m0 0h0m0 7h0m2 6h0m0 11h0m1-6h0m0-11h0m1 19h0m1-27h0m4 23h0m0 0h0m1-1h0m2-14h0m1 16h0m2-13h0m2-1h0m1-9h0m1 20h0m1-21h0m1 24h0m1-19h0m0 18h0m2-9h0m3-4h0m1 1h0m2 8h0m1-5h0m0-10h0m1 8h0m1-12h0m1 3h0m0 4h0m0-4h0m1 16h0m0-8h0m2 1h0m1 5h0m2-17h0m0-1h0m0 2h0m2 21h0m1-10h0m2-7h0m2-1h0m1 6h0m0 5h0m2 6h0m0-13h0m3 6h0m0 8h0m0 5h0m5-27h0m0 11h0m0 11h0m3-17h0m1 5h0m0-1h0m1 8h0m4 0h0m5 17h0m-2-5h0m-1 21h0m-5-1h0m-1-15h0m0 14h0m-3 7h0m-2-18h0m0 7h0m-1-7h0m-2 0h0m0 21h0m0-25h0m-2 7h0m-1 1h0m-3 1h0m-1-12h0m-1 10h0m-3-11h0m-2 3h0m-1-2h0m0 10h0m0 13h0m-2-3h0m-2-4h0m0-1h0m-2-6h0m-2 3h0m-1 1h0m-1 7h0m-1-8h0m-5 16h0m0 0h0m0-18h0m-2 5h0m0 3h0m-2-5h0m-2-10h0m-2 13h0m0-17h0m-4 16h0m-2-14h0m-3 23h0m-4-22h0m-1 8h0m-1 5h0m0 0h0m-1-3h0m-1-12h0m-1 19h0m-1 0h0m-1 1h0m0-20h0m-2 15h0m0-4h0m-2-12h0m-1 13h0m0-6h0m-2-1h0m0 3h0m-1 3h0m-1 3h0m0 6h0m0-20h0m-1-1h0m0 26h0m0-19h0m-1 15h0m0 0h0m-1 5h0m0-4h0m0-10h0m-1-13h0m-1 1h0m-1 23h0m-1-1h0m0-3h0m0-8h0m-2 6h0m0 4h0m-2-17h0m-4 14h0m-1-6h0m0 10h0m0-21h0m-1 0h0m-1 12h0m0-7h0m-1 14h0m0-9h0m-1 9h0m-1-18h0m0 7h0m-1 2h0m-2-12h0m-1 3h0m-3 9h0m-1-11h0m0 15h0m0-14h0m-2 24h0m-1-14h0m0-12h0m0 4h0m-2 10h0m-2 0h0m-1-1h0m0 14h0m-1-16h0m-1-4h0m-1 18h0m0-21h0m-1 19h0m-1-6h0m-4-14h0m-1 3h0m0 22h0m0-7h0m-1-6h0m-2-2h0m-10 1h0m-1 7h0m0 4h0m-1-2h0m0-21h0m-1 25h0m-2-23h0m0 8h0m0-1h0m-2-1h0m0 2h0m0 7h0m-1-14h0m-1-4h0m0 25h0m-1-4h0m0-20h0m-1 13h0m0-6h0m-1 9h0m-1-18h0m0 22h0m-1-10h0m-1-11h0m-1 18h0m-1-11h0m0 8h0m0-3h0m-1-4h0m0-4h0m-1 15h0m-1-20h0m-1 24h0m-4-24h0m-2 0h0m-1 11h0m0 0h0m0-7h0m-2 9h0m-3 10h0m-1-6h0m-1 5h0m0-14h0m0 5h0m-1-13h0m-1 22h0m-1 0h0m-2-10h0m-1 7h0m0-6h0m-1 13h0m-1-13h0m-1-5h0m-1 13h0m0-12h0m-1 10h0m-2-8h0m-1-7h0m0 18h0m-1-16h0m-1 10h0m-1-2h0m-3-11h0m-1 4h0m-3 1h0m-2-5h0m-2 3h0m0 21h0m-2-25h0m0 7h0m-1 8h0m-2-15h0m0 27h0m-1-20h0m-1 6h0m-1-7h0m-2-3h0m-5-4h0m0 28h0m0-8h0m-1-7h0m0-7h0m-2 1h0m-1 19h0m-2-10h0m-3 2h0m0-13h0m-2 5h0m-1 0h0m0-9h0m-1 21h0m0-5h0m-1-5h0m0 14h0m-2-12h0m0-3h0m-1 4h0m0 6h0m0-19h0m-1 26h0m-2-14h0m0-3h0m-1 11h0m-1-14h0m-1 1h0m0-8h0m-4 19h0m0 1h0m-2-3h0m-1 7h0m-2-21h0m-2 3h0m-1 10h0m-1-12h0m-2 20h0m-1-12h0m0 0h0m-1-10h0m-1 17h0m-1 6h0m-1-17h0m0 9h0m-2-5h0m0 5h0m-1-7h0m-3 0h0m-1 6h0m0-17h0m-1 0h0m-1 15h0m0-15h0m-2 13h0m-1-3h0m0-7h0m-1-3h0m-1 0h0m-1 12h0m-1-5h0m-3 10h0m-1 11h0m-1-4h0m0-17h0m-1 7h0m-2-12h0m0 23h0m-1-25h0m0-1h0m-6 25h0m-1-9h0m-3-8h0m0 3h0m0 8h0m-1 3h0m-3 2h0m-1 5h0m-2-20h0m-3-3h0m-1 18h0m0-13h0m-2-10h0m0 9h0m-1-4h0m-1 10h0m0-13h0m-4 18h0m0 4h0m-1-3h0m-1-19h0m-1 6h0m0 14h0m-1-18h0m0 19h0m-1-3h0m-3-5h0m-6-3h0m0 16h0m-1-15h0m-3-3h0m0 17h0m0-14h0m-1-3h0m-1-3h0m-2-3h0m-1 14h0m-1-11h0m-3 13h0m-1 3h0m-1-18h0m-1-4h0m0 25h0m-1-11h0m-1-1h0m-1-11h0m0 6h0m-2 14h0m-1-8h0m0-11h0m-1 10h0m-2-9h0m0-1h0m0 9h0m0-1h0m0 3h0m0-6h0m0 5h0m0 0h0m0-1h0m0 14h0m0-20h0m0 9h0m0 4h0m0 8h0m0-28h0m0 24h0m0 3h0m0-17h0m0-10h0m0 21h0m0-9h0m0-13h0m0 23h0m0 2h0m0-15h0m0-2h0m0 4h0m0 7h0m0-12h0m0 16h0m0-15h0m0-7h0m0 13h0m0-12h0m0 6h0m0 21h0m0-6h0m0 5h0m0-12h0m0 9h0m0 29h0m0 3h0m0-2h0m0-5h0m0 5h0m0-2h0m0-8h0m0-4h0m0 6h0m0 6h0m0-9h0m0 12h0m0-22h0m0 17h0m0 2h0m0-16h0m0-5h0m0 12h0m0-4h0m0-6h0m0 3h0m0 16h0m0-21h0m0 18h0m0-6h0m0 11h0m0-23h0m0 25h0m1-6h0m2-2h0m3-4h0m0 1h0m0-16h0m2 26h0m1 2h0m1-15h0m0-13h0m1 14h0m2 2h0m0-15h0m0 13h0m1-10h0m1 7h0m1 0h0m1 5h0m3 8h0m0-1h0m0-19h0m1 13h0m0 6h0m4-20h0m0 10h0m1 13h0m0-25h0m3 18h0m1-2h0m0-15h0m1 0h0m2 5h0m2-3h0m0 8h0m0 4h0m0-13h0m1 10h0m1 1h0m2-11h0m2 5h0m2 4h0m1-7h0m0 20h0m1 0h0m0-16h0m0-2h0m0 17h0m0 2h0m5-15h0m2 8h0m0-1h0m3-5h0m1 16h0m1-23h0m0 14h0m2-10h0m1-6h0m0 11h0m1-7h0m0-2h0m2 16h0m0-12h0m1 9h0m2-11h0m2-5h0m2 9h0m1-9h0m0 15h0m5-1h0m2-16h0m2 3h0m0 1h0m1 5h0m1 4h0m1 11h0m0-21h0m0 23h0m0-16h0m3 6h0m1-3h0m1-3h0m0 13h0m2-24h0m0 17h0m2-5h0m2 0h0m1 3h0m0-15h0m2 2h0m1 27h0m1-6h0m1 2h0m2-24h0m2 14h0m0-12h0m0 6h0m6-4h0m1 14h0m2-19h0m0 12h0m0 14h0m1-8h0m0 4h0m1-4h0m2-8h0m1-10h0m1 9h0m0 15h0m2 4h0m1-27h0m0 1h0m2 15h0m5-6h0m0-7h0m3 15h0m5-9h0m0 10h0m2 3h0m0-12h0m1-11h0m0 8h0m1 12h0m1-3h0m0 4h0m1-21h0m0 19h0m1-6h0m2 11h0m2 5h0m0-22h0m2 17h0m1 4h0m0-7h0m1-3h0m0 0h0m1-9h0m3 3h0m1-5h0m0 12h0m1 8h0m1-21h0m2 20h0m2-6h0m1 6h0m0-19h0m3-5h0m2 25h0m1-4h0m1-19h0m1 14h0m0-18h0m1 7h0m0 10h0m0-12h0m1 24h0m0-5h0m0-23h0m2 12h0m0 1h0m0-6h0m1 20h0m1-21h0m1 22h0m1-7h0m1-13h0m1 8h0m0-4h0m2 11h0m2-22h0m0 17h0m1 1h0m1-6h0m1-10h0m0 3h0m0-6h0m1 5h0m0 5h0m2 9h0m2 2h0m5-21h0m0 1h0m0 25h0m1-15h0m1-9h0m1 12h0m4 7h0m0-15h0m1 1h0m1 11h0m2-4h0m0 13h0m0-21h0m1-2h0m1 3h0m0 13h0m3-3h0m0-1h0m0 7h0m1-13h0m0 2h0m1 16h0m1 0h0m0-23h0m0 21h0m0-26h0m2 15h0m0-16h0m1 13h0m1 13h0m3-21h0m2 22h0m0-7h0m3-3h0m0 8h0m0-24h0m2 15h0m1 1h0m0 9h0m1-23h0m1 26h0m1-24h0m0 9h0m1 8h0m0-15h0m0 2h0m0 3h0m2-11h0m2 10h0m1 13h0m1-20h0m0 9h0m3-13h0m2 21h0m1-7h0m1-5h0m1 17h0m1 1h0m1-27h0m0 10h0m1 0h0m2 0h0m0-3h0m0 16h0m0 0h0m2-3h0m0-8h0m0-9h0m0 18h0m1-18h0m2 3h0m0 22h0m2-13h0m0 6h0m1-19h0m0 22h0m1 2h0m3-4h0m3-13h0m0 12h0m1-13h0m2-4h0m0 21h0m2-5h0m0-15h0m3 6h0m1-3h0m1 9h0m1-9h0m1 15h0m1 4h0m1 1h0m3-22h0m1 3h0m0 6h0m0 12h0m1-2h0m0-3h0m1 2h0m1-9h0m0 12h0m2-26h0m0 12h0m1 4h0m2 6h0m1 4h0m1-25h0m1 18h0m1-3h0m0 8h0m1 3h0m1-8h0m1-1h0m0-1h0m1-15h0m3 0h0m1 0h0m2 4h0m1-6h0m1 25h0m0-14h0m1-1h0m1 0h0m0-7h0m0 18h0m1 0h0m0-1h0m3 2h0m1 3h0m0-11h0m1-12h0m1 20h0m0-1h0m2 1h0m3-8h0m1-6h0m1 5h0m0 12h0m2-9h0m1-7h0m1 15h0m0-22h0m0 3h0m6-1h0m1 0h0m0 22h0m1-12h0m1-4h0m1-8h0m1 6h0m3 1h0m7 8h0m1 4h0m-6 8h0m-4 6h0m0 4h0m0 6h0m-13-11h0m-2 7h0m0 13h0m-1 0h0m-1-18h0m0 13h0m-1-13h0m0 3h0m-4 13h0m-1-7h0m-1-15h0m-8 13h0m-2-12h0m-2 20h0m0-2h0m-4 7h0m-2-19h0m-1 20h0m-1 1h0m0-29h0m-1 5h0m0 9h0m0 4h0m-1-3h0m-1 1h0m-1 10h0m-1-23h0m0 9h0m-1-8h0m-3 25h0m-1 0h0m0-23h0m-1 23h0m0-26h0m-2 20h0m-3-2h0m0-10h0m-1-7h0m-1 24h0m-1-24h0m-1 8h0m-1 9h0m0 5h0m-3-10h0m0 4h0m-2-12h0m-1 14h0m-3-11h0m0-3h0m-1-5h0m0 11h0m-1 2h0m0 12h0m-1-12h0m-1 1h0m-1 0h0m-2 7h0m0-16h0m0 17h0m0-10h0m-3-1h0m0 1h0m-5-3h0m0 16h0m-2-10h0m0-7h0m-2 7h0m-1-1h0m-1-11h0m-1 13h0m-1 3h0m-1-18h0m-1 24h0m-2-8h0m-2-2h0m0 9h0m-2-20h0m-1 22h0m0-18h0m-1-11h0m0 28h0m0-23h0m-1 5h0m-1 10h0m-1-7h0m-2 14h0m-2-20h0m-2 1h0m-6 13h0m-2-16h0m0 18h0m-1-1h0m-1-3h0m-1-14h0m-7 4h0m0-4h0m-1 18h0m-1-1h0m-2-13h0m-2-3h0m-5 1h0m-1 22h0m-2-20h0m-3 11h0m0-8h0m0-6h0m-4-2h0m-1 12h0m-1 5h0m-2 6h0m-1-16h0m-1-6h0m-2 10h0m-1-5h0m0 5h0m-2-11h0m-2 6h0m-1 19h0m0-16h0m-1-7h0m-5 22h0m-1-28h0m-2 20h0m0-9h0m-1 1h0m0-7h0m-2 9h0m-1-8h0m0 13h0m0 5h0m-3-14h0m0-3h0m-7 11h0m-1-13h0m0 0h0m-1 10h0m-1-14h0m0 28h0m-4-4h0m-2-14h0m0 18h0m-2-24h0m-1 23h0m0-20h0m-1-3h0m-3 16h0m0-12h0m0 5h0m-4 10h0m0 3h0m-2-23h0m0 1h0m-1 3h0m0 12h0m-1-3h0m0 3h0m-2-5h0m0 1h0m-1-7h0m0 15h0m0-11h0m-2 12h0m-1 2h0m-5-9h0m-1-11h0m-1 22h0m-1-16h0m-2-12h0m0 18h0m0 5h0m0 5h0m0-2h0m-2-25h0m0 22h0m-1-13h0m0 12h0m-1-20h0m-1 11h0m-1 12h0m-2-20h0m-1 8h0m-2-6h0m0 10h0m-3 9h0m-1-26h0m-1 0h0m-2 4h0m0 19h0m-2-4h0m-1-19h0m-1 3h0m-1 5h0m-1 4h0m-1-4h0m0 8h0m0-3h0m-1-2h0m-1 2h0m-1-7h0m-1 11h0m-1 4h0m0-21h0m0 8h0m0 3h0m-2-12h0m-2 1h0m-5 19h0m-1-5h0m-3-1h0m0 2h0m-3 5h0m-1 8h0m-3-14h0m-1 1h0m0 9h0m-1-14h0m-1 18h0m0-24h0m-1 0h0m-1 22h0m-1-2h0m-1-22h0m-1 20h0m-1-17h0m-1 20h0m0-12h0m-3-6h0m-2 21h0m0-25h0m-3 3h0m-2 12h0m0-10h0m-3-9h0m-1 28h0m-2-2h0m-1-18h0m-3 11h0m-1 2h0m-1-4h0m-1 10h0m-3-12h0m-2-15h0m-1 18h0m0 10h0m0-10h0m0-3h0m-1 6h0m0 2h0m-5-4h0m0-13h0m-2-2h0m0 16h0m0 2h0m-1-1h0m0-3h0m0-3h0m-2 4h0m0 10h0m0-11h0m-1-16h0m-3-2h0m-2 18h0m0-7h0m-1 3h0m0-2h0m-1-2h0m-1 12h0m-1 7h0m-1-3h0m-1-6h0m-1 2h0m0-10h0m0 6h0m0-5h0m0 1h0m0-6h0m0-3h0m0-4h0m0 22h0m0-12h0m0-1h0m0-3h0m0 15h0m0-10h0m0 4h0m0-11h0m0 5h0m0 7h0m0 5h0m0-20h0m0 24h0m0 0h0m0-11h0m0 5h0m0 8h0m0-26h0m0 24h0m0-21h0m0-2h0m0 3h0m0 5h0m0 43h0m0 5h0m0-16h0m0 15h0m0 0h0m0-6h0m0 3h0m0-5h0m0-15h0m0 6h0m0-7h0m0 14h0m0-11h0m0 19h0m0 2h0m0-27h0m0 21h0m0-15h0m0-6h0m0 28h0m0-6h0m0-18h0m0 22h0m0-1h0m0-16h0m0 14h0m0-20h0m1 3h0m0 18h0m1 1h0m2-6h0m1-2h0m1 0h0m1-4h0m0-3h0m1 0h0m0 6h0m0 11h0m1-24h0m2 1h0m1 12h0m3 7h0m1-23h0m1 14h0m3-15h0m2 0h0m1 3h0m2 26h0m0-16h0m0 5h0m0-6h0m0 3h0m1-3h0m5 4h0m0 10h0m0-4h0m1-3h0m0-17h0m1 20h0m1-2h0m0-6h0m1-14h0m1 11h0m0 0h0m0-9h0m1 23h0m1-16h0m0-3h0m2 16h0m2-18h0m1 7h0m2 5h0m0 9h0m2 3h0m1-8h0m0 7h0m2-1h0m0-12h0m1 0h0m1 5h0m0 4h0m0 6h0m2-1h0m0-17h0m1-4h0m0 21h0m0 1h0m0-29h0m1 28h0m1-5h0m2-8h0m0 0h0m1-7h0m0-7h0m1 4h0m3 12h0m1 11h0m1-5h0m2-20h0m4-1h0m0-2h0m1 18h0m1-13h0m4 20h0m2-3h0m1-18h0m1 3h0m1 6h0m1-12h0m0 28h0m1-17h0m0-12h0m1 17h0m0 3h0m0-15h0m1-2h0m0 8h0m1 7h0m1-1h0m4-11h0m3 4h0m1-7h0m1 8h0m0-3h0m3 19h0m2-16h0m1 11h0m1 5h0m0-2h0m1-14h0m1 11h0m3 6h0m0 0h0m1-28h0m0 11h0m1 4h0m1-3h0m0 10h0m1-15h0m1-2h0m1 12h0m0-15h0m0 25h0m1-26h0m0 14h0m1-3h0m1 13h0m0-13h0m0-5h0m6 20h0m2-11h0m0 9h0m2-12h0m2-6h0m2 14h0m3 5h0m1-14h0m1-4h0m3 2h0m0 15h0m1-16h0m2 4h0m0 2h0m1-9h0m0 17h0m1-2h0m0-12h0m2 8h0m1-5h0m1 12h0m1-4h0m3-14h0m0 1h0m1 6h0m0 11h0m1-5h0m2 0h0m1-12h0m0 0h0m0 0h0m1 5h0m0 2h0m2 7h0m1-15h0m3 2h0m0 14h0m0 6h0m0-14h0m0-2h0m1 12h0m1 0h0m0-20h0m3 21h0m0-14h0m2 4h0m1 3h0m1 3h0m1-7h0m0 5h0m0-3h0m1 12h0m3-12h0m1 6h0m0-3h0m1-14h0m0 19h0m1-13h0m1 17h0m2 0h0m3-27h0m1 14h0m0-11h0m1 5h0m1 16h0m0 2h0m3 0h0m0 0h0m0-14h0m0-3h0m1-4h0m1 7h0m1 4h0m0-4h0m1-1h0m2-10h0m0 0h0m2 27h0m1-15h0m0-11h0m1 6h0m1 8h0m1 0h0m1 9h0m0 0h0m1 2h0m0-15h0m0-11h0m1 19h0m1 2h0m0-10h0m1 6h0m0-3h0m1 13h0m0-26h0m1 24h0m1-4h0m0-22h0m3 9h0m1-6h0m0 4h0m0 19h0m1 2h0m0-29h0m4 21h0m0-20h0m1 11h0m1-8h0m0 14h0m3-9h0m1 13h0m1-17h0m4-5h0m0 17h0m1-6h0m0 16h0m2-24h0m2 10h0m0 0h0m0-5h0m1-6h0m0 6h0m2 21h0m1-26h0m0 21h0m0 3h0m1 1h0m0-20h0m0 13h0m1-18h0m0 14h0m0 0h0m1 11h0m3-23h0m1-2h0m2-1h0m1 22h0m1-22h0m3 3h0m0 7h0m1-3h0m2 7h0m0 6h0m1 3h0m1-10h0m2-15h0m0 26h0m0-14h0m0 16h0m2-11h0m1-3h0m0-10h0m0 5h0m1 14h0m1-1h0m0 2h0m3-12h0m2 16h0m1-18h0m0-8h0m0 25h0m3 2h0m0-18h0m2-6h0m1 1h0m0-5h0m0-1h0m2 12h0m0 2h0m1-7h0m2 19h0m0-9h0m2-3h0m0 9h0m2-1h0m0 7h0m0-23h0m3 14h0m0-7h0m2 10h0m1-3h0m1 3h0m0-9h0m1-9h0m0 4h0m0-1h0m0 7h0m1-11h0m0 2h0m1 6h0m0 2h0m2-6h0m3 10h0m1-5h0m1-5h0m1 17h0m0-11h0m6-2h0m0 5h0m0 5h0m1-20h0m0 24h0m1-14h0m1-11h0m2 7h0m6 3h0m3-10h0m-12 43h0m-7-6h0m0-6h0m-2-2h0m-2 11h0m-4 6h0m0-2h0m0 13h0m-3-21h0m-2 17h0m-5-5h0m-4 6h0m-7-1h0m0-14h0m-4 5h0m0 12h0m0-7h0m-2 4h0m0-18h0m-2 18h0m-1-3h0m-1 2h0m-2-5h0m-2 5h0m0-21h0m-1 14h0m0-5h0m-1 11h0m-1 6h0m0-22h0m-1-4h0m-1 26h0m0-27h0m0 3h0m-1-3h0m-1 18h0m-1-4h0m-1 4h0m-1-4h0m-2-1h0m0 13h0m0-16h0m-2 6h0m0-7h0m0-1h0m-1 7h0m-1 9h0m0-16h0m0-5h0m-2 1h0m-1-1h0m0 17h0m0-19h0m-1-2h0m-1 22h0m-3-17h0m0 15h0m-3-11h0m0 10h0m-1 10h0m0 0h0m0-21h0m-1-7h0m-1 13h0m-5 4h0m0-10h0m-1 13h0m0 1h0m0 6h0m-5-5h0m-1 3h0m-1-23h0m0 2h0m-2-5h0m-2 6h0m-4 12h0m0-3h0m0 7h0m-1 4h0m-2-23h0m-2 25h0m-4-21h0m-1 19h0m-1 3h0m-1-11h0m0-2h0m0 1h0m-2-7h0m0 4h0m-1 10h0m0-24h0m-4 0h0m-3 5h0m-1 10h0m-1 12h0m-1-24h0m0 0h0m-1 16h0m-2 10h0m-1-10h0m-3-10h0m0-5h0m-1 14h0m-1-4h0m-1 10h0m0-9h0m0-15h0m-1 25h0m0-9h0m-1 12h0m0-20h0m0-1h0m-1 20h0m0-2h0m-2-18h0m-1 18h0m0-18h0m-1 17h0m-1-11h0m0 5h0m-3-10h0m-2 13h0m0-19h0m-1 26h0m0-3h0m-2-12h0m0 16h0m-2-29h0m0 21h0m-2 4h0m-1-20h0m-1 11h0m-1 7h0m0 3h0m0 0h0m-1-16h0m-1 17h0m-2-2h0m0-9h0m-1-11h0m0 4h0m-1 19h0m-1-10h0m-2 6h0m0-6h0m0-7h0m-1-1h0m0 13h0m0-4h0m0 5h0m-2-18h0m-1 11h0m0 5h0m-3-2h0m-2 7h0m-1 2h0m-1-18h0m-1 14h0m-1-11h0m-1 14h0m-1-8h0m0 2h0m0-1h0m-1-16h0m-2 8h0m0-6h0m-3 5h0m-4 11h0m-2-20h0m-1 10h0m0 3h0m-3 2h0m-1 4h0m0-7h0m-2-6h0m-1 3h0m-1 8h0m-1-15h0m-1-3h0m-1 17h0m-1-9h0m0-1h0m-1-2h0m0 13h0m0-7h0m-1-6h0m-2 5h0m-1 14h0m-2-24h0m-1 6h0m0 1h0m-2 3h0m-1 10h0m-3-6h0m0 4h0m0-1h0m-1-7h0m0 5h0m-1-8h0m-1-9h0m0 7h0m-2-3h0m-1 7h0m-1-11h0m-1 1h0m-1 18h0m0 3h0m-4 3h0m-1-23h0m-2 20h0m0 6h0m-2-24h0m0 24h0m-1-12h0m0-2h0m-2 3h0m0-8h0m-1 0h0m-1-6h0m-2 19h0m0 1h0m-2 5h0m-1-28h0m0 16h0m0-4h0m0 3h0m-1 7h0m0-13h0m-1-2h0m-1 15h0m-3-6h0m0-1h0m-4 9h0m0-6h0m-1 6h0m0-14h0m0 5h0m-1 6h0m0-14h0m-1 15h0m-2-12h0m0 4h0m-1-10h0m-1 2h0m0 13h0m-1 7h0m0 1h0m-1-12h0m0-13h0m0 15h0m-1-16h0m-2 21h0m-1-16h0m0-6h0m-1 9h0m-1-5h0m-1-2h0m-2 14h0m-2-1h0m-1 5h0m0-17h0m-2 14h0m-1-3h0m-1-1h0m-1 11h0m-4-19h0m-1 3h0m-3 20h0m0-21h0m-1-1h0m-1 6h0m0 14h0m-1 3h0m-1-3h0m-1-26h0m0 24h0m0-21h0m0 21h0m-1-18h0m-2 17h0m0-6h0m-1-16h0m0 15h0m-1-9h0m-4 8h0m-1-6h0m-2 13h0m-2 3h0m-3-23h0m0 10h0m-1-2h0m0 16h0m0-7h0m0 7h0m0 0h0m0-5h0m0-17h0m0 15h0m0-15h0m0 3h0m0 11h0m0 4h0m0 3h0m0-2h0m0-10h0m0 10h0m0-16h0m0-3h0m0 14h0m0-13h0m0 22h0m0-4h0m0 0h0m0-21h0m0 12h0m0-5h0m0 3h0m0-6h0m0 17h0m0 0h0m0 4h0m0-14h0m0 42h0m0 3h0m0-28h0m0 14h0m0-8h0m0 17h0m0-8h0m0-9h0m0-5h0m0 22h0m0 5h0m0 0h0m0-25h0m0 22h0m0-9h0m0 13h0m0-14h0m0 1h0m0 8h0m0-14h0m0-5h0m0 10h0m0 9h0m0-15h0m0-2h0m0 21h0m0-26h0m0 13h0m0 11h0m0 3h0m0-2h0m1-22h0m1-4h0m0 13h0m1 11h0m1 3h0m1 1h0m1-5h0m3-16h0m2 6h0m4-2h0m1 3h0m5-7h0m0 1h0m0 8h0m0-12h0m2 3h0m0 5h0m1 11h0m2 3h0m0-13h0m3-9h0m5-3h0m0 12h0m0 3h0m2-1h0m1 6h0m0-19h0m1 17h0m0-15h0m0 17h0m1-6h0m0 8h0m1 4h0m0-16h0m2-1h0m1 11h0m1-16h0m2 21h0m1-9h0m0 7h0m1-21h0m0-2h0m1 11h0m0-6h0m1-1h0m2 3h0m0-5h0m1 20h0m1-22h0m1 20h0m1-5h0m1 4h0m4 8h0m1-21h0m1 10h0m3-6h0m1 15h0m1-25h0m0 14h0m2-5h0m0-6h0m1 5h0m1 17h0m7-19h0m1 12h0m0-8h0m0-2h0m0 10h0m1 2h0m0 7h0m1-29h0m2 6h0m0 20h0m2-18h0m0-2h0m1 18h0m1-20h0m0 16h0m2-8h0m1-3h0m2 13h0m2-5h0m2-17h0m1 26h0m1-12h0m1-12h0m0 5h0m1 13h0m0-17h0m0 10h0m1-1h0m0-12h0m2 10h0m0 9h0m0-10h0m2-4h0m1 5h0m3 9h0m0-11h0m1 5h0m0 14h0m1 1h0m1-13h0m1-6h0m0-3h0m2-4h0m0 0h0m0 15h0m1-14h0m1-3h0m2 8h0m0-1h0m2 9h0m0 7h0m2-21h0m1 5h0m2 3h0m1 2h0m0-7h0m4-2h0m1 19h0m2-17h0m0 21h0m4 3h0m0-23h0m2 16h0m1-3h0m2-16h0m2 6h0m1-7h0m1 11h0m0 2h0m3 11h0m1-22h0m1 25h0m1 0h0m1-7h0m1-7h0m1-5h0m1-8h0m0 18h0m0-15h0m4 10h0m1-7h0m1 20h0m4 1h0m1-9h0m1-7h0m1-1h0m1 17h0m5-9h0m0 8h0m1-18h0m0 12h0m1-19h0m3 4h0m5 15h0m1-14h0m0-8h0m0 2h0m0-1h0m1 27h0m2 0h0m1-17h0m2-2h0m0-2h0m1 6h0m1 13h0m1-16h0m0 9h0m2 5h0m0-16h0m1-3h0m1 5h0m1 9h0m0-1h0m1-5h0m2 7h0m1-20h0m2 7h0m1 3h0m1 7h0m3-1h0m0-12h0m1 16h0m2-13h0m0 9h0m1 0h0m0 6h0m1-22h0m1 10h0m1 0h0m3 11h0m2 7h0m1-14h0m3 4h0m1-3h0m0 6h0m1-4h0m0 2h0m2-2h0m2 6h0m0-16h0m1 0h0m1 6h0m1 6h0m1-6h0m1-11h0m0 4h0m1 1h0m1 10h0m0-10h0m1 3h0m0 9h0m0-7h0m1 7h0m1-16h0m1 7h0m0-1h0m2 6h0m0 2h0m0 11h0m1-20h0m0 2h0m1 0h0m3-9h0m0 6h0m1 8h0m0-14h0m1 24h0m0 4h0m3-29h0m2 19h0m3-2h0m1 2h0m2-6h0m0-2h0m1 17h0m1-26h0m0 14h0m0-12h0m1-2h0m0 3h0m0 22h0m1-13h0m2-11h0m0 0h0m1 6h0m1 11h0m2 7h0m2-20h0m0 15h0m2-20h0m4-2h0m0 11h0m5-11h0m2 7h0m3 1h0m0-2h0m3 8h0m9-12h0m4 15h0m-8 13h0m-16 10h0m-2 11h0m-2-2h0m-3-5h0m-1 0h0m-2-11h0m-4-3h0m-2 12h0m-1-10h0m-2 5h0m-3 17h0m-1-6h0m-2-10h0m-6 3h0m-1 18h0m-4-14h0m0-4h0m-1 15h0m-2-4h0m-5 1h0m0-6h0m-2 5h0m0-2h0m0 8h0m-1-25h0m0 5h0m0-2h0m-2 6h0m-1 4h0m-4 4h0m-1-8h0m-1-5h0m-2 14h0m-1-8h0m-1 1h0m-1-12h0m0 10h0m-1 13h0m0 2h0m0-21h0m-3 17h0m-1-18h0m-1 13h0m-1 8h0m-1-15h0m0-10h0m-1 13h0m-1-13h0m0 8h0m-1 5h0m-2-14h0m0 5h0m-1 9h0m-1 3h0m-1-2h0m-1-9h0m-3 6h0m-1-11h0m-3 4h0m0 7h0m-1-10h0m-1 23h0m-3-24h0m-1 20h0m-1-6h0m-1 2h0m-1 5h0m-2 2h0m-1-18h0m-2 2h0m-2 18h0m-1-10h0m-3 6h0m-1-3h0m-1 7h0m-1-10h0m-2 2h0m-2-17h0m-1 27h0m-2-14h0m-1-6h0m-2 10h0m-4-8h0m0-9h0m-4 14h0m-3-13h0m-1 25h0m-1-22h0m0 15h0m-2-15h0m0 2h0m0 0h0m0 12h0m-3-14h0m-1-1h0m0 18h0m-4-2h0m-1-14h0m-4 0h0m-3 17h0m0-9h0m-2 10h0m0-21h0m-2 2h0m-2 5h0m-1 2h0m0 6h0m0 7h0m0-19h0m-1-5h0m-3 14h0m0-6h0m0 16h0m-1 4h0m-1-15h0m0-5h0m-1-6h0m0 8h0m-5 3h0m0 13h0m-2-15h0m-2 11h0m-4 3h0m-1 2h0m-2-1h0m-4-4h0m-1 1h0m-4-18h0m-2 14h0m-2 4h0m-1-14h0m0-8h0m-1 18h0m0-17h0m0 9h0m-1-7h0m-1 9h0m-1 3h0m-1 0h0m-1-13h0m-3 24h0m-2-9h0m-1-7h0m0 14h0m-1-22h0m0 13h0m-4-5h0m-1-8h0m-3 17h0m-1-18h0m-2 10h0m-1-6h0m-2-2h0m-3-1h0m-1 21h0m-1 4h0m-4-12h0m-1 3h0m0-16h0m-3 23h0m-1-24h0m-1 0h0m0-1h0m-1 1h0m0 16h0m-1-15h0m0 0h0m-2 14h0m-1-12h0m0 0h0m-1 15h0m-1 3h0m0-13h0m-3 8h0m0 7h0m-2-16h0m0 17h0m0 2h0m-1-18h0m-2 12h0m-2-11h0m-1-2h0m0 13h0m-1 4h0m-1 2h0m-2-28h0m0 21h0m0 5h0m0-6h0m0-14h0m-1 11h0m0-18h0m0 27h0m-1-22h0m-2 12h0m0 10h0m-3-23h0m-1 22h0m-2 1h0m-2-10h0m-1 7h0m-1 5h0m0 0h0m-1-11h0m0 8h0m-1 0h0m-3-21h0m-3 15h0m-1-7h0m-3-8h0m0 15h0m-2-3h0m-1-7h0m0 17h0m0-7h0m0 3h0m0 1h0m0 0h0m0-18h0m0 4h0m0 6h0m0 4h0m0 9h0m0-26h0m0 10h0m0 4h0m0 2h0m0-14h0m0 13h0m0 11h0m0-20h0m0 13h0m0-10h0m0-10h0m0 13h0m0-3h0m0-4h0m0-5h0m0-1h0m0 13h0m0 0h0m0 39h0m0-24h0m0 27h0m0-11h0m0 2h0m0-4h0m0-1h0m0 2h0m0 11h0m0-15h0m0 4h0m0-9h0m0 15h0m0-16h0m0 3h0m0 12h0m0 0h0m0 5h0m0 3h0m0-10h0m0-10h0m0-7h0m0 10h0m0-11h0m0 13h0m0-10h0m0 26h0m0-7h0m0-5h0m0-1h0m0 13h0m0-6h0m0 5h0m0-5h0m0 5h0m0-17h0m0-7h0m0 23h0m0-8h0m0-7h0m0 1h0m2-9h0m1 25h0m1-18h0m1 2h0m2-3h0m0 13h0m2-9h0m1-9h0m2 9h0m2-2h0m0-3h0m1 10h0m0 3h0m1-17h0m0 20h0m2-3h0m0-2h0m0-9h0m1-10h0m1 0h0m1 0h0m0 18h0m0-6h0m1 12h0m0-9h0m2 6h0m1-16h0m2 20h0m0-1h0m0-6h0m1-11h0m0-1h0m0 22h0m1-3h0m1-25h0m0 2h0m6 5h0m1 2h0m1 12h0m1-8h0m0-11h0m3-2h0m0 11h0m3 10h0m2 4h0m1-23h0m0 22h0m4-17h0m0 1h0m0 16h0m5-8h0m1 3h0m0 5h0m1-3h0m1-20h0m4 20h0m1-17h0m2 24h0m0 0h0m2 0h0m0-6h0m3-19h0m1 8h0m1-1h0m4-4h0m3 12h0m2 5h0m0 1h0m2 3h0m0-20h0m2-4h0m1 19h0m1-6h0m3-15h0m0 20h0m0 4h0m3-15h0m1 10h0m0-19h0m0 6h0m1 3h0m0 14h0m1-14h0m1 4h0m1 4h0m0 2h0m0-10h0m1 3h0m2-2h0m4 12h0m0-5h0m1 5h0m0-21h0m1 14h0m1-17h0m0 11h0m1 9h0m1 2h0m0-1h0m0-14h0m2 8h0m1 9h0m1-17h0m2 7h0m0-3h0m0 7h0m3 3h0m4 4h0m0-6h0m1-15h0m0 21h0m2-12h0m2 7h0m1 1h0m4-5h0m0 13h0m1-18h0m1-5h0m1 22h0m0-11h0m0-13h0m2 21h0m0-10h0m0 7h0m5-2h0m0-11h0m2 16h0m1-3h0m2 6h0m0-16h0m0 11h0m1 4h0m1-22h0m3 5h0m1 5h0m0-4h0m2 1h0m1-12h0m0 18h0m1 3h0m4-18h0m2 23h0m0-24h0m0 27h0m1-5h0m1-12h0m1 12h0m0-14h0m0 12h0m1-8h0m1 7h0m2-12h0m0 7h0m1-1h0m1-4h0m3 2h0m1-11h0m0 12h0m0-11h0m2 21h0m1-2h0m1-7h0m0 1h0m1-3h0m1-3h0m1 0h0m3-8h0m0-2h0m0 20h0m0 6h0m1 3h0m0-25h0m0 4h0m0 1h0m0 0h0m5 20h0m0-12h0m2 4h0m1-8h0m3 15h0m3-22h0m0-6h0m1 11h0m0 6h0m1-8h0m0-7h0m3 26h0m2-27h0m1 2h0m2 2h0m1 14h0m0 4h0m1 6h0m1-6h0m0-15h0m2 13h0m1 2h0m0-13h0m2 0h0m0 18h0m1 1h0m3-10h0m0 4h0m3-9h0m2-9h0m2 15h0m1-13h0m1 13h0m2 0h0m0-9h0m1-1h0m0 13h0m0-16h0m5-6h0m2 11h0m2 16h0m1-10h0m2-11h0m1 15h0m0 5h0m1-21h0m4 10h0m4-13h0m3 7h0m6-8h0m-14 44h0m-1-11h0m-1-3h0m-7 8h0m0-7h0m-1 22h0m-1-19h0m-1-5h0m-1 10h0m-2-9h0m0 17h0m-1-6h0m-1-10h0m0 24h0m-3-16h0m-3-2h0m-1 3h0m-1-4h0m0-5h0m0 13h0m-1-9h0m-1 22h0m0-19h0m-3-4h0m0 13h0m-1-3h0m0 6h0m0 1h0m-1 5h0m-4-23h0m-1 7h0m-1-7h0m0 8h0m-4 13h0m0-17h0m0-2h0m-1 3h0m-3 3h0m-2-11h0m-1 11h0m-1 7h0m-1-9h0m-2 0h0m-1-2h0m-1 7h0m-2-9h0m-1 7h0m-1 1h0m0-6h0m-1-8h0m-1 10h0m0-7h0m0 13h0m0-5h0m-1-1h0m-5 1h0m-1-1h0m0-5h0m0 20h0m-2-19h0m-1 17h0m-1-22h0m0 19h0m-1-19h0m0-2h0m-2 1h0m0 13h0m-3-3h0m-1 6h0m-2 10h0m0-11h0m-1 11h0m-1-14h0m0 3h0m-1 9h0m-1-3h0m0-13h0m-2-6h0m0 0h0m-1 25h0m-1-26h0m0 8h0m0 13h0m-1 0h0m-1 3h0m-1-18h0m-2 13h0m-1-10h0m-3-8h0m0 0h0m-3 24h0m-6 1h0m0-12h0m-1-11h0m-1 20h0m0-15h0m-3 19h0m-1-9h0m-5-6h0m0-3h0m-1 1h0m0 1h0m-5-10h0m-1 24h0m0-26h0m-4 28h0m0-13h0m-4-13h0m-1 0h0m-2-3h0m-2 23h0m-2-14h0m-2-6h0m-1 19h0m-1 0h0m-1 1h0m-1-7h0m-1-16h0m-1 15h0m-3 13h0m0-15h0m-1-13h0m0 0h0m-1 10h0m-1-1h0m-1 4h0m0-2h0m-2-3h0m-1 15h0m0-23h0m-2 15h0m0-9h0m-1 21h0m-1-27h0m-3 2h0m0 2h0m-1 13h0m0 5h0m0-2h0m-1-18h0m-2 1h0m0 9h0m-9 16h0m-3-7h0m-1-13h0m0 9h0m-1-11h0m0 18h0m-1-11h0m0-11h0m-1-2h0m-2 10h0m-2-8h0m0 9h0m-2-10h0m-1 15h0m-1-12h0m-1 14h0m-1 4h0m-1-1h0m-1-15h0m-1 7h0m-1 10h0m0-23h0m-1 3h0m-1-3h0m0 21h0m0 8h0m0-10h0m-1-12h0m-2 14h0m-1-2h0m-2 4h0m-2-12h0m-1 11h0m0 4h0m-2-7h0m0-14h0m-1 6h0m-4 12h0m0-4h0m-1-3h0m0 10h0m-1-26h0m0 1h0m-1 6h0m0 17h0m0-9h0m-2-11h0m-2-4h0m0 2h0m-1 24h0m-2-10h0m-2 8h0m-1-4h0m-1 1h0m-1-15h0m-1-5h0m-1 28h0m-1-6h0m-3-20h0m-1-3h0m-2 12h0m-1-11h0m-2 22h0m-1 5h0m-1-28h0m-2 17h0m-3 1h0m-1 11h0m0-24h0m-1 10h0m-2 11h0m0-7h0m0 0h0m0-17h0m0 27h0m0-11h0m0 4h0m0 7h0m0-11h0m0 11h0m0-16h0m0-6h0m0 3h0m0 0h0m0 3h0m0-11h0m0 1h0m0 4h0m0-3h0m0 1h0m0 0h0m0-4h0m0 7h0m0 7h0m0 12h0m0-26h0m0 28h0m0-17h0m0 11h0m0-15h0m0 15h0m0-17h0m0 7h0m0-2h0m0 14h0m0 25h0m0-18h0m0 25h0m0-23h0m0 5h0m0-3h0m0 12h0m0-15h0m0 4h0m0-4h0m0 12h0m0-13h0m0 7h0m0 14h0m0-7h0m0 13h0m0-26h0m0 19h0m0-10h0m0-8h0m0 11h0m0-10h0m0 22h0m0-8h0m0 3h0m0-7h0m0-12h0m0 17h0m0-13h0m1 10h0m1 9h0m0-24h0m1 3h0m1-2h0m9 1h0m4 1h0m2 10h0m1 5h0m1-12h0m1 6h0m1 2h0m1 12h0m1-6h0m1-16h0m0 9h0m2 8h0m3-5h0m0-7h0m3 5h0m3 10h0m3-20h0m0 12h0m1-5h0m4 11h0m1 0h0m1-23h0m3 5h0m2 3h0m2 2h0m0 7h0m3-13h0m2 9h0m0-4h0m0-9h0m1 24h0m1 4h0m4-24h0m2 0h0m0 11h0m4-10h0m1 23h0m0-15h0m1-6h0m1-3h0m1 1h0m1-4h0m1 11h0m1-9h0m0 4h0m1-2h0m1 22h0m4-5h0m1-19h0m1 19h0m1-7h0m0-16h0m2 18h0m1-10h0m1 14h0m0-8h0m1-6h0m1 2h0m0 8h0m0-3h0m1-8h0m0 11h0m4-12h0m4 11h0m0 0h0m0-13h0m3 6h0m1 3h0m0 6h0m0-14h0m2-5h0m1 16h0m2-14h0m0 0h0m1 15h0m0 12h0m1-17h0m3 9h0m1 7h0m1-20h0m0 8h0m1-2h0m4-8h0m0 6h0m1 13h0m3-9h0m0-9h0m1 8h0m0 7h0m0 2h0m0-19h0m2 3h0m0 15h0m0-2h0m1 0h0m0 0h0m1-5h0m0-9h0m1 14h0m0-4h0m1-15h0m0 0h0m1 22h0m0-21h0m1 7h0m1 8h0m1 2h0m0-18h0m10 10h0m1-4h0m0-3h0m3-1h0m1 16h0m0-12h0m1 16h0m1-10h0m0-5h0m2 14h0m0-4h0m1-4h0m0 0h0m1 7h0m0-21h0m0 14h0m1-11h0m1 17h0m1 3h0m2-6h0m1-17h0m3 0h0m0 19h0m1-4h0m0 1h0m0-10h0m1-6h0m0 16h0m2 0h0m0 3h0m0-13h0m1 2h0m2-1h0m1 2h0m0 0h0m0 8h0m1-7h0m1-10h0m1 28h0m2-9h0m0-15h0m0-3h0m1 27h0m1-13h0m0-11h0m0 4h0m2 13h0m0 0h0m1 1h0m2-23h0m1 25h0m1-25h0m0 1h0m0 8h0m4 20h0m2-20h0m2 13h0m0 6h0m1-13h0m1 0h0m2-4h0m1-7h0m0 3h0m5 22h0m2-18h0m1 11h0m3-3h0m1-1h0m1-6h0m5 7h0m1-8h0m1-2h0m3 12h0m1-11h0m-26 23h0m-6 4h0m-7-3h0m-4 7h0m-4 7h0m-5-16h0m-6 3h0m-7-5h0m-2 17h0m-3 1h0m-1-6h0m-11-9h0m-5 5h0m-4 2h0m-7-10h0m-4 3h0m-5 0h0m-6 24h0m-1-27h0m-5 4h0m0 1h0m-1 11h0m0-10h0m-10-1h0m0-1h0m-4 12h0m-9-11h0m-2 13h0m-2-8h0m-1 7h0m-2-15h0m-2 7h0m-7 3h0m-3 11h0m0-16h0m-14-1h0m-1-5h0m-11 13h0m-1 0h0m-3-2h0m0-10h0m-2 5h0m-6 1h0m-2 7h0m-2-6h0m-1-7h0m-1-1h0m-2 11h0m-4-11h0m-3 2h0m-2 6h0m-2-1h0m-1 4h0m-1-8h0m-6 16h0m0-15h0m0-1h0m0 3h0m0-6h0m0-1h0m0 3h0m0 8h0m0-6h0m0-1h0" stroke="#1442f4" stroke-width="14.0" stroke-linecap="round" fill="none"/>
<path d="M651 5339h0m-50-11h0m-17 10h0m-45-8h0m-50-3h0m-64-1h0m-12 12h0m-6 15h0m5-8h0m80 13h0m8 8h0m5-25h0m44 22h0m1 4h0m3-6h0m2 4h0m35-13h0m6 2h0m18 0h0m42-9h0m7-4h0m24 22h0m4-10h0m-86 21h0m-17-3h0m-1 0h0m-27-1h0m-56 7h0m-52 1h0m-45-7h0" stroke="#1442f4" stroke-width="12.0" stroke-linecap="round" fill="none"/>
<path d="M743 5543h0m48 23h0m-4 10h0m-5-5h0m-1 2h0m-8-2h0m0-8h0m-1 0h0m-6 3h0m-1 3h0m0-5h0m-1-4h0m-8 1h0m-1 1h0m-1 10h0m-1 6h0m-5-25h0m-2 19h0m0 1h0m-2-6h0m-6 0h0m-2 3h0m-1 6h0m-2-9h0m-5 8h0m-4 3h0m0-5h0m-6-11h0m-1 14h0m0 3h0m-1-5h0m-1-11h0m-1 1h0m0-7h0m1 46h0m0-14h0m2 0h0m1 18h0m1-11h0m6 6h0m3-4h0m1-14h0m0 4h0m2 6h0m1-7h0m2-7h0m1 2h0m0 17h0m0-14h0m2 16h0m1-8h0m1-2h0m1 16h0m2-17h0m1 6h0m2 9h0m1-14h0m4-7h0m0 8h0m2 8h0m2-16h0m1 3h0m1 15h0m2 3h0m3-12h0m2-9h0m0 21h0m0-14h0m2 14h0m1-24h0m0 3h0m0 21h0m2-11h0m3-9h0m2 7h0m0-3h0m1 15h0m0-18h0m4 21h0m1-5h0m2-9h0m3-13h0m1 23h0m5-20h0m1 18h0m6-5h0m0 6h0m4-4h0m8 26h0m-4 6h0m-2-19h0m0 0h0m-2 20h0m0-21h0m-1 9h0m0 0h0m-4 6h0m0-6h0m-2 18h0m-1-21h0m-1 3h0m-4 2h0m-2-8h0m-2-3h0m-2 1h0m-1 11h0m-1-11h0m0 5h0m-2 5h0m-3-11h0m-1 24h0m-2-6h0m-2-4h0m-1 0h0m0-7h0m-2-3h0m0 20h0m-6 1h0m0-14h0m-3 11h0m-3-15h0m0 0h0m-1 11h0m0 11h0m-2-23h0m-1 20h0m0-10h0m0-4h0m-1 13h0m-1-21h0m-1 20h0m0-5h0m-2-11h0m-1 9h0m-4-10h0m-8 18h0m-1-15h0m-1-8h0m0 5h0m-2 2h0m-1-8h0m-1 9h0m-3 1h0m-1 9h0m-4-10h0m-1-9h0m0 23h0m-1-24h0m-6 23h0m-1-19h0m-10 16h0m-9 19h0m10 5h0m1-7h0m0 22h0m0-5h0m1-18h0m5 15h0m1 4h0m2-13h0m1 2h0m3-5h0m3 10h0m1-3h0m1-6h0m5 14h0m1 3h0m0-25h0m2 1h0m4-3h0m1 28h0m2-6h0m3-14h0m1 21h0m0-14h0m5-9h0m1 2h0m4 15h0m1 1h0m2-9h0m0-13h0m1 17h0m2-1h0m4 6h0m0-3h0m0-21h0m2 0h0m2 6h0m1 12h0m1 1h0m1 5h0m1 0h0m0-15h0m0-3h0m0 12h0m2 4h0m4 0h0m2 1h0m1-15h0m0 13h0m0-7h0m1 5h0m0-11h0m3-3h0m0-5h0m0 6h0m2 5h0m3-10h0m1 27h0m1-3h0m1-1h0m1-9h0m2-4h0m0 15h0m2-19h0m1 10h0m0-16h0m1 17h0m1-5h0m3 7h0m1-9h0m3-2h0m0-1h0m2 19h0m3-16h0m1 4h0m-3 17h0m-1 22h0m-4-11h0m-1-8h0m-1 0h0m-2 5h0m-1 3h0m0-5h0m0-5h0m-1 18h0m-1 5h0m-1-20h0m0 11h0m0-16h0m-2 4h0m-1-3h0m-1 15h0m0 0h0m-1 1h0m-1-4h0m-2-1h0m-1 4h0m-3-2h0m-1 1h0m-3-12h0m0 4h0m-1 11h0m0-3h0m-1-9h0m-1 6h0m0 3h0m0-3h0m-1 16h0m0-27h0m-1 19h0m-5 7h0m-1-20h0m-1 18h0m-2-23h0m-1-2h0m-1 8h0m0-5h0m-1-3h0m-1 1h0m-2 8h0m-2-2h0m-2 21h0m0-23h0m-3 15h0m-1-8h0m0-8h0m0 4h0m0 15h0m-1-19h0m0 0h0m-1 19h0m0-9h0m-1-8h0m-1 19h0m-2-10h0m-2 3h0m0-13h0m-2 2h0m-8-1h0m-1 21h0m-1 0h0m-1-26h0m-1 23h0m-4-25h0m-1 23h0m0-11h0m-2 6h0m-1-12h0m-5 7h0m-2-2h0m0-1h0m-5 16h0m-2-16h0m-1 6h0m-6-16h0m-9 23h0m22 21h0m2 3h0m3-8h0m1 2h0m2-3h0m0-1h0m1 7h0m2 12h0m0-1h0m2-13h0m4 4h0m6-14h0m3 15h0m1-12h0m0 10h0m2-4h0m1 5h0m1-1h0m3-14h0m3 9h0m1 1h0m0-7h0m1 19h0m0-10h0m1 14h0m3-20h0m2-6h0m0 6h0m3-2h0m0 0h0m5 1h0m5-5h0m0 27h0m3-8h0m1-11h0m1-9h0m3 21h0m1-16h0m1 2h0m2 10h0m5 7h0m1-19h0m1 6h0m2 4h0m1 3h0m3-7h0m0-4h0m1 8h0m2 13h0m2 0h0m1-9h0m0-5h0m3 12h0m0-3h0m0-9h0m3-14h0m2 15h0m3-13h0m3 17h0m13-6h0m-9 28h0m-14-4h0m-1-1h0m-4 2h0m-11 8h0m-8 4h0m-4-14h0m-1 20h0m0-1h0m-1-19h0m-1 23h0m-2-20h0m0 12h0m0 4h0m-1-13h0m-1 15h0m0-15h0m-2 5h0m-1 2h0m0 5h0m0-12h0m0-1h0m0 6h0m-3-8h0m-2 8h0m-1-17h0m-1 21h0m0 5h0m-7-15h0m-1 1h0m-1-4h0m-3 8h0m-3-11h0m-1 9h0m-1 1h0m0-2h0m-1-8h0m-1 8h0m-1-1h0m-1 3h0m-1 9h0m-1 0h0m-1-13h0m-1-5h0m-4 9h0m0-12h0m-1 2h0m-3 21h0m-9-22h0m-1 18h0m0-7h0m-5 1h0m2 14h0m11 22h0m16-21h0m8 18h0m5-14h0m7-1h0m3 3h0m5-6h0m21 9h0" stroke="#30e01a" stroke-width="15.0" stroke-linecap="round" fill="none"/>
<path d="M740 5785h0m12-13h0m19-1h0m3-8h0m0 41h0m-2-6h0m-11-7h0m-5 17h0m-10-7h0m-3-10h0m-2 23h0m-6-23h0m-21 6h0m-22 16h0m15 16h0m3-9h0m24 21h0m11-1h0m42 38h0m-16-21h0m-33-1h0m-1 23h0m-16-24h0m-7 13h0m-4-15h0m-11 15h0m-10 14h0m25 1h0m5 10h0m8 15h0m1-3h0m42 0h0m8-24h0m-22 45h0m-25-7h0m-8 15h0m0-10h0m-4 12h0m-13-10h0m-3 8h0m-14-1h0m-6-21h0m-2 3h0m-5 12h0m42 40h0m1 2h0m12-16h0m31 4h0m29 5h0m-13 17h0m-36 4h0m-5-13h0m-47 10h0m-8 15h0m29 25h0m5-4h0m23-14h0m5 14h0m16-10h0m47 12h0" stroke="#30e01a" stroke-width="19.0" stroke-linecap="round" fill="none"/>
<path d="M2741 5007h0m36-3h0m5-2h0m319 28h0m-250 6h0m-22 1h0m-12 0h0m-17-18h0m-1 18h0m-47-13h0m-38 15h0m-2-9h0m-15-2h0m-11-11h0m-21 21h0m-14-2h0m-186 5h0m192 6h0m65 20h0m48-18h0m10 10h0m1-17h0m61 21h0m9-22h0m29 7h0m6 19h0m0-12h0m48-12h0m18 12h0m89 1h0m81 24h0m-339-8h0m-16 17h0m-1-7h0m-6-3h0m-33 9h0m-54-4h0m-17 25h0m2-7h0m15-2h0m7 23h0m17-22h0m1 11h0m21-1h0m20-6h0m9 22h0m5-20h0m3 4h0m12-11h0m3 17h0m10-16h0m43 14h0m2 10h0m61-11h0m1-3h0m16 16h0m48-7h0m181 23h0m-45-4h0m-87-5h0m-53 6h0m-69 10h0m-22-7h0m0 3h0m-46-1h0m-2 8h0m-15-11h0m-15-3h0m-20 5h0m-17-7h0m-54 5h0m-1 17h0m-159-14h0m-80 6h0m102 16h0m32 18h0m77-17h0m4 13h0m30 7h0m1-6h0m22-18h0m17-2h0m2 7h0m4 2h0m19-9h0m55 12h0m3 14h0m1-28h0m14 29h0m28-23h0m24 18h0m6-4h0m208-5h0m-105 30h0m-92 3h0m0 3h0m-16 1h0m-33 7h0m-9-12h0m-2 9h0m-6-5h0m-4-3h0m0-1h0m-6-6h0m-5-1h0m-3 2h0m-28-9h0m0 17h0m-4-4h0m-9-14h0m-6 27h0m-30-19h0m-5-1h0m-2 15h0m0-20h0m-15 20h0m-4-8h0m-28-1h0m-46 10h0m-33-13h0m-137 36h0m24-12h0m130 17h0m71-4h0m11-14h0m8 20h0m7-7h0m1 1h0m0 1h0m21-7h0m8-1h0m3 0h0m11 3h0m12-8h0m1 17h0m1-4h0m11-7h0m1 8h0m30 3h0m2 2h0m4-20h0m11-3h0m7 1h0m37 11h0m6 8h0m28-11h0m1-9h0m249 22h0m-285 14h0m-7 11h0m-2-15h0m-6 17h0m-13 4h0m-13-15h0m0-5h0m-5-1h0m-1 16h0m-13-18h0m-14 19h0m-19-12h0m-2-6h0m-12 18h0m-7-5h0m-10-17h0m-7 4h0m-12-2h0m-3 12h0m0 12h0m-19 2h0m-8-22h0m-3 22h0m-2-17h0m-4 15h0m-6-11h0m-4 12h0m-15-26h0m-38 13h0m-89-7h0m22 40h0m129 1h0m2-5h0m38 15h0m2-19h0m1 2h0m6-6h0m1 3h0m1 0h0m1-3h0m1 22h0m2-18h0m2 2h0m2 7h0m0-8h0m2-1h0m2 10h0m3-19h0m6 5h0m2 12h0m4 3h0m1-19h0m6 20h0m13-7h0m9 8h0m7-5h0m25-9h0m3 14h0m3-8h0m15-8h0m0 14h0m13 4h0m22-14h0m30 9h0m17-6h0m-30 45h0m-30-9h0m-4-8h0m-4 17h0m-6-17h0m-1-8h0m-3 10h0m0 9h0m-1-12h0m-10 17h0m-12-22h0m-9 21h0m-1-13h0m-2-2h0m-2 17h0m-8-10h0m-3-12h0m0 21h0m-2-15h0m-11 12h0m-10 4h0m-1-3h0m-2 4h0m-1-26h0m-1 24h0m-16-7h0m-2 8h0m-2-14h0m0-12h0m-3-2h0m-2 8h0m-10 17h0m-3 0h0m-4-15h0m-2-9h0m-22 28h0m-6-3h0m-2-25h0m-3 25h0m-6 1h0m-1-8h0m-25-5h0m-23 2h0m-10-3h0m-50-5h0m-12 1h0m-152 30h0m201 9h0m48-18h0m23 2h0m3 11h0m1 16h0m16-29h0m8 22h0m4-9h0m2 14h0m8-21h0m1 22h0m1-2h0m1-17h0m3 18h0m12-15h0m2-5h0m6 17h0m7-7h0m13-10h0m1 4h0m14-5h0m2 10h0m1-10h0m1-3h0m3 14h0m5 4h0m0-20h0m4 27h0m1-4h0m0 4h0m8-15h0m1 5h0m1-3h0m0 12h0m5-27h0m22 4h0m30-2h0m10 11h0m1 15h0m18-23h0m23 23h0m42-20h0m56 7h0m-33 37h0m-30 7h0m-22-2h0m-12-23h0m-5 3h0m-9-7h0m-24 8h0m-18 10h0m-30 11h0m-3-29h0m-4 3h0m-2 15h0m-6-7h0m0-9h0m-3 21h0m-6-22h0m0 15h0m-3-12h0m-1 11h0m-4 5h0m0-19h0m-8 21h0m-8-13h0m-3 5h0m-3-10h0m-2-1h0m-5 20h0m-4-19h0m-2 22h0m-3-7h0m-2 6h0m-3-10h0m-1-4h0m-3-5h0m0 15h0m-1-4h0m-15-15h0m0 11h0m0 16h0m-6-16h0m-5-13h0m-4 26h0m0-16h0m-1 11h0m-3-15h0m-2 9h0m-1-2h0m-7-1h0m-3 0h0m-3 4h0m-2 5h0m-2-1h0m-1 7h0m0-15h0m-6 5h0m-1 12h0m-7-11h0m-7-3h0m-7-13h0m-1 16h0m0-17h0m-7 26h0m-2-1h0m-9 2h0m-5-16h0m-14 8h0m-13 0h0m-6-2h0m-4-3h0m-19-15h0m-104 54h0m71-10h0m56-10h0m40 16h0m3-18h0m9 17h0m3-6h0m21-6h0m0-5h0m2 16h0m1 10h0m1-28h0m6 12h0m3 16h0m4-21h0m3 1h0m2 17h0m4-3h0m1-6h0m4-9h0m1 9h0m3 3h0m1-8h0m0 14h0m5 3h0m5-2h0m2-26h0m0 3h0m2 14h0m1 10h0m3-1h0m0-7h0m6 7h0m4-7h0m4 9h0m1-19h0m0 18h0m3-23h0m7 17h0m9-17h0m7 25h0m0-5h0m5 0h0m3-8h0m3-11h0m5 1h0m1 16h0m1 6h0m4-14h0m1 8h0m9-10h0m4 14h0m0-9h0m1-15h0m13 24h0m6 1h0m7 1h0m21-10h0m38 3h0m7 0h0m50-8h0m32 9h0m97-20h0m60-1h0m-168 38h0m-14 7h0m-44-14h0m-17 3h0m-9-2h0m-20 24h0m-19-9h0m-5-2h0m-5-1h0m-5-2h0m-5-1h0m-3 3h0m-1-3h0m-4 6h0m-4-9h0m-3 13h0m0-3h0m-2-1h0m-4-11h0m0 17h0m-2 0h0m0-10h0m-8-11h0m-8-3h0m0 27h0m-1-1h0m-1-21h0m-6 8h0m-2 15h0m-3-17h0m-1 16h0m-1-9h0m-3 8h0m0-21h0m-1 10h0m-6 11h0m-1-16h0m-1-1h0m-1 18h0m-2-1h0m-1-25h0m-1 12h0m-8 7h0m-5-2h0m-4-14h0m-2-4h0m-1 1h0m-4 24h0m0-5h0m-2-16h0m-3 8h0m-3-9h0m-1 3h0m-1 11h0m0-16h0m-3 10h0m-1 11h0m-1-22h0m-1 23h0m0-17h0m-1 18h0m0-19h0m-2 10h0m-2 2h0m-2 3h0m-5 9h0m-3-25h0m0 19h0m-5 6h0m0-17h0m-1-1h0m-2 6h0m-1 10h0m-5-18h0m-3-9h0m-4 15h0m-1-10h0m-4 19h0m-7-5h0m-4-19h0m0 16h0m0-7h0m-1 14h0m-1-19h0m-1 20h0m0-24h0m-5 7h0m-8 16h0m-2-20h0m-3 22h0m-5-6h0m-6-6h0m-8-10h0m-2 8h0m0 7h0m-3 7h0m-10-13h0m-5 16h0m-12 19h0m2 5h0m14-14h0m41-2h0m4 23h0m3-5h0m6-1h0m2 2h0m3-21h0m2 3h0m2 4h0m0 17h0m4-2h0m5-8h0m1-17h0m3 17h0m2-18h0m2 4h0m1 5h0m5 1h0m2-7h0m1 2h0m0-5h0m1 20h0m0-9h0m1 18h0m3-1h0m7-4h0m5-10h0m3-6h0m0 20h0m7 0h0m4-15h0m5 11h0m1 2h0m0 3h0m2-6h0m3-20h0m4 25h0m1-24h0m1 5h0m2 6h0m2-7h0m1 18h0m1-13h0m5 2h0m0 13h0m5-17h0m0 10h0m2 8h0m0-17h0m0 14h0m1-7h0m1-2h0m0-14h0m2 26h0m2-5h0m3-3h0m3-13h0m3 1h0m0-2h0m7 9h0m1-10h0m2 14h0m2 6h0m2-4h0m1-21h0m2 7h0m1 16h0m2-20h0m5 21h0m2 2h0m5-9h0m0-3h0m1-9h0m2 13h0m3-13h0m2 6h0m8 2h0m3-2h0m13 0h0m0-8h0m0 11h0m0-8h0m2 18h0m6-23h0m4 20h0m1-18h0m3 17h0m7-19h0m1 14h0m0 7h0m0-9h0m10 9h0m2-20h0m15 20h0m12-2h0m2 2h0m0 6h0m1-15h0m5 5h0m1 8h0m3-12h0m10 1h0m1-10h0m2 15h0m5-18h0m3 26h0m12-8h0m6 0h0m1-13h0m1-5h0m5 13h0m13 8h0m21 5h0m4-13h0m65-6h0m18 12h0m-33 36h0m-2-13h0m-8 14h0m-34-28h0m-3 25h0m-8 3h0m-4 0h0m-3-19h0m-5 17h0m-17-14h0m-9-6h0m0 5h0m-7 3h0m-8-4h0m0 4h0m-6-14h0m-5 3h0m-1 19h0m-1-4h0m-2-7h0m-3-10h0m-5 18h0m-4 0h0m-2 7h0m-6-1h0m-2-6h0m-2-14h0m0 20h0m0-8h0m-2-15h0m-1 7h0m-6 12h0m-1-22h0m0 20h0m-1 7h0m-2-19h0m-1 16h0m-4-24h0m-1 2h0m-4 26h0m-6-5h0m-6 6h0m0 0h0m0-10h0m-2 5h0m0 0h0m-1-20h0m-4-1h0m-3 18h0m0-14h0m-4-6h0m0 21h0m-2-13h0m-1 6h0m-1 8h0m-1 6h0m0-1h0m-3-11h0m0-16h0m0 22h0m-1-23h0m-3 7h0m-1 2h0m-1 14h0m-6-21h0m-1 23h0m-2-20h0m-2-5h0m0 0h0m-9 21h0m-2 5h0m0-2h0m-1-21h0m-7 4h0m-1 9h0m-2 0h0m-6-15h0m-1 27h0m-1-26h0m-1 1h0m-2 11h0m-2-1h0m-1 13h0m-1 2h0m-2-16h0m0 0h0m-1-12h0m0 3h0m0 19h0m-1-12h0m0 4h0m-1 6h0m0 1h0m-1 1h0m-1-4h0m-3 0h0m-1 5h0m-6-20h0m-4 14h0m0-15h0m-2 7h0m-4 10h0m-3-18h0m0 5h0m-2 16h0m-2-17h0m-1 12h0m-3-2h0m-1 9h0m0-10h0m-2-4h0m-3-2h0m-2-6h0m-4 0h0m-3 4h0m0-3h0m-1 21h0m-3 0h0m-8-4h0m-1-10h0m-2-5h0m-1-5h0m-1 1h0m-1 12h0m-3 16h0m-2-25h0m-4 19h0m-1-15h0m-1-7h0m-6 14h0m-1-11h0m-1 12h0m-1 9h0m-8-6h0m0 7h0m-3-9h0m0 8h0m-2-5h0m-4 0h0m-5 4h0m-11-8h0m-1 6h0m-3-22h0m-4 7h0m-1 13h0m-9 6h0m-14-14h0m0-12h0m-16 1h0m-8 28h0m-16 0h0m-26-13h0m-28-1h0m-23-4h0m-80 46h0m92-7h0m15 6h0m26-1h0m8 1h0m31-15h0m16 13h0m4-9h0m3-5h0m8 4h0m8 4h0m2-12h0m7 18h0m3-19h0m0 23h0m12-6h0m0 5h0m0-13h0m5 2h0m0-6h0m2 13h0m7-9h0m4 8h0m1-10h0m6 12h0m1-1h0m2-15h0m1 19h0m3-7h0m0-9h0m1 0h0m1 10h0m2 8h0m1-24h0m1 14h0m0-16h0m2 17h0m0-12h0m1 3h0m5-5h0m1 20h0m0-14h0m2 3h0m3-5h0m2 18h0m0-11h0m0-3h0m2-1h0m1 16h0m2 0h0m1-10h0m2 9h0m0-16h0m5 12h0m1-15h0m1 4h0m1 2h0m1 8h0m3 2h0m3 3h0m2-8h0m2-19h0m5 27h0m0-27h0m4 18h0m3 10h0m0-28h0m1 21h0m0-21h0m2 27h0m0-3h0m1-11h0m1 3h0m2-9h0m1 17h0m0-21h0m6 3h0m4 10h0m1-2h0m1-6h0m3-5h0m5 7h0m0 10h0m2 6h0m2-25h0m0 4h0m1-1h0m8 20h0m0-5h0m0-16h0m0 8h0m1-1h0m1-3h0m1 7h0m0-14h0m1 22h0m2-17h0m3-3h0m0 0h0m1 12h0m0 6h0m2-21h0m0 6h0m2 20h0m1 2h0m2-3h0m0-12h0m2 8h0m1-9h0m0 7h0m1-11h0m0 20h0m1-15h0m5 4h0m2 3h0m0-13h0m1 1h0m1 2h0m1 0h0m0-3h0m2 13h0m1-6h0m0 12h0m2-22h0m3 25h0m0 0h0m0-3h0m2-3h0m1 2h0m2-13h0m0-4h0m3-3h0m0 7h0m3-11h0m3 20h0m0-17h0m3 1h0m0 0h0m1 4h0m2 15h0m1-1h0m2 4h0m0-6h0m4-14h0m1 19h0m0-3h0m3 3h0m2-20h0m2 9h0m4-3h0m1-11h0m2 5h0m2 9h0m8-2h0m0 6h0m1-9h0m8 17h0m0-27h0m1 26h0m1-12h0m2 2h0m0-7h0m5 0h0m3-5h0m6 3h0m1 15h0m1 7h0m7 0h0m1-22h0m3 1h0m6 14h0m2 6h0m2 1h0m0-13h0m1-4h0m0-9h0m3 16h0m6-15h0m9 6h0m1 17h0m2-9h0m1 8h0m8 3h0m8-3h0m5-2h0m0-1h0m16 0h0m2 0h0m4 1h0m0-15h0m8-4h0m6-4h0m12 23h0m8-3h0m115-16h0m-97 47h0m-12-12h0m-16 8h0m-8 0h0m0-2h0m-13-16h0m-1 11h0m-12-2h0m-6 16h0m-2-3h0m0-21h0m0 12h0m-5 3h0m-7-15h0m-1 5h0m-3-2h0m-3 18h0m-1-19h0m-1 3h0m-9 21h0m-1-6h0m-4-16h0m0 3h0m-2 5h0m-1 10h0m-1-5h0m-2 11h0m-1-11h0m-4-13h0m-1 5h0m-2 14h0m0-21h0m0-3h0m-1 26h0m0-3h0m-3-23h0m-5 7h0m-1 7h0m-2 1h0m-4 5h0m-1-17h0m0 25h0m-1-16h0m-1 10h0m-1-5h0m0 3h0m-3 6h0m-3 1h0m0-2h0m0-7h0m-1-8h0m0-9h0m-4 7h0m-3 14h0m0-3h0m-1 1h0m-1-2h0m-2-6h0m-1-1h0m0-1h0m-2 14h0m-1-18h0m-1 7h0m-1 15h0m-2-15h0m-1 11h0m-2-24h0m0 26h0m-2-7h0m-1-3h0m-1 13h0m0-19h0m0 8h0m-3 5h0m0-13h0m-1-10h0m0 29h0m0-19h0m-2-9h0m0 12h0m0 13h0m-2-6h0m-2-2h0m0 6h0m-2-14h0m0-10h0m-1 25h0m-1-10h0m0-12h0m-1 14h0m-4 8h0m-1-8h0m-2-17h0m0 0h0m-6 14h0m-4 9h0m0-23h0m-1 28h0m-3-15h0m-1 7h0m-1-15h0m-2 9h0m0 14h0m-5-20h0m0-1h0m0 8h0m0 5h0m0 8h0m-1-15h0m0 3h0m0-7h0m-1-5h0m0 23h0m-2 1h0m-1 1h0m0-5h0m-1-7h0m-5-1h0m0 13h0m0-17h0m0 9h0m-1-4h0m-1-9h0m-1 7h0m-1-1h0m-1 6h0m-1-19h0m-2 25h0m0-2h0m-1-10h0m-1 11h0m-1-1h0m0 1h0m-5-12h0m0 0h0m-1-5h0m-1 19h0m-2-18h0m-1 3h0m0-10h0m0 21h0m-1 0h0m-2-18h0m-1 8h0m0 10h0m0 5h0m-2-8h0m0 5h0m-3-2h0m0-13h0m-1 0h0m0 7h0m0-1h0m-2-13h0m-2 15h0m-1-1h0m-4-5h0m-1-11h0m-1 18h0m0-13h0m-3 6h0m-1 12h0m-1 3h0m-1-23h0m-1 17h0m-1-15h0m0 13h0m0-13h0m-2 14h0m-1 5h0m0 0h0m-1-23h0m-3-1h0m-1 19h0m0-12h0m-2-5h0m-1 9h0m-4 0h0m0 15h0m-4 0h0m0-5h0m0-4h0m-4-2h0m-1-1h0m-1 13h0m0-1h0m-1-4h0m-1 3h0m-4-23h0m0 9h0m-2 7h0m-3-9h0m-1 12h0m-1 2h0m0-9h0m0 8h0m-1 0h0m0-11h0m-3 3h0m-1 12h0m0-26h0m-2 18h0m-2-11h0m-1 15h0m-2 0h0m-1-11h0m0 6h0m-3 9h0m-1-14h0m-1 7h0m-1 7h0m0-11h0m-1 5h0m0 2h0m-5-22h0m0 21h0m-2-22h0m-1 4h0m-4 11h0m-5-12h0m0 23h0m-1 2h0m0-22h0m-1 11h0m-3-4h0m0-13h0m-1 24h0m-5 2h0m0-18h0m-4 16h0m-7-20h0m-10 16h0m-1-16h0m-2 25h0m0-29h0m-1 25h0m-1 3h0m-1-12h0m-1-13h0m-7 7h0m-10 14h0m-7-5h0m-4-13h0m-24-3h0m-34-3h0m5 39h0m4 15h0m38 5h0m0-3h0m4-24h0m5 0h0m1 20h0m0 7h0m4 0h0m2-8h0m3-18h0m2 2h0m2 13h0m7-11h0m1 5h0m0 14h0m0-11h0m8 13h0m2-5h0m0-13h0m3 7h0m3-6h0m0 3h0m1-5h0m2 7h0m4 1h0m2-13h0m0 13h0m3-14h0m1 20h0m0-19h0m3-2h0m1 19h0m1 3h0m1-3h0m2 6h0m0-2h0m3-21h0m3 12h0m1-1h0m1-1h0m0-13h0m2 10h0m0-4h0m2 14h0m0 3h0m0-11h0m0 13h0m1-1h0m1-5h0m2-9h0m0 14h0m0-7h0m2 10h0m0-10h0m4-12h0m2 5h0m1 4h0m2 0h0m3 0h0m1 1h0m0 12h0m1-5h0m1-14h0m0 10h0m2 0h0m0-3h0m1 11h0m0-21h0m4-6h0m1 20h0m2-10h0m2-5h0m0-1h0m0 6h0m1 16h0m0-10h0m2-5h0m1 12h0m1 1h0m1-14h0m1 0h0m0 10h0m0 6h0m0 2h0m1-5h0m0-22h0m1 10h0m0-5h0m0 7h0m2-13h0m1 12h0m0 14h0m1-17h0m0 6h0m1 10h0m1-16h0m0 18h0m1-21h0m2-6h0m1 14h0m0 4h0m3 0h0m0-4h0m0 12h0m2-23h0m0 23h0m2-9h0m0-5h0m1 13h0m0 4h0m1-4h0m0-10h0m1 5h0m1-7h0m2 6h0m0-17h0m0-1h0m1 23h0m0 0h0m2-14h0m1 9h0m2 3h0m0-19h0m2 25h0m0-11h0m0-14h0m2 17h0m0 5h0m1 3h0m0-3h0m1-9h0m1-7h0m1 18h0m1-11h0m0 6h0m0-11h0m0 8h0m0-15h0m1 22h0m0-13h0m0 3h0m1 13h0m0-16h0m1-6h0m0 19h0m1-12h0m0-9h0m0 15h0m1-7h0m0-6h0m1 1h0m1 20h0m0-21h0m1 22h0m0-9h0m0 7h0m1-7h0m0-3h0m2 0h0m2-1h0m0-9h0m2 11h0m1-13h0m0 11h0m1 6h0m0-14h0m1 6h0m0-9h0m2 5h0m0-8h0m0 21h0m0-15h0m1 10h0m1-15h0m0 15h0m0-13h0m0 24h0m0-3h0m1-20h0m0 21h0m1-15h0m0-6h0m0 22h0m1-13h0m0 10h0m0-1h0m0-9h0m0 14h0m1-19h0m0 10h0m0-9h0m2 5h0m0-4h0m2 3h0m1 12h0m0 0h0m0-20h0m1 16h0m0-12h0m1-11h0m0 4h0m1 11h0m0 9h0m1 2h0m0-21h0m0-1h0m0 11h0m0 14h0m1-16h0m0 12h0m1-7h0m0-2h0m0 3h0m0-17h0m0 8h0m1 15h0m0-23h0m0 7h0m0 12h0m0-5h0m2-10h0m0 23h0m3-23h0m0 19h0m1-24h0m0 23h0m1 5h0m0-1h0m0-28h0m1 2h0m0 11h0m1-2h0m1-5h0m1 17h0m0-19h0m1 19h0m1-8h0m0 3h0m2-9h0m0 20h0m2-25h0m0 13h0m1-16h0m0 16h0m1-15h0m2 24h0m2-22h0m1 6h0m1 8h0m3-17h0m0 27h0m0-24h0m1 21h0m0 4h0m1-23h0m0 13h0m0 10h0m2-20h0m0 0h0m0-2h0m3 6h0m0-7h0m2 12h0m0-15h0m0 17h0m0-12h0m1 11h0m1 10h0m0-12h0m0 12h0m1-11h0m2 7h0m1-18h0m0 7h0m1-10h0m1 17h0m1-14h0m0 17h0m0-7h0m2 10h0m0-17h0m1 11h0m1-21h0m0 1h0m0 21h0m1-14h0m2 9h0m0 1h0m0-11h0m0-3h0m2-3h0m0 2h0m1 24h0m1-27h0m0 0h0m0 3h0m1 26h0m0-23h0m2-1h0m1 11h0m0-16h0m0 21h0m1-4h0m0-4h0m0 7h0m1-14h0m0 22h0m0-28h0m0 25h0m1-3h0m1 2h0m1-21h0m0 13h0m0 8h0m1-9h0m2-7h0m0 9h0m0-1h0m1 5h0m1-3h0m1-2h0m0-15h0m1 0h0m0 10h0m3-8h0m1 6h0m1 11h0m0-8h0m0 5h0m1 3h0m1-12h0m0 11h0m1 4h0m1-5h0m1 11h0m0-7h0m1-7h0m1-12h0m1 20h0m0 6h0m0-7h0m1-3h0m1-11h0m1 0h0m0-3h0m2-1h0m0 20h0m1 3h0m0-20h0m1 14h0m1-15h0m0 9h0m3-9h0m1 22h0m2-4h0m1-4h0m0-5h0m2 6h0m2-10h0m0-2h0m1 16h0m0-6h0m2 2h0m1 3h0m1-12h0m1 2h0m3-11h0m2 7h0m1-7h0m1 1h0m2 6h0m2-7h0m2 8h0m0-7h0m3-2h0m1 27h0m3-8h0m2-20h0m2 22h0m2 0h0m1 4h0m0-16h0m1 16h0m1-14h0m3 2h0m0 8h0m2-2h0m1-7h0m0 13h0m1-16h0m1-10h0m3 3h0m2 19h0m2-4h0m1-14h0m5 20h0m1 4h0m7-17h0m6 15h0m3-20h0m0 10h0m5 3h0m6 6h0m4 1h0m4-16h0m17 18h0m7-8h0m35-8h0m15 46h0m-4-19h0m-2 15h0m-10-24h0m-25 7h0m-20 18h0m-4-11h0m-2 13h0m-8 1h0m-12-22h0m-4 2h0m-6 6h0m0 7h0m-1 7h0m-6-27h0m-2 6h0m-5 17h0m-4-23h0m-8 24h0m-2-4h0m0 5h0m-4-12h0m0-3h0m-2-4h0m-2 5h0m-1-5h0m0 19h0m-1-15h0m0-1h0m-1 2h0m-1-8h0m-1 18h0m-2-22h0m-1 24h0m-2-21h0m-2 13h0m0-13h0m0 25h0m-1-28h0m-1 5h0m-1 2h0m-1-7h0m-1 20h0m0-1h0m-1 9h0m0-15h0m0-6h0m-2 13h0m-2 0h0m-1-11h0m-1-1h0m-1 19h0m-1-26h0m-1 1h0m0 5h0m-1 12h0m-1-17h0m-2 19h0m0-11h0m0 3h0m-2-13h0m0 8h0m0-2h0m0 20h0m0-5h0m-1-16h0m0 17h0m-1 4h0m0-19h0m-1-4h0m0 8h0m-4 9h0m-1-14h0m0 6h0m-1-1h0m0 7h0m0-7h0m-2 6h0m-2-10h0m-1 21h0m-3-18h0m0-2h0m-1 14h0m0 6h0m0-3h0m0 1h0m-1-27h0m0 7h0m0 1h0m-1 6h0m0-6h0m0-2h0m0 2h0m-1 18h0m0 2h0m-1-12h0m-2 0h0m-1 2h0m0-6h0m0-3h0m0 20h0m-1-13h0m0-12h0m-1-2h0m0 10h0m-3-8h0m-1 23h0m-1-4h0m0 1h0m-1-10h0m-3 15h0m0-1h0m0-23h0m0 10h0m-1 0h0m0-14h0m-1 27h0m0-13h0m-1-8h0m0 4h0m-1-4h0m-1 4h0m0 2h0m0-3h0m-1 3h0m-1 3h0m-1 0h0m0-7h0m-1-3h0m0-1h0m0-4h0m-1-1h0m0 26h0m0-15h0m-2 13h0m-1 3h0m0-25h0m0 12h0m-1 7h0m0-9h0m0-7h0m-1 14h0m0-5h0m-1-13h0m-1 9h0m-1 14h0m0 2h0m-1-16h0m0 19h0m-1-28h0m0 15h0m-1-8h0m0 3h0m0-7h0m-1 3h0m0 5h0m0 14h0m-1-17h0m0-2h0m-1 21h0m0-9h0m-1-11h0m-1 17h0m0-6h0m0 7h0m0-1h0m-1-13h0m-1 11h0m-1 4h0m0-11h0m-1-5h0m-1 10h0m0 6h0m-1 1h0m-1-6h0m0-14h0m-1 10h0m0-13h0m0 24h0m0-19h0m0 11h0m-1-5h0m-3-6h0m0 12h0m0 1h0m-1-15h0m-1 9h0m0 6h0m-1-10h0m0 11h0m0 2h0m-1-8h0m0-14h0m0 4h0m0 21h0m-1-18h0m0 2h0m-1 0h0m-2-4h0m-1 14h0m0-20h0m-1 26h0m0-18h0m-1 18h0m-1-22h0m0 15h0m0-11h0m-1 12h0m-1 5h0m0-13h0m0-12h0m-1-2h0m0 27h0m-1-13h0m0-9h0m0 2h0m-1-5h0m0 10h0m0-5h0m0-3h0m-1 12h0m0-10h0m0 17h0m-1-5h0m0-3h0m0-1h0m-1 10h0m0 3h0m0-4h0m-1-7h0m0 9h0m0-1h0m-1-19h0m0 13h0m-1 8h0m0-16h0m-1 1h0m0 12h0m0-15h0m0 6h0m-1-5h0m0-3h0m-1 2h0m0-3h0m0-4h0m-1 13h0m0 11h0m-1-7h0m-1-4h0m0 12h0m0-22h0m0 15h0m-1-6h0m0-14h0m0 21h0m-1 7h0m0-24h0m-1 8h0m0 15h0m0-13h0m-1-9h0m-1 19h0m-1-13h0m0-4h0m0 21h0m-1-11h0m0 10h0m0 1h0m0-22h0m0 22h0m-1-25h0m0 8h0m0 5h0m0-15h0m-1 22h0m0-21h0m-1 2h0m0 1h0m0-3h0m-1 9h0m0 5h0m-1 10h0m0-12h0m0-2h0m0 3h0m-1 13h0m0-13h0m-1 14h0m0-17h0m-1 5h0m0-15h0m0 10h0m-2-10h0m0 6h0m-2-8h0m0 7h0m-1 11h0m0-1h0m-1 3h0m-1-9h0m0 1h0m-1-12h0m0 21h0m0-1h0m-1-1h0m0-19h0m-1 0h0m0 22h0m0-10h0m0-10h0m0 23h0m-1 3h0m-1-15h0m0-3h0m0 8h0m0-17h0m0 15h0m0 5h0m-1-1h0m0-3h0m0 3h0m-2 1h0m0-3h0m0 8h0m0-17h0m0 10h0m-1 5h0m0-9h0m-1 6h0m0-7h0m0-8h0m-1 16h0m0 1h0m0 6h0m0 0h0m-1-1h0m0 1h0m0-3h0m-1 3h0m0-4h0m-2-16h0m0-8h0m0 17h0m-1 6h0m0-8h0m-1 13h0m0-13h0m-1 10h0m0-10h0m0-10h0m-1 9h0m0-7h0m0 14h0m-1-6h0m0-10h0m-1 8h0m0 10h0m0-7h0m-1 9h0m-1-12h0m0 13h0m0-11h0m0 4h0m-2 8h0m0-17h0m0-3h0m0 15h0m-1-11h0m-1-7h0m0 21h0m0 1h0m-1-11h0m0-10h0m0 4h0m-1 19h0m0-18h0m0 14h0m-1-21h0m-1-3h0m0 10h0m0 10h0m-1 7h0m-1-8h0m-1-15h0m-1 7h0m-1-5h0m0 19h0m-1-12h0m0-3h0m-1 10h0m-1-18h0m0 7h0m-1-9h0m-1 8h0m0 19h0m0-10h0m-1-10h0m0 9h0m0 5h0m-2-8h0m0-8h0m0-3h0m0 21h0m-1 4h0m-1-3h0m0-9h0m0 6h0m-1-20h0m-1 26h0m-1-2h0m0-22h0m0 14h0m0-9h0m0 17h0m-7-11h0m-1-3h0m0 14h0m0-3h0m-1-12h0m-2-1h0m0-6h0m-4 10h0m0-12h0m0 17h0m0 2h0m-2-10h0m0 3h0m0 1h0m-1-6h0m0 14h0m-3-8h0m0-8h0m0 20h0m-1-13h0m0-13h0m-2 9h0m-1 17h0m0-6h0m0-20h0m0 18h0m0 7h0m-1-18h0m-1 16h0m-1-13h0m0-10h0m-1 6h0m-1 18h0m-1-4h0m0 1h0m0-17h0m-2 6h0m0 7h0m0-9h0m-1 15h0m0-23h0m-1 14h0m0-6h0m-1 4h0m-1 11h0m-1-4h0m0-10h0m0-8h0m0-2h0m-1 6h0m0 22h0m-1-1h0m-1-1h0m-2-16h0m0 8h0m0-7h0m0 5h0m-1 5h0m0-6h0m-1 14h0m-1-27h0m-3 23h0m-1 3h0m0-4h0m-1-10h0m0 10h0m-2 3h0m-3-6h0m-1-14h0m-1-2h0m0 24h0m-2-16h0m0 9h0m-1-6h0m0-9h0m-1 11h0m-1-16h0m0-2h0m-2 27h0m0-12h0m-4-15h0m-1 13h0m-4-6h0m0-6h0m-2 27h0m-1-7h0m-1-6h0m0-7h0m-1 15h0m-6 0h0m0-22h0m0 20h0m-2 0h0m0-10h0m-1 6h0m-4-12h0m-1 11h0m-5-3h0m0 14h0m-2-13h0m-1 4h0m-3 8h0m-2-14h0m-9 2h0m-1-14h0m-4 27h0m-14-14h0m-13 14h0m-6-22h0m0 8h0m-2 9h0m-4 3h0m-1-22h0m-1 4h0m-3 21h0m-24-27h0m-17 18h0m-20 10h0m-83 26h0m29-15h0m28-8h0m28 17h0m11-8h0m28 17h0m9-1h0m2-10h0m6-7h0m10-7h0m9 5h0m0 20h0m6 1h0m0-22h0m0 5h0m3-4h0m3 17h0m2-2h0m0-14h0m2 6h0m1 8h0m4 6h0m0-3h0m3-5h0m0 0h0m1 5h0m2 3h0m6-1h0m1-1h0m4-27h0m2 7h0m3 18h0m1-4h0m1-7h0m1-8h0m1 8h0m0-9h0m0 22h0m1-7h0m0-19h0m1 6h0m1 17h0m3-9h0m3-10h0m3 16h0m0 7h0m4-7h0m3-12h0m2 16h0m1 2h0m2-1h0m0 3h0m1-24h0m0-5h0m0 3h0m1 22h0m1-15h0m3 1h0m1 17h0m0 0h0m1-14h0m1 8h0m0-14h0m0 15h0m1-9h0m0 15h0m5-10h0m0 5h0m2-16h0m1-8h0m1 24h0m1-7h0m0-6h0m2 5h0m0 13h0m1-15h0m1 11h0m0-3h0m1 4h0m0 3h0m1-6h0m0-3h0m1 7h0m0-20h0m0-1h0m1 1h0m0 9h0m0 6h0m1-7h0m1-15h0m0 17h0m0 12h0m0-29h0m1 26h0m0-18h0m2 13h0m2-19h0m2 3h0m0 9h0m0-4h0m1-6h0m0 4h0m1 7h0m0 12h0m1-6h0m1-15h0m0 14h0m1-10h0m1 7h0m1-3h0m0-5h0m3-4h0m0 22h0m0-6h0m1-18h0m0 26h0m0-3h0m0-24h0m1 13h0m1 0h0m0-4h0m0-3h0m1-4h0m0 7h0m1-10h0m0 28h0m1-9h0m0-9h0m1 10h0m0-9h0m1 2h0m0 11h0m0 1h0m1 1h0m0-25h0m0 5h0m1 15h0m0-3h0m0-9h0m1-6h0m0 1h0m0 0h0m2 19h0m0 3h0m1-10h0m0-2h0m0 14h0m1-14h0m0-1h0m1 4h0m1-6h0m0 6h0m0-9h0m0 2h0m0 17h0m1-21h0m0 20h0m0-5h0m0-11h0m1-4h0m2 12h0m0 9h0m0-10h0m0 6h0m0-5h0m1-3h0m0 7h0m0-23h0m0 28h0m1-4h0m0-11h0m0-9h0m1 10h0m1-2h0m0-6h0m0-4h0m0 14h0m1 11h0m0-26h0m1 9h0m0-7h0m1 20h0m0-2h0m1-8h0m0-8h0m1 20h0m2 4h0m0-2h0m0-5h0m0 2h0m1 3h0m0-7h0m1-17h0m0 3h0m0 14h0m0-8h0m1-8h0m0 24h0m1-15h0m0-10h0m1 18h0m0-13h0m0-6h0m0 26h0m1-10h0m0-6h0m0 6h0m1-10h0m0 14h0m1-17h0m0 6h0m0 18h0m0-13h0m0-16h0m0 25h0m1-21h0m1 13h0m1-5h0m0-4h0m0 3h0m0 10h0m0-19h0m1 27h0m1-11h0m1 8h0m0-21h0m1 15h0m0-14h0m1 17h0m0 0h0m3-10h0m0 11h0m0-13h0m1 13h0m0-7h0m0-13h0m1 12h0m1-14h0m0 24h0m0-18h0m0 18h0m1-15h0m0-4h0m0 22h0m0-19h0m1 3h0m0 9h0m0-7h0m0-13h0m0 10h0m1 4h0m0 5h0m0-4h0m0 1h0m0 9h0m0-15h0m0 9h0m1-18h0m0 26h0m1-3h0m0-17h0m1 11h0m0 0h0m1-10h0m1-9h0m0 27h0m0-21h0m0 5h0m1-6h0m0 16h0m1-21h0m0 27h0m0-6h0m0 1h0m1-6h0m0-9h0m0 5h0m0-8h0m0 8h0m1 16h0m0-9h0m0-5h0m0 14h0m0-15h0m0 7h0m1-13h0m0 6h0m0 5h0m1-14h0m0 20h0m1-6h0m0-5h0m1-9h0m0 16h0m0-10h0m2-11h0m0 24h0m0-15h0m0-1h0m0-6h0m1 14h0m0 13h0m1-24h0m0-4h0m0 24h0m0-12h0m0-7h0m0 22h0m1-15h0m1 12h0m0-12h0m0 5h0m1 10h0m0-1h0m0-12h0m1 3h0m1-3h0m0 3h0m0 9h0m0-16h0m0 15h0m0-6h0m1-8h0m0 6h0m1-7h0m0 12h0m0-20h0m1 8h0m1 11h0m1-7h0m0-5h0m0 6h0m1-1h0m0-5h0m1 7h0m0-12h0m1 7h0m0 2h0m0-3h0m0 7h0m1 2h0m0-6h0m0-4h0m0 9h0m1 8h0m0-8h0m0-11h0m0 20h0m0-9h0m0 10h0m1-7h0m0-7h0m1 8h0m0-12h0m1-9h0m0 16h0m0 10h0m0-3h0m0-18h0m1 19h0m0-17h0m0 13h0m1 5h0m0-10h0m0-9h0m0 2h0m0-2h0m1 1h0m0 18h0m1 1h0m0-14h0m0-10h0m1 7h0m0-2h0m1 13h0m0 1h0m0-9h0m0 15h0m1-6h0m0-9h0m0 0h0m1-1h0m0 16h0m0-23h0m1-6h0m0 24h0m1-8h0m0-6h0m0-9h0m0 26h0m1-10h0m0-4h0m2-3h0m0 6h0m0-10h0m1 11h0m0 3h0m0-13h0m0 2h0m0 19h0m1-14h0m1 1h0m0-3h0m0 8h0m0-7h0m0 0h0m1-12h0m1 20h0m0-16h0m1-1h0m0 5h0m0-9h0m1 1h0m0 25h0m1-26h0m0 8h0m1 18h0m0 3h0m1-4h0m0-8h0m0 3h0m1-18h0m1 5h0m0 9h0m0-14h0m0 4h0m0 12h0m1-12h0m0 22h0m0 1h0m0-23h0m0-3h0m1 17h0m0-11h0m0-7h0m0 16h0m1-7h0m0-5h0m0 5h0m1-1h0m0 0h0m0 10h0m0-9h0m0 10h0m1 0h0m0-5h0m0 7h0m0-9h0m1 12h0m0-10h0m1-3h0m0 12h0m1 0h0m0-18h0m1 17h0m0-17h0m1-7h0m0 20h0m0-19h0m1 24h0m0 1h0m0-11h0m0-4h0m1 4h0m2 7h0m0-6h0m1 1h0m0 0h0m0 12h0m1-20h0m1 15h0m1 5h0m0-24h0m1 14h0m1-5h0m0 2h0m0 9h0m1-2h0m0-7h0m0 12h0m0-2h0m0 1h0m1-4h0m0-13h0m0-6h0m1 4h0m0 3h0m0 15h0m2-16h0m1-2h0m1 18h0m0-17h0m1 5h0m0 1h0m1-13h0m1 0h0m0 17h0m1 3h0m1-8h0m0 13h0m0 1h0m0-25h0m1 22h0m0-21h0m0 9h0m0 3h0m1-3h0m0-12h0m1 22h0m1-21h0m0 4h0m0 20h0m2-16h0m0-5h0m1 3h0m2 21h0m1 0h0m0-22h0m1 20h0m0-21h0m0 15h0m0-18h0m2 23h0m0-23h0m0 9h0m0 9h0m1-1h0m0-12h0m0-6h0m0 15h0m1-6h0m0 1h0m1-3h0m0 8h0m0-14h0m0 6h0m1 4h0m0 6h0m1-14h0m1 10h0m1-8h0m1 16h0m2-23h0m1 18h0m0 2h0m0-11h0m1 8h0m0-15h0m0 22h0m1 3h0m0-16h0m0-11h0m1 5h0m0-3h0m1 15h0m1 1h0m1-4h0m0 3h0m1 5h0m0-14h0m0 18h0m0-7h0m3-7h0m0 6h0m0 4h0m1-7h0m0 2h0m1-5h0m1 4h0m0 7h0m0-13h0m1 6h0m2 5h0m1 1h0m0-21h0m0 14h0m3 10h0m1-22h0m1 15h0m0-1h0m0-10h0m1 13h0m0-18h0m1 6h0m1-3h0m0-3h0m2 5h0m1 19h0m2-17h0m0 19h0m0-4h0m1-20h0m0 18h0m0-22h0m3 2h0m0 27h0m1-20h0m0 3h0m1-11h0m1 14h0m1-9h0m0 3h0m2 14h0m0-11h0m2 9h0m0-20h0m1 28h0m1-25h0m1 23h0m0-12h0m4 4h0m0 2h0m4-12h0m4 19h0m1-25h0m1 3h0m0-6h0m0 12h0m1-12h0m0 29h0m0-11h0m3-12h0m1 20h0m0-1h0m0-16h0m3 11h0m0-19h0m1 10h0m1-2h0m1 15h0m2-3h0m5 7h0m2-21h0m0 8h0m4-15h0m0 13h0m2-12h0m1 17h0m1 6h0m0-1h0m7 4h0m0-21h0m3 19h0m0-5h0m0 1h0m2-10h0m3-3h0m1-2h0m5 11h0m0 6h0m0-9h0m10 11h0m1 1h0m4-10h0m11-13h0m1 9h0m2 5h0m5 7h0m1-7h0m36 9h0m45-19h0m11 4h0m-50 40h0m-24-20h0m-6 4h0m-31 7h0m0 12h0m-2-23h0m-5 9h0m0-10h0m-7 9h0m-2 3h0m-2-4h0m-1 10h0m-5 4h0m-4-10h0m-6 11h0m0-14h0m-1 13h0m-1-20h0m-1-1h0m-1 0h0m-1 3h0m-1 16h0m-3-15h0m-1 16h0m-1 8h0m0-9h0m0 5h0m-1-9h0m-1-14h0m-1 26h0m-1-18h0m-1-5h0m-2-4h0m-4 17h0m0-12h0m-1 18h0m-3-18h0m0 14h0m-2-19h0m0-1h0m-3 17h0m0-9h0m-1 1h0m-1 6h0m0 13h0m0-16h0m-1 11h0m0-22h0m-1 0h0m-1 6h0m0 14h0m-1-15h0m-2 2h0m0 16h0m-4-21h0m-4 9h0m0-3h0m0 5h0m-3 2h0m-1 10h0m-1-17h0m-1 3h0m0-6h0m-2 17h0m-1-20h0m0 4h0m-1 22h0m0 0h0m0-19h0m-1 15h0m0-16h0m0 17h0m-1-12h0m0 1h0m-1-8h0m-2-1h0m-1 21h0m-1-19h0m0-8h0m-2 4h0m0-3h0m0 12h0m0 15h0m-1-12h0m0 7h0m0-13h0m0 15h0m-1-7h0m0-5h0m0 2h0m-1 7h0m0-6h0m-2-6h0m0-2h0m0 6h0m-1 13h0m0 2h0m-1-18h0m-3-5h0m0-1h0m-2 6h0m-2-2h0m-1 10h0m0-14h0m0 15h0m0 7h0m-1-22h0m-1 12h0m-1-17h0m-2 8h0m0-4h0m-1 24h0m0-2h0m-1-8h0m-1-17h0m0 28h0m-1-10h0m-1-16h0m0 16h0m0-7h0m0 7h0m-1-11h0m-1 8h0m0 12h0m-1-22h0m0 13h0m-1-4h0m0 10h0m0-2h0m-2 4h0m0-12h0m-1-13h0m0 0h0m-1 6h0m-1-3h0m0-1h0m0 8h0m-1-2h0m-1 1h0m-1 8h0m-1-2h0m0-8h0m-1-9h0m0 14h0m-1 4h0m0 11h0m-1-21h0m0-1h0m0-4h0m0 5h0m0-5h0m0 12h0m-1-12h0m0 20h0m0-8h0m-2 0h0m0-9h0m0-3h0m-1-3h0m-1 1h0m-1 22h0m0-12h0m0-1h0m-1 10h0m-1-14h0m0 12h0m0-17h0m0 9h0m-1 18h0m0-10h0m0 5h0m0-19h0m-1 18h0m-1-4h0m0 5h0m-1-18h0m0 13h0m-1 4h0m0-11h0m0 13h0m-1 3h0m0-2h0m0 1h0m0-21h0m-1 17h0m0 7h0m0-7h0m-1-7h0m0-5h0m-1 3h0m0-6h0m0-7h0m0 26h0m-2-5h0m0 5h0m0-26h0m0 29h0m-1-16h0m0-7h0m0 19h0m0 3h0m-1-15h0m0 11h0m-2-14h0m0-9h0m-2 11h0m0-1h0m0 17h0m-1-17h0m0-10h0m0 18h0m-1 5h0m-1-18h0m0 12h0m0-4h0m0-13h0m0 24h0m-1 4h0m0-11h0m0 3h0m0 6h0m0-13h0m0 0h0m-1 0h0m0-7h0m0 21h0m0-1h0m-1-6h0m0 8h0m0 0h0m-1-24h0m0-5h0m0 28h0m0-6h0m0-5h0m-1 2h0m0 2h0m0-9h0m0 11h0m0-8h0m0 12h0m0 2h0m0-29h0m-2 26h0m0-13h0m-1 15h0m0-19h0m-1 16h0m0-19h0m-1-6h0m-1 1h0m0 22h0m0 6h0m0-14h0m0-11h0m0 4h0m0 13h0m-1-5h0m-1 13h0m0-29h0m0 17h0m0 11h0m0 1h0m-1-23h0m0 16h0m0-8h0m0 8h0m0 2h0m-1-16h0m0 16h0m0-7h0m-1-10h0m0 13h0m0 0h0m-1-9h0m0 11h0m0-6h0m-1 0h0m0-8h0m0 0h0m0 20h0m-1 0h0m0-19h0m0-2h0m-1 10h0m-1-8h0m0 14h0m0-3h0m-1 9h0m0-29h0m0 6h0m0 4h0m0 18h0m-1-17h0m0 13h0m0-22h0m-1 18h0m0 6h0m0-24h0m0 19h0m-1 3h0m-1-7h0m-1-5h0m0 14h0m-1-24h0m0 12h0m0-4h0m0-9h0m-1 12h0m0 6h0m0-5h0m0 10h0m0-3h0m0-14h0m-1 17h0m0-22h0m0 17h0m0-9h0m0 2h0m-1-8h0m0 0h0m0 10h0m0 5h0m0-9h0m-1 1h0m0-7h0m0 19h0m-1 4h0m0-5h0m0-6h0m-1-13h0m0 25h0m0-2h0m-1-25h0m0 15h0m-2-2h0m-1 7h0m0-11h0m-1-8h0m0 19h0m0-18h0m0-2h0m-1 28h0m0-11h0m0 2h0m0-10h0m-1 7h0m0-9h0m0 8h0m-1 5h0m-1 4h0m0-20h0m0 16h0m-1 3h0m-1-16h0m0 8h0m-1 3h0m0 4h0m-1-12h0m0 2h0m0-11h0m0 17h0m-1 6h0m0-10h0m0 14h0m0-5h0m-1-6h0m0 6h0m0-6h0m0 6h0m-1-1h0m0 1h0m0 5h0m0-12h0m0-17h0m-1 12h0m0 11h0m-1 3h0m0 3h0m0-15h0m-1 1h0m0 9h0m0-14h0m0 2h0m-1 5h0m0-4h0m0 7h0m-1-13h0m0 18h0m0-18h0m0-3h0m-2 4h0m0-3h0m0 9h0m0 13h0m-1-27h0m-1 21h0m0-7h0m0-3h0m-1 17h0m0-4h0m0 4h0m0-16h0m0-1h0m-1 5h0m0-12h0m0 12h0m0 12h0m0 0h0m-1 1h0m0-24h0m-1 12h0m0-6h0m-1-9h0m0 26h0m0-17h0m0 10h0m-1-5h0m0 0h0m0-12h0m0 20h0m0-19h0m-1 7h0m0 1h0m0 0h0m0 5h0m-1-2h0m0 3h0m0-16h0m0 17h0m-1-15h0m-1 14h0m0-19h0m-1 27h0m0-2h0m0-21h0m0 16h0m0-3h0m0-3h0m0-14h0m-1 22h0m0-5h0m0 8h0m-1-7h0m0-3h0m0-6h0m-1 6h0m0-13h0m-1 23h0m0-13h0m0 1h0m-1 15h0m-2-22h0m0 14h0m0 8h0m0-1h0m-1-12h0m0 12h0m0-27h0m-1 8h0m-1 5h0m0 6h0m0-6h0m0-5h0m0-3h0m-1 11h0m0-8h0m-1-5h0m0-3h0m-1 17h0m0-12h0m-1 6h0m-1 11h0m0 7h0m0-14h0m0 0h0m0 0h0m0-14h0m-2 24h0m0-4h0m0-2h0m0-4h0m0-13h0m0 26h0m-1-9h0m0-4h0m0-11h0m0 25h0m-1-28h0m0 0h0m0 15h0m-1-2h0m0 0h0m-1 9h0m-1-21h0m0 17h0m0-16h0m0 9h0m-1-6h0m0-1h0m0 18h0m0 2h0m0 0h0m-1-1h0m0-18h0m0 14h0m-1 0h0m0 8h0m0-27h0m-1 13h0m0 3h0m-1 7h0m0-19h0m0 21h0m0-4h0m-1-6h0m0-6h0m-1 3h0m0 8h0m0-20h0m-1 9h0m0 14h0m0-1h0m0-19h0m0 9h0m0 3h0m-1-6h0m0 19h0m-1-19h0m0 14h0m0-6h0m0 4h0m0-7h0m0 13h0m0-25h0m-1 10h0m0 15h0m0-26h0m0 19h0m-1-11h0m0 0h0m-1-10h0m0 14h0m-1 11h0m0-10h0m-1-4h0m0-4h0m-1 7h0m0-6h0m-1-5h0m0 3h0m-1 4h0m-1 8h0m0-15h0m-1 9h0m-1-7h0m0 2h0m-1-1h0m-1 2h0m0 10h0m-1-17h0m0 15h0m0-2h0m0-2h0m0-8h0m-1 3h0m-1 9h0m0 0h0m0-5h0m-1-2h0m0 15h0m-1 5h0m0-22h0m0 14h0m-1-13h0m0 1h0m-1 6h0m0 9h0m-1-21h0m0 18h0m0-1h0m-1-15h0m0 14h0m0 6h0m0-10h0m-1-14h0m0 9h0m0-10h0m0 18h0m-1-6h0m0 10h0m-1-18h0m0-2h0m-1 3h0m0-1h0m-1 9h0m0 3h0m0-3h0m0-13h0m-1 21h0m-1-9h0m0 14h0m-2-7h0m0-10h0m-1 14h0m-1 2h0m-1-19h0m0 21h0m-1-11h0m0-8h0m0 2h0m-1 19h0m-2-4h0m-2-24h0m0 11h0m0 10h0m-1 7h0m0-15h0m0-13h0m0 25h0m0-9h0m-1 3h0m-1-2h0m-1-8h0m-1 12h0m-1-8h0m0-10h0m-1 23h0m0-21h0m-1 16h0m-1 6h0m0-20h0m-1 8h0m0-14h0m-1 15h0m0-15h0m-2 20h0m0-22h0m-2 27h0m0-24h0m-1 2h0m-1-1h0m-2-3h0m0 21h0m-2-15h0m0 5h0m-1 7h0m-1 9h0m-4-20h0m0 10h0m0-1h0m0 6h0m0-23h0m-2 7h0m-2-1h0m0 14h0m-1 4h0m-2-18h0m-1-5h0m-2 0h0m0 23h0m-1-23h0m-4 3h0m0 6h0m-1-3h0m-2-2h0m-1 23h0m-7-25h0m-2 9h0m0-11h0m-1 10h0m-1-10h0m-2 22h0m-2 6h0m-6-14h0m-1-6h0m-1 20h0m-2-2h0m-2-26h0m-1 12h0m-2-1h0m-8-10h0m-2 9h0m-1 3h0m-2 14h0m-9-14h0m-3 14h0m-13-4h0m-1-8h0m-2-15h0m-9 8h0m-6 19h0m-31-21h0m0 14h0m-54-1h0m-8-1h0m-70 11h0m94 7h0m10-1h0m23 15h0m10-8h0m7 12h0m4 0h0m23-7h0m0-18h0m14 21h0m4-15h0m5 10h0m0 2h0m2-7h0m3 15h0m2-2h0m1-20h0m2 22h0m0-5h0m1-20h0m0 0h0m1 1h0m5 10h0m0 10h0m2-13h0m2 2h0m0 18h0m0-28h0m0 17h0m1 1h0m1-4h0m0 3h0m4-2h0m0-3h0m2 12h0m0-1h0m0-6h0m0 11h0m3-20h0m2 0h0m2 7h0m0 9h0m0-24h0m2 8h0m0 15h0m0-2h0m6 2h0m1-7h0m2-3h0m2-13h0m1 14h0m0-12h0m0 11h0m1-3h0m0 10h0m3 1h0m2-20h0m0 14h0m1 2h0m0-5h0m1 13h0m1-20h0m0 15h0m1-12h0m1-3h0m0 14h0m1-14h0m0-4h0m1-1h0m1 22h0m1-15h0m1 11h0m0-9h0m1-3h0m1 11h0m0 6h0m0-10h0m0-14h0m3 20h0m1-17h0m0 11h0m1 2h0m0-12h0m2 25h0m1-10h0m1 7h0m1-21h0m0 9h0m1-3h0m1 7h0m0-18h0m0 11h0m2 9h0m1 5h0m0-17h0m1 17h0m1-23h0m1 7h0m2-3h0m1 1h0m0 10h0m1-11h0m0 3h0m1-6h0m0 23h0m0-24h0m1 10h0m0-11h0m1 6h0m0 21h0m1-2h0m0-4h0m0-21h0m2 26h0m0-26h0m0 7h0m1 15h0m1 6h0m1-24h0m1 4h0m1 5h0m0-2h0m0 5h0m0-1h0m0-9h0m1-4h0m0-1h0m1 22h0m1 2h0m0-14h0m0 10h0m1-2h0m0-6h0m1 3h0m1 5h0m1-17h0m1 21h0m0-3h0m0 1h0m1-17h0m0 22h0m1-11h0m0-4h0m0 4h0m1-4h0m1 14h0m1-4h0m0-2h0m0 5h0m1-4h0m0-3h0m0-17h0m1 22h0m0-14h0m0 4h0m0-9h0m1 11h0m0-1h0m0-9h0m1 17h0m2-16h0m0 13h0m1-15h0m0 8h0m0-4h0m0 10h0m1 0h0m0-5h0m1 13h0m0-19h0m0 7h0m0-7h0m1-2h0m0 9h0m0-1h0m0-7h0m1 6h0m0-8h0m1 2h0m0 7h0m0 6h0m0-16h0m0 18h0m0-19h0m0 22h0m1-18h0m0-2h0m1 7h0m2-4h0m0 9h0m0-8h0m0 18h0m1-2h0m1-3h0m1-18h0m0 8h0m0 14h0m0 0h0m2-16h0m0-4h0m1 13h0m0-2h0m1-8h0m1 18h0m1 1h0m0-29h0m0 9h0m0 9h0m0 8h0m0-16h0m1 6h0m0-4h0m0-7h0m2-1h0m1 11h0m0-7h0m0 2h0m1-2h0m0 21h0m0-12h0m0 7h0m0-5h0m0-5h0m1 1h0m1-6h0m0-7h0m0 5h0m0 9h0m0-14h0m1 27h0m1-13h0m0-2h0m1 3h0m0-7h0m0-1h0m1 17h0m0-11h0m1 3h0m0-4h0m0 14h0m0-23h0m1 0h0m0-2h0m0 14h0m0-14h0m0-1h0m0 4h0m1 1h0m1-3h0m0 19h0m0-5h0m3 11h0m0-18h0m0 7h0m0-15h0m0-1h0m0 0h0m0 3h0m1-1h0m0 25h0m0-6h0m0-11h0m0-1h0m1-8h0m0 3h0m0 8h0m0-8h0m0-3h0m1 11h0m0-14h0m0 7h0m0 0h0m0 11h0m1 6h0m0-1h0m1-23h0m0 27h0m1-12h0m0-9h0m0-1h0m0-4h0m0 15h0m0-6h0m0 5h0m1-10h0m0 2h0m1 15h0m1-16h0m0-1h0m0 14h0m1 7h0m0-8h0m1 5h0m1 5h0m0-9h0m0 9h0m0-28h0m1 21h0m0-1h0m1 5h0m2-10h0m0-11h0m1 20h0m0-13h0m0 9h0m1-11h0m0 1h0m1 3h0m0-12h0m0 8h0m0 18h0m0-19h0m0 6h0m1 12h0m0 2h0m1-7h0m0-8h0m1 12h0m0-16h0m0 15h0m1-22h0m0 20h0m1-19h0m0 11h0m0 13h0m1-24h0m1 5h0m0 11h0m0 9h0m1-12h0m0 0h0m0 4h0m1-3h0m0 7h0m0 3h0m0-20h0m0-3h0m0 9h0m1 14h0m0-27h0m0 22h0m1-15h0m1 8h0m0 3h0m0-18h0m0 17h0m0-10h0m0 16h0m1-4h0m1 3h0m0 5h0m1-2h0m0-19h0m0 2h0m1 14h0m0-14h0m1 6h0m0 10h0m0-19h0m0 16h0m0-9h0m1 1h0m0-6h0m1 2h0m0 8h0m0 9h0m1-7h0m0-2h0m0-5h0m1 7h0m0-19h0m0 5h0m0 22h0m1-1h0m0-11h0m0-8h0m0 1h0m1 13h0m0-1h0m0-18h0m0 24h0m0-20h0m1-5h0m0 3h0m0 14h0m0-4h0m1 12h0m2-21h0m1 11h0m0 9h0m0-4h0m1-5h0m1-16h0m0 0h0m0 5h0m0 5h0m0-10h0m0 22h0m1 3h0m1-18h0m0 22h0m0-7h0m0-5h0m1-16h0m0 12h0m0-3h0m0 18h0m1-8h0m0-7h0m3-13h0m0 5h0m0 0h0m1 4h0m0 8h0m0-16h0m0 17h0m0 0h0m1 0h0m0 5h0m1-4h0m0 5h0m0-2h0m1-8h0m0 10h0m1 1h0m0-5h0m1-16h0m0 20h0m1-17h0m0 9h0m0-2h0m0 8h0m0-9h0m1-5h0m0 21h0m0-11h0m1-2h0m0-8h0m1 14h0m0 6h0m0-23h0m0 24h0m1-24h0m0 3h0m1 12h0m0-19h0m1 16h0m0 2h0m1-5h0m0 8h0m1-15h0m0 3h0m0 12h0m0-11h0m0 0h0m0-1h0m1 9h0m0-6h0m0-6h0m1 2h0m0 18h0m0-16h0m0 1h0m1-11h0m0 11h0m1 13h0m0-7h0m1-10h0m0 18h0m0-15h0m0 6h0m1-2h0m1-13h0m0 24h0m0-9h0m0-1h0m1-4h0m0 12h0m1 1h0m0-13h0m1 6h0m0 3h0m0-19h0m0 23h0m1 0h0m1-14h0m0 5h0m2 7h0m0-4h0m1 8h0m0-3h0m0-18h0m0-5h0m0 4h0m1 14h0m0-1h0m1 3h0m0 7h0m0-3h0m1-22h0m0 25h0m0-5h0m1 2h0m0 2h0m1-6h0m0-20h0m0 9h0m1 13h0m1-16h0m0-3h0m0 14h0m0-11h0m1 6h0m0-3h0m2-5h0m0-5h0m0 2h0m1 17h0m0 6h0m0-12h0m1-13h0m0 3h0m0 24h0m1-7h0m0 0h0m0-7h0m1-5h0m1 8h0m0-12h0m1 3h0m0 8h0m0 4h0m1 0h0m1-14h0m0 22h0m0-10h0m0 3h0m0 5h0m0-2h0m1-5h0m0-14h0m1 20h0m1 2h0m2 2h0m0-1h0m1-22h0m1 21h0m1-7h0m0-8h0m1-4h0m1 19h0m1 0h0m0-17h0m1 8h0m3 4h0m0 8h0m0-21h0m1 4h0m0 14h0m1-18h0m1 3h0m0-6h0m0-4h0m2 19h0m0-5h0m0-13h0m1 11h0m0-5h0m0 19h0m1-16h0m0 6h0m1 12h0m1-12h0m0 7h0m0-24h0m3 11h0m1 10h0m0-1h0m0-15h0m0 21h0m1-22h0m0 20h0m1 3h0m0-10h0m1 1h0m1 3h0m0-21h0m0 29h0m1-28h0m0 11h0m0 7h0m1 10h0m1 0h0m0-10h0m1 6h0m1-23h0m0-2h0m0 24h0m2-5h0m1-6h0m0 1h0m2-14h0m3 8h0m1 8h0m1-2h0m0 13h0m0-21h0m1-3h0m2 25h0m0-25h0m0 16h0m0 8h0m0-24h0m0 19h0m1-12h0m1 16h0m0-22h0m1 16h0m0-9h0m4 4h0m0 8h0m1-23h0m1 5h0m1 16h0m0-16h0m1 24h0m0-12h0m1 6h0m3-23h0m2 8h0m1 5h0m0 7h0m2-7h0m1-6h0m1 21h0m2 0h0m0-11h0m0-4h0m2-13h0m0 7h0m1 9h0m0-14h0m1 1h0m1 12h0m1 1h0m0-5h0m1-9h0m3 20h0m7-10h0m4-10h0m0 24h0m2-7h0m1-16h0m0 11h0m4-2h0m2 14h0m1 3h0m1-12h0m2-8h0m3 0h0m0 0h0m3 12h0m0-10h0m2-1h0m2 9h0m2-16h0m3 11h0m9 3h0m3 12h0m3-20h0m1 17h0m2-24h0m2 25h0m0-24h0m2 23h0m15 2h0m0-19h0m10 3h0m0 13h0m2-1h0m10-21h0m20 13h0m3-2h0m-40 19h0m-2 2h0m-3 5h0m-2 13h0m-4-21h0m-7 8h0m-20-8h0m-4 7h0m-4 8h0m-2-6h0m-4-4h0m-1 5h0m-3 9h0m0-16h0m-2 6h0m-2 13h0m-3 1h0m-2-11h0m-1 11h0m0 3h0m0-11h0m-2-14h0m-2 19h0m0-20h0m-7 9h0m-4 5h0m0-6h0m-2-8h0m-4 8h0m-1-8h0m-1 8h0m0 13h0m-3-11h0m0-6h0m-2 6h0m-3 13h0m-1-8h0m-1-9h0m0-6h0m-1 22h0m-1-15h0m-2 16h0m-1-1h0m-2-23h0m0 7h0m-2 15h0m-1-8h0m-1-7h0m0-1h0m0 10h0m-1-1h0m-3-7h0m-3 17h0m-1-8h0m0 0h0m-3-10h0m0-8h0m0 6h0m-1 9h0m0-10h0m-2-3h0m-1 5h0m-2 19h0m-1-26h0m-1 4h0m0 9h0m0-10h0m0 26h0m-1-7h0m-1-19h0m0 25h0m-1-10h0m0-10h0m0-6h0m0 20h0m-1-19h0m-2 10h0m-1-13h0m-1 10h0m-2 12h0m-1-12h0m-1-3h0m-1-4h0m0 10h0m-1-9h0m-2 2h0m-1-6h0m0 29h0m-1-4h0m-1-25h0m-4 6h0m0 17h0m-1-1h0m0-13h0m0 16h0m0-21h0m0 4h0m-1 8h0m0-15h0m0 7h0m0 12h0m-1 8h0m0-13h0m0-3h0m0 1h0m-1 0h0m-3 7h0m0-20h0m0 7h0m0 5h0m-1-2h0m-1 18h0m0-17h0m0 13h0m-2-2h0m-1 2h0m-1-1h0m-1-11h0m0 5h0m-1 5h0m0-18h0m-1-2h0m0-2h0m-1 20h0m0-1h0m0-17h0m0 13h0m0 4h0m-1-18h0m-1 11h0m0 16h0m0-25h0m0 21h0m-1-20h0m0 22h0m0-21h0m0-2h0m0 20h0m-2-20h0m0 10h0m0-7h0m-2 14h0m-1-16h0m0 24h0m-1-24h0m0 1h0m0-5h0m-1 4h0m0 10h0m-3 1h0m0-8h0m-1 15h0m0 7h0m0-6h0m0-12h0m-1-6h0m0 1h0m0 12h0m0 1h0m0-3h0m-1-16h0m-1 15h0m0-3h0m-1-2h0m0 9h0m0-16h0m0 15h0m-1 3h0m0-21h0m-1 3h0m0 15h0m0 10h0m-1-10h0m-1-6h0m0-2h0m0 19h0m0-20h0m-1 8h0m0-9h0m-1 6h0m0 12h0m-1-14h0m-2-1h0m0 18h0m0-16h0m-1-6h0m0-4h0m-1 20h0m-1-23h0m0 4h0m0 8h0m-1-12h0m0 6h0m-1 6h0m0 12h0m0-2h0m0-15h0m-1 3h0m0-3h0m-1-1h0m0 18h0m-1-7h0m0-17h0m0 26h0m0-18h0m-1 15h0m0-8h0m-1 4h0m0-18h0m-1 21h0m0-18h0m-1 11h0m0-13h0m0 4h0m0 0h0m0-1h0m0-1h0m-1 16h0m-1-12h0m0 2h0m0-2h0m-1 4h0m0-1h0m0-3h0m-1 16h0m0-15h0m-1-7h0m0 8h0m0 0h0m0-2h0m0-2h0m0 3h0m-2 11h0m-1-18h0m0-2h0m-1 0h0m0 9h0m0 2h0m0-4h0m-1 4h0m0 18h0m0-18h0m0 4h0m-1 13h0m0 0h0m-1-5h0m0-19h0m0-1h0m0 25h0m0-4h0m-1-8h0m-2 9h0m0-12h0m0-10h0m0 25h0m0 1h0m-1-6h0m0-8h0m-1-10h0m0 9h0m-1-11h0m0 24h0m0-20h0m0-5h0m-2 11h0m0 8h0m-1 2h0m-1-18h0m0 17h0m0-4h0m-1-5h0m0 5h0m0-8h0m-1 5h0m0-14h0m-1 12h0m-1 16h0m0-4h0m-1-19h0m0 18h0m0-20h0m-2 1h0m0 9h0m-1-5h0m0-7h0m0 19h0m-1 0h0m0-6h0m0-8h0m-1 19h0m0-12h0m0-14h0m-1 0h0m0 4h0m-1 10h0m-1-11h0m0 8h0m-1 6h0m0-16h0m0 9h0m-1 3h0m0 7h0m-1-19h0m0 14h0m-1-9h0m0 8h0m0 2h0m-1 13h0m-1-11h0m0 11h0m0-17h0m0 14h0m-1-14h0m0 7h0m0-6h0m0 6h0m-1-4h0m-1-9h0m0 2h0m0 5h0m0 1h0m-1 5h0m0-11h0m0-8h0m-1 16h0m-1-2h0m0 13h0m0-18h0m0-9h0m-1 1h0m0 16h0m0-8h0m-1 1h0m0 4h0m-1 6h0m0-2h0m0-18h0m-1 21h0m-1 1h0m-1 2h0m-1-6h0m-1 7h0m0-4h0m-1-16h0m0 5h0m0 5h0m-1 4h0m0-5h0m-1 12h0m0-19h0m-1 2h0m-1-7h0m-2 22h0m0 5h0m0-26h0m0 23h0m0-22h0m-1 17h0m0-15h0m-1 0h0m0 20h0m0-2h0m-1 5h0m0-1h0m0-21h0m0-3h0m0 21h0m-1 3h0m-1-11h0m0 5h0m0-21h0m-1 17h0m0-16h0m0 4h0m0 6h0m-1-8h0m0 19h0m-1-13h0m0 8h0m0-2h0m-1-5h0m0 3h0m0-6h0m-1-6h0m0 27h0m-1-15h0m0-10h0m0-4h0m0 6h0m-1 12h0m-1-14h0m-2 23h0m-1-10h0m0 0h0m-1 3h0m0 3h0m0-12h0m0-5h0m0 3h0m-1-5h0m-1 19h0m0 1h0m-1-5h0m0 1h0m0-3h0m0 8h0m0-1h0m-1-17h0m-1 9h0m0-14h0m0 26h0m-3-13h0m0-15h0m0 1h0m-1 5h0m0 22h0m0-19h0m-1-3h0m-1 9h0m0 6h0m0 5h0m-1-20h0m0 2h0m-1 0h0m-1 12h0m-1-16h0m-1-4h0m0 4h0m0 23h0m-1-18h0m0-8h0m-1 9h0m0-4h0m0 8h0m-1 8h0m-1-7h0m0-15h0m0 6h0m-1-5h0m-1 20h0m0-1h0m0-3h0m-2-1h0m0-5h0m-1-6h0m0 6h0m0 9h0m-2-2h0m0-4h0m0 4h0m-1-4h0m0-10h0m0 25h0m0-28h0m-1 10h0m0 10h0m-1-7h0m-1 8h0m0-17h0m0 8h0m-2 6h0m0-12h0m0 20h0m-1-10h0m-2-14h0m-1 6h0m0-2h0m0 13h0m-1-6h0m0-2h0m0 17h0m-1-14h0m-2-2h0m-2 7h0m0-4h0m-1-15h0m-1 8h0m-1-1h0m-2 9h0m0-10h0m-1 0h0m-1 5h0m-1-4h0m0 12h0m-2-4h0m0-12h0m-2 14h0m0-14h0m-3 6h0m0-3h0m-2 1h0m0-3h0m-1 9h0m0 14h0m-1-4h0m0 4h0m-1-27h0m-2 16h0m-1 0h0m0 1h0m-1-7h0m0-4h0m0 6h0m-1 0h0m-1-7h0m-1 12h0m0 5h0m-4-20h0m-2 10h0m0 8h0m-1-11h0m-1-3h0m0 8h0m-1-13h0m-1 16h0m-2-3h0m0-2h0m-2-9h0m-3 22h0m-1-11h0m-8 6h0m-1-2h0m-5-18h0m-3 6h0m-2-3h0m-3 4h0m0 14h0m-1-12h0m0 11h0m0-11h0m-2 6h0m-2 6h0m0-4h0m-1-13h0m-5 14h0m-4-14h0m0 15h0m-2 2h0m-1-14h0m0-8h0m0 19h0m-6 5h0m-2 3h0m0-12h0m-1 11h0m-3-15h0m0 16h0m-4-3h0m-7-10h0m0 3h0m-2-5h0m-2-8h0m-5 25h0m-1-23h0m-20 3h0m-16 13h0m-23-8h0m22 25h0m11 13h0m10-21h0m4 25h0m1 1h0m6-19h0m3 7h0m0-13h0m7 12h0m12 12h0m6-22h0m3-1h0m1 25h0m0-10h0m5-13h0m1 3h0m0-6h0m0 1h0m2 23h0m1-24h0m4 22h0m0-1h0m1 0h0m0-10h0m0 6h0m3-8h0m2 0h0m1-5h0m8 16h0m2-18h0m1-4h0m2 24h0m2-14h0m1 8h0m4-4h0m1-6h0m1 14h0m0 6h0m2-17h0m0 15h0m6 3h0m1-1h0m1-7h0m0-20h0m2 20h0m0-4h0m0-7h0m3-2h0m0 6h0m0 1h0m1 11h0m0-20h0m1-6h0m0 7h0m1-7h0m1 9h0m1 16h0m2 0h0m0-16h0m1 18h0m3-11h0m1 4h0m0-10h0m1 13h0m1-6h0m1 1h0m1 1h0m1-13h0m1 1h0m1 20h0m0-24h0m0 4h0m0 13h0m0-1h0m2 5h0m0-7h0m0 2h0m1-15h0m1 6h0m2 17h0m0-24h0m0 26h0m2-25h0m0 17h0m0-17h0m0 6h0m1 13h0m0-15h0m1 1h0m1 18h0m0-7h0m0-13h0m0-5h0m1 16h0m1-18h0m0 27h0m0-17h0m3 7h0m1 1h0m0-12h0m1-2h0m0-4h0m0 27h0m2-22h0m0 7h0m3 5h0m0 6h0m0 5h0m1-3h0m3-10h0m0-11h0m1 4h0m0 18h0m1-2h0m1-18h0m1 19h0m0-23h0m0 23h0m1-8h0m0-3h0m1 3h0m0-9h0m1-1h0m0-1h0m2 0h0m1-6h0m0 2h0m3 22h0m1 1h0m0-20h0m0 2h0m0 3h0m2 1h0m1-3h0m1-2h0m0 2h0m0 12h0m2-3h0m0 0h0m1 5h0m0-16h0m0-6h0m0 10h0m1 0h0m0 2h0m0 6h0m0-5h0m0 5h0m0-18h0m0 29h0m1-13h0m1 2h0m1-16h0m1 1h0m0 26h0m1-28h0m0 12h0m1 2h0m1-7h0m1 11h0m1-18h0m2 28h0m1-6h0m1-6h0m0 2h0m1-13h0m0 6h0m1 6h0m0 5h0m1-5h0m0-14h0m0 20h0m1-6h0m1-1h0m2 8h0m0-17h0m0 16h0m2 4h0m0-15h0m0-3h0m0 9h0m1-4h0m0-9h0m0-4h0m1 4h0m0 12h0m1-7h0m1 10h0m0 2h0m0-3h0m0-15h0m0-3h0m1 27h0m1-16h0m0 9h0m1-18h0m1 4h0m1 6h0m1 12h0m1-8h0m0-1h0m0-2h0m0 1h0m1-11h0m0-2h0m2 11h0m1 9h0m1-14h0m0 19h0m0-14h0m1-11h0m0 18h0m0-8h0m0 6h0m1-16h0m1 11h0m0 5h0m1-16h0m0 11h0m0-10h0m0 21h0m1-22h0m1 5h0m1 8h0m1-15h0m0 10h0m1 11h0m0-2h0m0-9h0m0 5h0m1 2h0m0-2h0m2 13h0m0-22h0m1 13h0m1-5h0m0-11h0m0 8h0m2-8h0m2 16h0m0-15h0m0 9h0m1 2h0m0 6h0m0-14h0m1 4h0m0-11h0m1-1h0m0 3h0m1 3h0m0-5h0m2 28h0m1-10h0m1-3h0m0-12h0m0 1h0m1 21h0m0-11h0m1-12h0m1 12h0m0 3h0m0-1h0m3-2h0m2 2h0m1 7h0m1 1h0m0-3h0m0-7h0m0 10h0m0-14h0m0-9h0m1 4h0m1 11h0m0-4h0m2-5h0m0 15h0m0 5h0m2-7h0m0-9h0m0-12h0m0 3h0m0 9h0m0-10h0m1 16h0m0-2h0m1-7h0m0 10h0m0 1h0m1-1h0m0 6h0m0 0h0m0-17h0m1 9h0m1-10h0m0 10h0m0 4h0m1-4h0m0 4h0m1-7h0m1-7h0m0-6h0m1 5h0m1 2h0m1 9h0m0 7h0m1-1h0m1-5h0m0-8h0m1 0h0m0-3h0m0-2h0m1 16h0m0 3h0m0-23h0m1 13h0m1 11h0m0-11h0m0-7h0m0 6h0m1-1h0m1-11h0m1 16h0m0-11h0m1 21h0m2-23h0m0-3h0m1 26h0m1-26h0m1 10h0m0 0h0m0 12h0m1-20h0m1 0h0m1 24h0m0-24h0m1 12h0m1-10h0m2 13h0m1 4h0m0 0h0m1-17h0m0 4h0m0 13h0m0-10h0m0-10h0m1 0h0m1 11h0m0 15h0m1-5h0m1-19h0m1 17h0m0 6h0m1-11h0m1-2h0m0 3h0m1-14h0m0 11h0m2 9h0m1 1h0m1-11h0m2 11h0m1-14h0m1 2h0m2 2h0m0-10h0m1 25h0m2-14h0m2 1h0m0-12h0m1 16h0m0-15h0m2 6h0m0 8h0m0 2h0m2-2h0m1-14h0m2-2h0m0 3h0m1 20h0m3 0h0m1-23h0m0 8h0m1-11h0m0 14h0m3 14h0m0-16h0m5-4h0m1 11h0m1 2h0m2-20h0m1 0h0m0 0h0m1 19h0m0-13h0m1 13h0m2-6h0m3-7h0m3-4h0m3 5h0m2 3h0m1 0h0m1-4h0m0 8h0m2-4h0m0 3h0m1 9h0m1-14h0m1-4h0m0-3h0m0 20h0m2-17h0m0-3h0m1 6h0m2 19h0m1-20h0m3-4h0m0 23h0m1 2h0m0-20h0m0 3h0m1-8h0m2 8h0m2 0h0m6-11h0m2 27h0m3-16h0m10 18h0m2-19h0m4 0h0m0-9h0m1 18h0m24-7h0m10-12h0m1 23h0m19-17h0m-72 25h0m-17-1h0m-9 1h0m-5 15h0m-9 0h0m-8-9h0m0 11h0m-5-3h0m-1-4h0m-1-2h0m-5 1h0m-2-6h0m-1 22h0m-3-23h0m-4 4h0m-1-6h0m-4 14h0m-1-10h0m-3 5h0m-1 6h0m0-3h0m-1-3h0m-1-2h0m0-4h0m0 2h0m-2-6h0m0 12h0m-2 5h0m-1-8h0m0 6h0m-7 2h0m-1-16h0m0-1h0m0 12h0m-2-9h0m-1 6h0m-1 2h0m0-11h0m-1 26h0m-1-22h0m-1 5h0m0-5h0m0 20h0m0-24h0m-1 29h0m0-24h0m-1 5h0m-2 10h0m-1-9h0m0 0h0m-1-11h0m0 1h0m-2 24h0m-1-16h0m-3 1h0m0-5h0m-5 4h0m-6-2h0m0 9h0m0-9h0m-2 2h0m-1 11h0m-1-12h0m0-7h0m-1 19h0m0-6h0m0-6h0m-1 20h0m-1-23h0m-1 19h0m-1-19h0m-1 12h0m-3-1h0m-3-15h0m-2 18h0m-3-11h0m-2 17h0m-1-9h0m0 0h0m-2-1h0m0-8h0m-1-7h0m-2 4h0m-1-2h0m0 15h0m0-4h0m-1-6h0m-1 20h0m0-17h0m-4 12h0m-1-17h0m-1-3h0m-1 15h0m0-14h0m0 21h0m-1 3h0m-3-8h0m-1-16h0m-1 5h0m0 8h0m-2 0h0m-1-8h0m0 15h0m-2-20h0m-1 20h0m-3 2h0m-2-21h0m-2 16h0m0-5h0m-1-14h0m0 6h0m-1 4h0m0 4h0m-3 10h0m-2-22h0m-1 5h0m0 18h0m-1-20h0m-3 11h0m-1-1h0m-1-4h0m0 13h0m-2-18h0m0 11h0m-1 5h0m0-16h0m0-1h0m-1 20h0m0-3h0m-3-3h0m-1-18h0m-2 24h0m-1-22h0m0-2h0m0 20h0m0 6h0m-1-9h0m0 5h0m-2-8h0m-1-7h0m0-4h0m0 10h0m-3-13h0m0 27h0m-1 0h0m0-27h0m-2 0h0m-3 4h0m-1-2h0m0 12h0m0-4h0m-1 17h0m0-16h0m-1 11h0m0-8h0m-1 6h0m-2-4h0m-3-18h0m-1 9h0m-1 11h0m-2 1h0m-1-19h0m0 24h0m-2-20h0m-1 5h0m-1-4h0m0 9h0m0-3h0m-1-2h0m-5 14h0m-3-9h0m-2-10h0m-2 2h0m0 15h0m-1-18h0m0 14h0m-2-12h0m-2-3h0m0 14h0m0-9h0m-1 12h0m0-6h0m-1 5h0m0-8h0m-3 15h0m-3-11h0m-8-3h0m0 14h0m-2-19h0m0 14h0m-4-20h0m-1 8h0m-5-10h0m-1 16h0m-3 2h0m0-8h0m-1 13h0m-4 4h0m-1-12h0m-1 9h0m-3-17h0m-2 15h0m0-1h0m-2-11h0m-13 19h0m-1-19h0m-15-6h0m-7 12h0m-11-10h0m-8 8h0m-3-9h0m-2 20h0m-3-17h0m-1-6h0m-21 8h0m-14 14h0m-33 3h0m-53 26h0m21 1h0m12 2h0m2-9h0m7-9h0m5 0h0m7 2h0m15 16h0m6 1h0m6 1h0m16 0h0m8-8h0m6-10h0m3 0h0m4 1h0m3-11h0m10 8h0m4 11h0m6-17h0m9 2h0m1 15h0m6 9h0m2-20h0m2 18h0m5-26h0m3 22h0m11-17h0m8 4h0m3-7h0m4-1h0m0 24h0m11-20h0m0 8h0m3-12h0m4 15h0m0-16h0m1 2h0m4 1h0m1 20h0m9-23h0m3 13h0m1-8h0m2-4h0m0 8h0m2 10h0m5 3h0m0-21h0m1 8h0m1 13h0m0-11h0m4-6h0m0 1h0m1 9h0m1-11h0m0-1h0m1 14h0m2-12h0m1 19h0m0-12h0m0 5h0m1 6h0m1-7h0m0-15h0m3 24h0m1-4h0m1 3h0m0-19h0m1 0h0m1 0h0m2 4h0m0 16h0m1-24h0m0 4h0m1-3h0m2 2h0m2 17h0m0-20h0m0 7h0m1 11h0m0-4h0m1 1h0m1 9h0m4-22h0m0-2h0m0 22h0m1 3h0m2-19h0m1 3h0m1-10h0m0 14h0m1-5h0m1-2h0m2-5h0m1 18h0m5-16h0m0-1h0m0 23h0m2-20h0m4 8h0m0 2h0m0-2h0m0 0h0m4-3h0m0-7h0m1 17h0m0-15h0m0-5h0m0 16h0m0 8h0m4 3h0m2-9h0m1-13h0m1 8h0m6-8h0m1-6h0m2 20h0m0-5h0m1-7h0m0 9h0m0 7h0m2-19h0m2 0h0m0 10h0m1 14h0m5-26h0m1 8h0m0 8h0m2-7h0m8 13h0m2-22h0m7 2h0m0 0h0m4 16h0m1-7h0m1-8h0m1-5h0m1 8h0m1-8h0m48 14h0m-83 25h0m-30-2h0m-9-7h0m-10 1h0m-8-2h0m-7 13h0m-9-11h0m-3 1h0m-12 8h0m-2 3h0m-3 2h0m-6 3h0m0 4h0m-1-1h0m-3-10h0m-2-6h0m-3 16h0m-16-1h0m-4-12h0m-6 6h0m-1-8h0m-4-6h0m-6 9h0m-13-2h0m-16-5h0m-1 11h0m-11 14h0m-9-11h0m-2 11h0m0-17h0m-1 11h0m-6-12h0m-10 1h0m-1 18h0m-7-26h0m-1 9h0m-1 1h0m-2-9h0m-2 19h0m0 0h0m-2-1h0m0-19h0m-4-2h0m-1 13h0m0 4h0m-13-12h0m-2-4h0m-1 26h0m-11 0h0m-5-26h0m-2 11h0m-4-6h0m-1 17h0m-4 0h0m-5 3h0m-2 1h0m-6-25h0m-5 3h0m0 22h0m-15-10h0m-11-3h0m-1-14h0m-1 26h0m-10-23h0m-6 0h0m-20 24h0m-14-5h0m-5-2h0m-19 4h0m-43 3h0m-8 30h0m1-11h0m34 7h0m11 4h0m10-12h0m6-4h0m1 10h0m7-6h0m14 6h0m3-7h0m2 10h0m7-4h0m3-15h0m1-1h0m4 4h0m19 3h0m5-12h0m2 0h0m1 6h0m10 0h0m1 2h0m1 15h0m2-21h0m0 3h0m3 6h0m4 0h0m1-4h0m5 2h0m1 18h0m4-9h0m2-5h0m0 2h0m0-6h0m2 3h0m1-11h0m1 14h0m3 4h0m1 9h0m3-19h0m1-2h0m1 14h0m1-9h0m6 2h0m5 15h0m1-25h0m4 9h0m3 3h0m4-6h0m9 19h0m7-28h0m21 13h0m3 3h0m2-9h0m2 2h0m5-9h0m1 18h0m4-13h0m5 12h0m67-17h0m-115 37h0m-5-5h0m-4-1h0m-6 5h0m0 2h0m-5 7h0m-9-12h0m-4-4h0m-18 2h0m-4 0h0m-3 3h0m-11-1h0m-3 22h0m-4-20h0m-8-1h0m-3-4h0m-1 21h0m0-21h0m-1 19h0m-4-15h0m0-3h0m-4 24h0m-13-25h0m-1 27h0m0-15h0m-1 14h0m0-14h0m-2-8h0m-1-2h0m-4 22h0m-3 1h0m-3-18h0m-1 4h0m-3 13h0m0-11h0m-15 14h0m-14-3h0m-1-13h0m-2 2h0m-6-4h0m-3 1h0m-13 14h0m-10 2h0m-2-20h0m-7 10h0m-3 10h0m-2-1h0m-8-8h0m-6 0h0m-1-5h0m-19-12h0m-5 27h0m-50 23h0m15-21h0m2 25h0m5-16h0m6-9h0m5 12h0m9 9h0m0-7h0m17-2h0m10-3h0m2 15h0m2-9h0m0 12h0m5 0h0m9 0h0m1-6h0m6-21h0m13 19h0m4-10h0m4-2h0m6 5h0m3-4h0m0-5h0m3 8h0m3-5h0m3-6h0m5 13h0m0 3h0m2-3h0m3-12h0m2 22h0m12-20h0m34-3h0m11 2h0m7 11h0m-76 22h0m-25-1h0m0-4h0m-8 2h0m-23 9h0m0-3h0m-1 0h0m-10 8h0m-5 2h0m0 8h0m-7-15h0m-2-9h0m-16 5h0m-1 14h0m-3-10h0" stroke="#1442f4" stroke-width="15.0" stroke-linecap="round" fill="none"/>
<path d="M2488 5639h0m80 15h0m67 23h0m-131 21h0m-29-11h0m97 22h0m16 8h0m44 13h0m-9 20h0m-54-12h0m-16 0h0m-3 16h0m-59-11h0m-61 7h0m-11 37h0m45-9h0m15-3h0m11-5h0m48-1h0m83 3h0m-49 21h0m-43 7h0m-10-8h0m-76 27h0m-23 19h0m8-13h0m23 8h0m3 6h0m19-1h0m38-5h0m63 10h0m13 5h0m4-4h0m-16 27h0m-105-14h0m-39-5h0m45 34h0m122 9h0m-73 36h0m-43-15h0" stroke="#686e86" stroke-width="12.0" stroke-linecap="round" fill="none" opacity="0.80"/>
<path d="M2623 5753h0m-51 15h0m29 11h0m43 10h0m62-10h0m-7 12h0m-14 28h0m-10-11h0m-5 1h0m-7-5h0m-1-8h0m-3 17h0m-2 4h0m-2-24h0m-1 24h0m-2-18h0m-4 18h0m0-19h0m-4-2h0m-1 16h0m-2 4h0m-4-9h0m0 10h0m-5-26h0m-1 20h0m-1 3h0m-1-1h0m-1-9h0m-1 15h0m-3-2h0m0-12h0m-1 0h0m0 10h0m-3-23h0m0 26h0m-1-8h0m-2 4h0m0-4h0m0 7h0m0-4h0m-1-6h0m-1 9h0m-5-1h0m-6-8h0m-2-1h0m-6-16h0m0 15h0m-2 6h0m-3-2h0m-1 5h0m-10-21h0m-5 8h0m-9 6h0m0 1h0m-5-14h0m-44 23h0m46 10h0m7 5h0m6 2h0m0-7h0m1 0h0m1 2h0m1 17h0m2-4h0m2-8h0m0-8h0m5 14h0m1-2h0m0 11h0m1-3h0m1-6h0m0-6h0m0 13h0m2-1h0m1-19h0m2 7h0m1 6h0m0-15h0m2 18h0m0-11h0m0-1h0m1 15h0m1-12h0m1 2h0m2-6h0m0-4h0m2 21h0m1-8h0m0 10h0m1-14h0m0 1h0m0-12h0m1 8h0m0 10h0m1-8h0m0 8h0m0-17h0m1 22h0m0-16h0m1-5h0m0 23h0m2-8h0m0 3h0m0-5h0m0 4h0m0 0h0m1-10h0m0 5h0m0-6h0m1-11h0m0 0h0m1 22h0m1-18h0m2 11h0m0 3h0m0-3h0m1-12h0m1 5h0m0-6h0m1 11h0m0 8h0m1-20h0m1 26h0m0-3h0m0-11h0m1 10h0m1-8h0m0-5h0m2 7h0m1 10h0m2-21h0m1 14h0m1-17h0m3 24h0m0-16h0m1-1h0m1 13h0m0 4h0m1-4h0m0-9h0m1-3h0m1 17h0m0-10h0m1-8h0m0-3h0m0 14h0m1-9h0m1-8h0m2-4h0m0 15h0m2-16h0m1 8h0m4 5h0m7 6h0m3-14h0m5 10h0m0 6h0m26 6h0m7-18h0m-3 36h0m-18 8h0m-3-19h0m-1 8h0m-1 2h0m-9 4h0m-6 7h0m0 0h0m-4-5h0m-1-8h0m-3 13h0m-4 0h0m-1-7h0m0-2h0m-4 4h0m-2 2h0m-1-4h0m-1 8h0m-1-22h0m-2 8h0m-1 15h0m-1-26h0m-3 10h0m0 12h0m-1 1h0m0-24h0m-1 5h0m-1 1h0m0 4h0m-1 6h0m0 2h0m-1 10h0m-1-9h0m-1-11h0m-1 11h0m-2-13h0m0-1h0m0 10h0m-1 8h0m0 5h0m-1-12h0m0-1h0m0-7h0m0-2h0m-1 0h0m-2 9h0m-1-4h0m0-9h0m0 16h0m-1-7h0m-3-10h0m0 18h0m-1-14h0m0 22h0m-1-25h0m0 2h0m0 15h0m-1-16h0m0-3h0m-1 14h0m0-11h0m-1 25h0m-1-26h0m0 12h0m-1 11h0m0-9h0m-2-5h0m0 11h0m0-3h0m0-1h0m-1-6h0m-2-5h0m0 16h0m0-13h0m0-9h0m0 22h0m0-18h0m-1-5h0m0 0h0m0 16h0m0-15h0m-1 9h0m0 11h0m-1 8h0m-1-22h0m0 9h0m0-9h0m-1 1h0m-1 8h0m0 7h0m0-21h0m-1 17h0m-2-19h0m-1 1h0m0 8h0m-2 12h0m-1-17h0m-1-4h0m-1 26h0m0-17h0m-1 11h0m0-16h0m-1 17h0m-1-16h0m-2 19h0m-1-21h0m-2 6h0m0 2h0m-1 12h0m0-13h0m0-2h0m0 10h0m-1-11h0m0 2h0m0 16h0m-2-22h0m-2 7h0m-2 15h0m-8-15h0m-42 24h0m13 9h0m12 15h0m8-22h0m21-1h0m0 16h0m2 7h0m1-25h0m1 5h0m0 7h0m2-9h0m5 19h0m1-4h0m5-1h0m2-5h0m0 3h0m7-12h0m2 9h0m1 11h0m6-23h0m0-1h0m0 1h0m1 21h0m1-23h0m1 27h0m5-18h0m2-6h0m3-3h0m0 21h0m2-19h0m0 3h0m2 12h0m0-9h0m2-4h0m9 2h0m1-4h0m2 8h0m3-6h0m8 10h0m2-12h0m18 0h0m-92 35h0" stroke="#30e01a" stroke-width="17.0" stroke-linecap="round" fill="none"/>
</g>
<path d="M222.8 338.9 L230.1 357.8 L226.0 359.4 L237.7 373.1 L237.2 355.1 L233.1 356.7 L225.8 337.7 Z" fill="#34434e" stroke="#34434e" stroke-width="0.6" stroke-linejoin="round"/>
<path d="M229.8 536.1 L241.4 556.2 L237.9 558.3 L251.5 570.3 L247.9 552.5 L244.3 554.6 L232.6 534.5 Z" fill="#34434e" stroke="#34434e" stroke-width="0.6" stroke-linejoin="round"/>
<rect x="39.0" y="56.0" width="115.8" height="117.0" fill="none" stroke="#30374a" stroke-width="1.4"/>
<path d="M39.05 173.05v5.8M39.05 173.05h-5.8M47.76 173.05v2.8M39.05 164.24h-2.8M56.48 173.05v2.8M39.05 155.44h-2.8M61.58 173.05v2.8M39.05 150.29h-2.8M65.19 173.05v2.8M39.05 146.63h-2.8M68.00 173.05v5.8M39.05 143.80h-5.8M76.71 173.05v2.8M39.05 134.99h-2.8M85.43 173.05v2.8M39.05 126.19h-2.8M90.53 173.05v2.8M39.05 121.04h-2.8M94.14 173.05v2.8M39.05 117.38h-2.8M96.95 173.05v5.8M39.05 114.55h-5.8M105.66 173.05v2.8M39.05 105.74h-2.8M114.38 173.05v2.8M39.05 96.94h-2.8M119.48 173.05v2.8M39.05 91.79h-2.8M123.09 173.05v2.8M39.05 88.13h-2.8M125.90 173.05v5.8M39.05 85.30h-5.8M134.61 173.05v2.8M39.05 76.49h-2.8M143.33 173.05v2.8M39.05 67.69h-2.8M148.43 173.05v2.8M39.05 62.54h-2.8M152.04 173.05v2.8M39.05 58.88h-2.8M154.85 173.05v5.8M39.05 56.05h-5.8" stroke="#30374a" stroke-width="1.3" fill="none"/>
<text x="34.1" y="188.7" class="tk">10<tspan dy="-3.3" class="sup">0</tspan></text>
<text transform="translate(31.2 179.7) rotate(-90)" class="tk">10<tspan dy="-3.3" class="sup">0</tspan></text>
<text x="63.1" y="188.7" class="tk">10<tspan dy="-3.3" class="sup">1</tspan></text>
<text transform="translate(31.2 150.4) rotate(-90)" class="tk">10<tspan dy="-3.3" class="sup">1</tspan></text>
<text x="92.0" y="188.7" class="tk">10<tspan dy="-3.3" class="sup">2</tspan></text>
<text transform="translate(31.2 121.2) rotate(-90)" class="tk">10<tspan dy="-3.3" class="sup">2</tspan></text>
<text x="121.0" y="188.7" class="tk">10<tspan dy="-3.3" class="sup">3</tspan></text>
<text transform="translate(31.2 91.9) rotate(-90)" class="tk">10<tspan dy="-3.3" class="sup">3</tspan></text>
<text x="149.9" y="188.7" class="tk">10<tspan dy="-3.3" class="sup">4</tspan></text>
<text transform="translate(31.2 62.6) rotate(-90)" class="tk">10<tspan dy="-3.3" class="sup">4</tspan></text>
<rect x="212.9" y="55.3" width="115.2" height="117.1" fill="none" stroke="#30374a" stroke-width="1.4"/>
<path d="M212.90 172.40v5.8M212.90 172.40h-5.8M220.10 172.40v2.8M212.90 165.08h-2.8M227.30 172.40v2.8M212.90 157.76h-2.8M234.50 172.40v2.8M212.90 150.44h-2.8M241.70 172.40v5.8M212.90 143.12h-5.8M248.90 172.40v2.8M212.90 135.81h-2.8M256.10 172.40v2.8M212.90 128.49h-2.8M263.30 172.40v2.8M212.90 121.17h-2.8M270.50 172.40v5.8M212.90 113.85h-5.8M277.70 172.40v2.8M212.90 106.53h-2.8M284.90 172.40v2.8M212.90 99.21h-2.8M292.10 172.40v2.8M212.90 91.89h-2.8M299.30 172.40v5.8M212.90 84.58h-5.8M306.50 172.40v2.8M212.90 77.26h-2.8M313.70 172.40v2.8M212.90 69.94h-2.8M320.90 172.40v2.8M212.90 62.62h-2.8M328.10 172.40v5.8M212.90 55.30h-5.8" stroke="#30374a" stroke-width="1.3" fill="none"/>
<text x="215.3" y="188.0" class="tk" text-anchor="middle">0</text>
<text transform="translate(204.9 169.8) rotate(-90)" class="tk" text-anchor="middle">0</text>
<text x="240.9" y="188.0" class="tk" text-anchor="middle">64</text>
<text transform="translate(204.9 144.1) rotate(-90)" class="tk" text-anchor="middle">64</text>
<text x="269.7" y="188.0" class="tk" text-anchor="middle">128</text>
<text transform="translate(204.9 114.8) rotate(-90)" class="tk" text-anchor="middle">128</text>
<text x="298.5" y="188.0" class="tk" text-anchor="middle">192</text>
<text transform="translate(204.9 85.6) rotate(-90)" class="tk" text-anchor="middle">192</text>
<text x="327.3" y="188.0" class="tk" text-anchor="middle">256</text>
<text transform="translate(204.9 56.3) rotate(-90)" class="tk" text-anchor="middle">256</text>
<rect x="39.4" y="277.0" width="115.5" height="117.1" fill="none" stroke="#30374a" stroke-width="1.4"/>
<path d="M39.40 394.10v5.8M39.40 394.10h-5.8M48.09 394.10v2.8M39.40 385.29h-2.8M56.78 394.10v2.8M39.40 376.47h-2.8M61.87 394.10v2.8M39.40 371.32h-2.8M65.48 394.10v2.8M39.40 367.66h-2.8M68.28 394.10v5.8M39.40 364.83h-5.8M76.97 394.10v2.8M39.40 356.01h-2.8M85.66 394.10v2.8M39.40 347.20h-2.8M90.74 394.10v2.8M39.40 342.04h-2.8M94.35 394.10v2.8M39.40 338.39h-2.8M97.15 394.10v5.8M39.40 335.55h-5.8M105.84 394.10v2.8M39.40 326.74h-2.8M114.53 394.10v2.8M39.40 317.92h-2.8M119.62 394.10v2.8M39.40 312.77h-2.8M123.23 394.10v2.8M39.40 309.11h-2.8M126.03 394.10v5.8M39.40 306.27h-5.8M134.72 394.10v2.8M39.40 297.46h-2.8M143.41 394.10v2.8M39.40 288.65h-2.8M148.49 394.10v2.8M39.40 283.49h-2.8M152.10 394.10v2.8M39.40 279.84h-2.8M154.90 394.10v5.8M39.40 277.00h-5.8" stroke="#30374a" stroke-width="1.3" fill="none"/>
<text x="34.5" y="409.7" class="tk">10<tspan dy="-3.3" class="sup">0</tspan></text>
<text transform="translate(31.6 400.7) rotate(-90)" class="tk">10<tspan dy="-3.3" class="sup">0</tspan></text>
<text x="63.4" y="409.7" class="tk">10<tspan dy="-3.3" class="sup">1</tspan></text>
<text transform="translate(31.6 371.4) rotate(-90)" class="tk">10<tspan dy="-3.3" class="sup">1</tspan></text>
<text x="92.2" y="409.7" class="tk">10<tspan dy="-3.3" class="sup">2</tspan></text>
<text transform="translate(31.6 342.2) rotate(-90)" class="tk">10<tspan dy="-3.3" class="sup">2</tspan></text>
<text x="121.1" y="409.7" class="tk">10<tspan dy="-3.3" class="sup">3</tspan></text>
<text transform="translate(31.6 312.9) rotate(-90)" class="tk">10<tspan dy="-3.3" class="sup">3</tspan></text>
<text x="150.0" y="409.7" class="tk">10<tspan dy="-3.3" class="sup">4</tspan></text>
<text transform="translate(31.6 283.6) rotate(-90)" class="tk">10<tspan dy="-3.3" class="sup">4</tspan></text>
<rect x="213.2" y="276.5" width="115.7" height="117.0" fill="none" stroke="#30374a" stroke-width="1.4"/>
<path d="M213.20 393.50v5.8M213.20 393.50h-5.8M220.43 393.50v2.8M213.20 386.19h-2.8M227.66 393.50v2.8M213.20 378.88h-2.8M234.89 393.50v2.8M213.20 371.56h-2.8M242.12 393.50v5.8M213.20 364.25h-5.8M249.36 393.50v2.8M213.20 356.94h-2.8M256.59 393.50v2.8M213.20 349.62h-2.8M263.82 393.50v2.8M213.20 342.31h-2.8M271.05 393.50v5.8M213.20 335.00h-5.8M278.28 393.50v2.8M213.20 327.69h-2.8M285.51 393.50v2.8M213.20 320.38h-2.8M292.74 393.50v2.8M213.20 313.06h-2.8M299.97 393.50v5.8M213.20 305.75h-5.8M307.21 393.50v2.8M213.20 298.44h-2.8M314.44 393.50v2.8M213.20 291.12h-2.8M321.67 393.50v2.8M213.20 283.81h-2.8M328.90 393.50v5.8M213.20 276.50h-5.8" stroke="#30374a" stroke-width="1.3" fill="none"/>
<text x="215.6" y="409.1" class="tk" text-anchor="middle">0</text>
<text transform="translate(205.2 390.9) rotate(-90)" class="tk" text-anchor="middle">0</text>
<text x="241.3" y="409.1" class="tk" text-anchor="middle">64</text>
<text transform="translate(205.2 365.2) rotate(-90)" class="tk" text-anchor="middle">64</text>
<text x="270.2" y="409.1" class="tk" text-anchor="middle">128</text>
<text transform="translate(205.2 336.0) rotate(-90)" class="tk" text-anchor="middle">128</text>
<text x="299.2" y="409.1" class="tk" text-anchor="middle">192</text>
<text transform="translate(205.2 306.8) rotate(-90)" class="tk" text-anchor="middle">192</text>
<text x="328.1" y="409.1" class="tk" text-anchor="middle">256</text>
<text transform="translate(205.2 277.5) rotate(-90)" class="tk" text-anchor="middle">256</text>
<rect x="39.8" y="487.0" width="115.7" height="117.2" fill="none" stroke="#30374a" stroke-width="1.4"/>
<path d="M39.80 604.20v5.8M39.80 604.20h-5.8M48.51 604.20v2.8M39.80 595.38h-2.8M57.21 604.20v2.8M39.80 586.56h-2.8M62.31 604.20v2.8M39.80 581.40h-2.8M65.92 604.20v2.8M39.80 577.74h-2.8M68.72 604.20v5.8M39.80 574.90h-5.8M77.43 604.20v2.8M39.80 566.08h-2.8M86.14 604.20v2.8M39.80 557.26h-2.8M91.23 604.20v2.8M39.80 552.10h-2.8M94.85 604.20v2.8M39.80 548.44h-2.8M97.65 604.20v5.8M39.80 545.60h-5.8M106.36 604.20v2.8M39.80 536.78h-2.8M115.06 604.20v2.8M39.80 527.96h-2.8M120.16 604.20v2.8M39.80 522.80h-2.8M123.77 604.20v2.8M39.80 519.14h-2.8M126.58 604.20v5.8M39.80 516.30h-5.8M135.28 604.20v2.8M39.80 507.48h-2.8M143.99 604.20v2.8M39.80 498.66h-2.8M149.08 604.20v2.8M39.80 493.50h-2.8M152.70 604.20v2.8M39.80 489.84h-2.8M155.50 604.20v5.8M39.80 487.00h-5.8" stroke="#30374a" stroke-width="1.3" fill="none"/>
<text x="34.9" y="619.8" class="tk">10<tspan dy="-3.3" class="sup">0</tspan></text>
<text transform="translate(32.0 610.8) rotate(-90)" class="tk">10<tspan dy="-3.3" class="sup">0</tspan></text>
<text x="63.8" y="619.8" class="tk">10<tspan dy="-3.3" class="sup">1</tspan></text>
<text transform="translate(32.0 581.5) rotate(-90)" class="tk">10<tspan dy="-3.3" class="sup">1</tspan></text>
<text x="92.8" y="619.8" class="tk">10<tspan dy="-3.3" class="sup">2</tspan></text>
<text transform="translate(32.0 552.2) rotate(-90)" class="tk">10<tspan dy="-3.3" class="sup">2</tspan></text>
<text x="121.7" y="619.8" class="tk">10<tspan dy="-3.3" class="sup">3</tspan></text>
<text transform="translate(32.0 522.9) rotate(-90)" class="tk">10<tspan dy="-3.3" class="sup">3</tspan></text>
<text x="150.6" y="619.8" class="tk">10<tspan dy="-3.3" class="sup">4</tspan></text>
<text transform="translate(32.0 493.6) rotate(-90)" class="tk">10<tspan dy="-3.3" class="sup">4</tspan></text>
<rect x="213.8" y="486.5" width="115.7" height="117.3" fill="none" stroke="#30374a" stroke-width="1.4"/>
<path d="M213.80 603.80v5.8M213.80 603.80h-5.8M221.03 603.80v2.8M213.80 596.47h-2.8M228.26 603.80v2.8M213.80 589.14h-2.8M235.49 603.80v2.8M213.80 581.81h-2.8M242.73 603.80v5.8M213.80 574.47h-5.8M249.96 603.80v2.8M213.80 567.14h-2.8M257.19 603.80v2.8M213.80 559.81h-2.8M264.42 603.80v2.8M213.80 552.48h-2.8M271.65 603.80v5.8M213.80 545.15h-5.8M278.88 603.80v2.8M213.80 537.82h-2.8M286.11 603.80v2.8M213.80 530.49h-2.8M293.34 603.80v2.8M213.80 523.16h-2.8M300.57 603.80v5.8M213.80 515.83h-5.8M307.81 603.80v2.8M213.80 508.49h-2.8M315.04 603.80v2.8M213.80 501.16h-2.8M322.27 603.80v2.8M213.80 493.83h-2.8M329.50 603.80v5.8M213.80 486.50h-5.8" stroke="#30374a" stroke-width="1.3" fill="none"/>
<text x="216.2" y="619.4" class="tk" text-anchor="middle">0</text>
<text transform="translate(205.8 601.2) rotate(-90)" class="tk" text-anchor="middle">0</text>
<text x="241.9" y="619.4" class="tk" text-anchor="middle">64</text>
<text transform="translate(205.8 575.5) rotate(-90)" class="tk" text-anchor="middle">64</text>
<text x="270.8" y="619.4" class="tk" text-anchor="middle">128</text>
<text transform="translate(205.8 546.1) rotate(-90)" class="tk" text-anchor="middle">128</text>
<text x="299.8" y="619.4" class="tk" text-anchor="middle">192</text>
<text transform="translate(205.8 516.8) rotate(-90)" class="tk" text-anchor="middle">192</text>
<text x="328.7" y="619.4" class="tk" text-anchor="middle">256</text>
<text transform="translate(205.8 487.5) rotate(-90)" class="tk" text-anchor="middle">256</text>
<text x="40.0" y="200.5" class="ax" fill="#3fc334" stroke="#3fc334">Mouse IgG1 FITC -&gt;</text>
<text transform="translate(19.8 172.0) rotate(-90)" class="ax" fill="#2444d4" stroke="#2444d4">Mouse IgG1 PE -&gt;</text>
<text x="214.0" y="200.0" class="ax" fill="#353b52" stroke="#353b52">FSC-Height -&gt;</text>
<text transform="translate(192.5 171.5) rotate(-90)" class="ax" fill="#3fb2e4" stroke="#3fb2e4">SSC-Height -&gt;</text>
<text x="40.0" y="421.5" class="ax" fill="#3fc334" stroke="#3fc334">CD19 FITC -&gt;</text>
<text transform="translate(19.8 393.0) rotate(-90)" class="ax" fill="#2444d4" stroke="#2444d4">CD13/33 PE -&gt;</text>
<text x="214.0" y="421.0" class="ax" fill="#353b52" stroke="#353b52">FSC-Height -&gt;</text>
<text transform="translate(192.5 392.5) rotate(-90)" class="ax" fill="#3fb2e4" stroke="#3fb2e4">SSC-Height -&gt;</text>
<text x="40.0" y="632.6" class="ax" fill="#3fc334" stroke="#3fc334">CD34 FITC -&gt;</text>
<text transform="translate(19.8 603.0) rotate(-90)" class="ax" fill="#2444d4" stroke="#2444d4">CD38 PE -&gt;</text>
<text x="214.0" y="631.0" class="ax" fill="#353b52" stroke="#353b52">FSC-Height -&gt;</text>
<text transform="translate(192.5 602.5) rotate(-90)" class="ax" fill="#3fb2e4" stroke="#3fb2e4">SSC-Height -&gt;</text>
<text transform="translate(35.4 31.6) scale(0.96 1)" class="big">A</text>
<text transform="translate(35.4 252.5) scale(0.96 1)" class="big">B</text>
<text transform="translate(35.4 462.4) scale(0.96 1)" class="big">C</text>
<text x="402.8" y="111.6" class="lg pc" text-anchor="end">0.07 %</text>
<text x="402.8" y="127.6" class="lg pc" text-anchor="end">0.12 %</text>
<rect x="410.5" y="100.6" width="11" height="11" fill="#30e01a"/>
<rect x="410.5" y="116.6" width="11" height="11" fill="#1442f4"/>
<text x="431" y="111.6" class="lg">Green Events</text>
<text x="431" y="127.6" class="lg">Blue Events</text>
<text x="402.8" y="332.8" class="lg pc" text-anchor="end">1.37 %</text>
<text x="402.8" y="348.0" class="lg pc" text-anchor="end">92.16 %</text>
<rect x="410.5" y="321.8" width="11" height="11" fill="#30e01a"/>
<rect x="410.5" y="337.0" width="11" height="11" fill="#1442f4"/>
<text x="431" y="332.8" class="lg">CD19+</text>
<text x="431" y="348.0" class="lg">CD13/CD33+</text>
<text x="402.8" y="543.2" class="lg pc" text-anchor="end">1.46 %</text>
<text x="402.8" y="558.4" class="lg pc" text-anchor="end">88.06 %</text>
<rect x="410.5" y="532.2" width="11" height="11" fill="#30e01a"/>
<rect x="410.5" y="547.4" width="11" height="11" fill="#1442f4"/>
<text x="431" y="543.2" class="lg">CD34+</text>
<text x="431" y="558.4" class="lg">CD38+</text>
</svg>
</body></html>
